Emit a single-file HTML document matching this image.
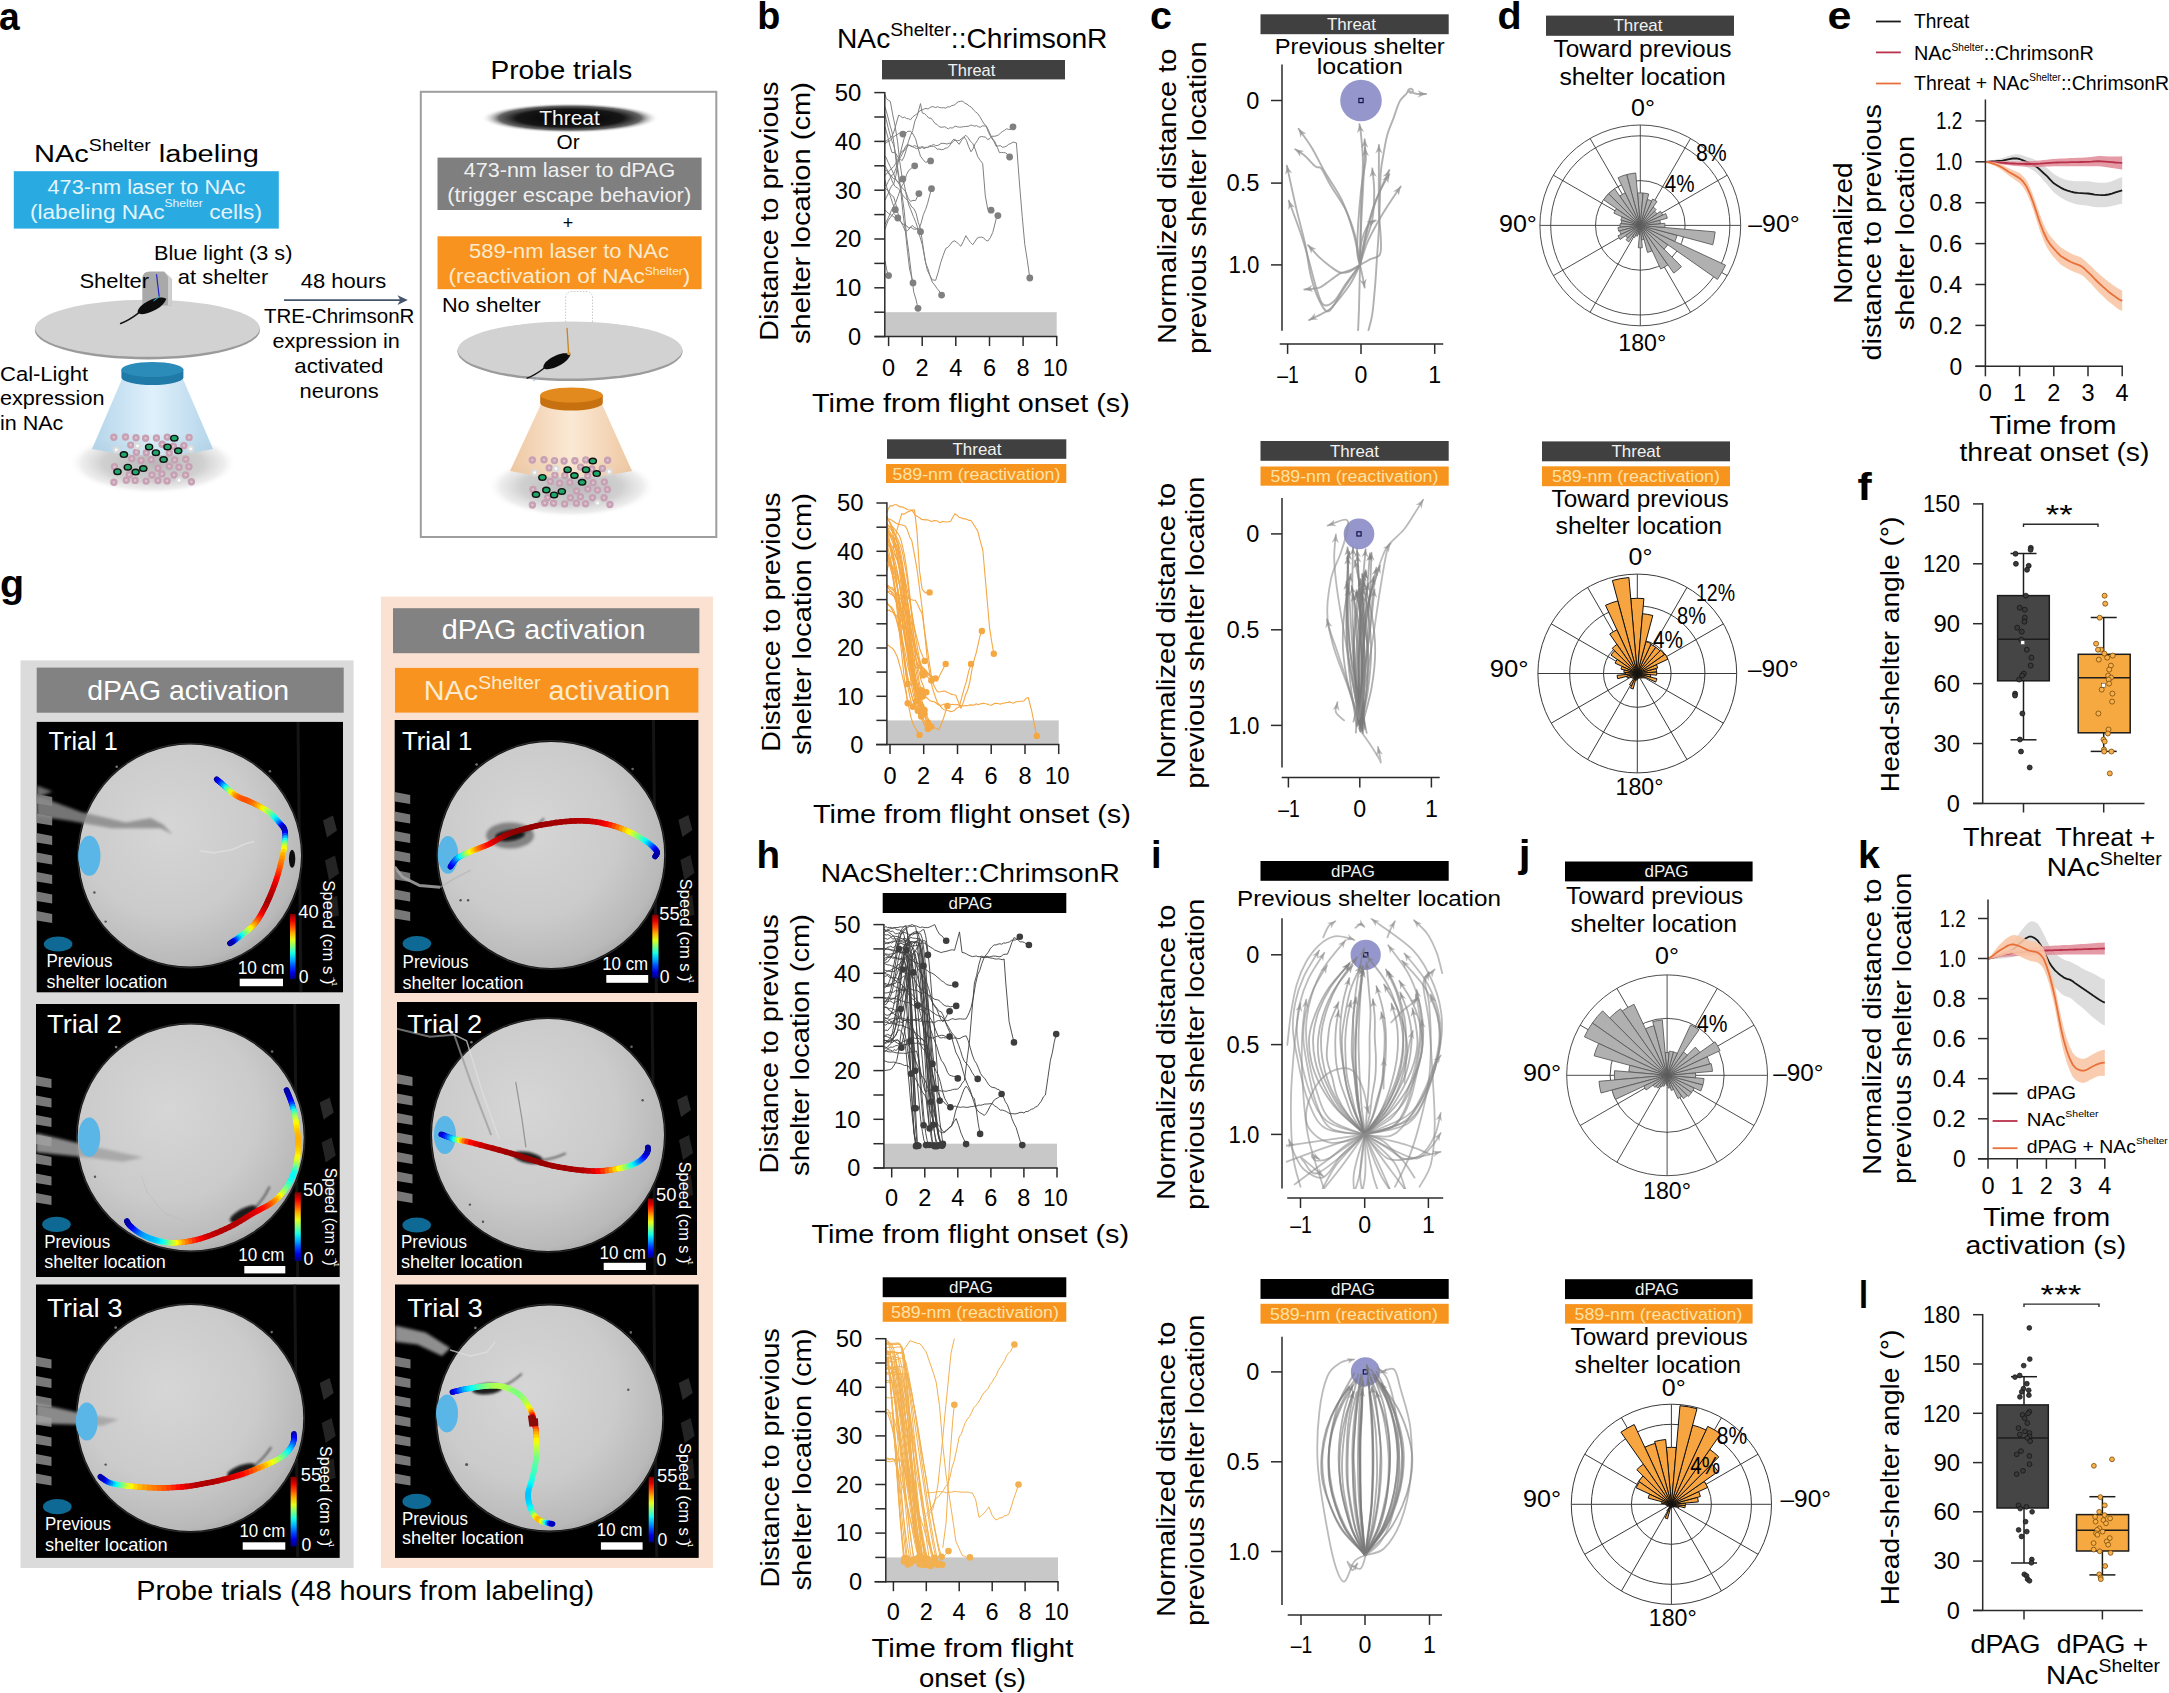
<!DOCTYPE html>
<html lang="en"><head><meta charset="utf-8"><title>Figure</title>
<style>html,body{margin:0;padding:0;background:#fff}svg{display:block}text{font-family:"Liberation Sans",Arial,sans-serif}</style></head>
<body>
<svg width="2169" height="1693" viewBox="0 0 2169 1693">
<rect width="2169" height="1693" fill="#fff"/>
<defs><radialGradient id="thr"><stop offset="0" stop-color="#000"/><stop offset="0.6" stop-color="#161616"/><stop offset="0.8" stop-color="#4a4a4a" stop-opacity="0.85"/><stop offset="1" stop-color="#fff" stop-opacity="0"/></radialGradient><radialGradient id="shad"><stop offset="0" stop-color="#b8b8b8"/><stop offset="0.6" stop-color="#d0d0d0"/><stop offset="0.85" stop-color="#e9e9e9" stop-opacity="0.8"/><stop offset="1" stop-color="#ffffff" stop-opacity="0"/></radialGradient><linearGradient id="coneB" x1="0" x2="1"><stop offset="0" stop-color="#a7cde6"/><stop offset="0.5" stop-color="#d9eefa"/><stop offset="1" stop-color="#a7cde6"/></linearGradient><linearGradient id="coneO" x1="0" x2="1"><stop offset="0" stop-color="#ecc096"/><stop offset="0.5" stop-color="#fae6cf"/><stop offset="1" stop-color="#ecc096"/></linearGradient></defs>
<text transform="translate(-1,29.5) scale(0.955,1)" font-size="39" fill="#000" font-weight="bold">a</text>
<text transform="translate(34,162.3) scale(1.185,1)" font-size="24.5">NAc<tspan font-size="16.5" dy="-11">Shelter</tspan><tspan font-size="24.5" dy="11"> labeling</tspan></text>
<rect x="13.8" y="171.2" width="265.0" height="57.4" fill="#29abe2"/>
<text transform="translate(47.5,193.5) scale(1.060,1)" font-size="20.5" fill="#e4f4fc">473-nm laser to NAc</text>
<text transform="translate(30,218.8) scale(1.103,1)" font-size="20.5" fill="#e4f4fc">(labeling NAc<tspan font-size="11" dy="-11.5">Shelter</tspan><tspan font-size="20.5" dy="11.5"> cells)</tspan></text>
<text transform="translate(154,260) scale(1.056,1)" font-size="20.5">Blue light (3 s)</text>
<text transform="translate(177.8,284.2) scale(1.073,1)" font-size="20.5">at shelter</text>
<text transform="translate(300.7,288.1) scale(1.073,1)" font-size="20.5">48 hours</text>
<path d="M284,300.1L401,300.1" stroke="#44546a" stroke-width="1.6" />
<path d="M407.8,300.1 L397.5,295.3 L400.3,300.1 L397.5,304.9 Z" fill="#44546a"/>
<text transform="translate(264,323.3) scale(1.001,1)" font-size="20.5">TRE-ChrimsonR</text>
<text transform="translate(272.5,348.1) scale(1.055,1)" font-size="20.5">expression in</text>
<text transform="translate(294.3,373.3) scale(1.087,1)" font-size="20.5">activated</text>
<text transform="translate(299.6,398.1) scale(1.068,1)" font-size="20.5">neurons</text>
<text transform="translate(0,380.7) scale(1.074,1)" font-size="20.5">Cal-Light</text>
<text transform="translate(0,405.3) scale(1.054,1)" font-size="20.5">expression</text>
<text transform="translate(0,430.4) scale(1.050,1)" font-size="20.5">in NAc</text>
<ellipse cx="147.4" cy="329.9" rx="112.6" ry="29.5" fill="#9b9b9b"/>
<ellipse cx="147.4" cy="328.3" rx="112.3" ry="28.5" fill="#d2d2d2"/>
<path d="M142.3,305.5 V279 Q142.3,271.6 150,271.6 H164 L171.8,279 V305.5 Z" fill="#a9a9a9"/>
<path d="M164,271.6 L171.8,279 V305.5 H168 V277 Z" fill="#cfcfcf"/>
<text transform="translate(79.4,287.7) scale(1.072,1)" font-size="20.5">Shelter</text>
<g transform="translate(151.0,306.0) rotate(-27) scale(1.0)">
<path d="M-15,0 C-13,-5 -4,-6.3 4,-5.6 C10,-5.2 15,-2.5 17,0.5 C14,3.4 9,5.2 3,5.4 C-5,5.6 -13,4.4 -15,0 Z" fill="#0c0c0c"/>
<path d="M-14,0.5 C-22,2 -28,2.5 -35,1.8" fill="none" stroke="#111" stroke-width="1.5" stroke-linecap="round"/>
</g>
<path d="M156.5,274.2L159.2,296.8" stroke="#2424c8" stroke-width="1.2" />
<path d="M159.2,296.8L153.5,301" stroke="#35c0e0" stroke-width="1.0" />
<ellipse cx="153.0" cy="463.0" rx="84.0" ry="31.0" fill="url(#shad)"/>
<path d="M122,379 L92,449 Q152.5,462 213,449 L183,379 Z" fill="url(#coneB)" opacity="0.85"/>
<path d="M121.4,369.5 V377.5 A31,7.5 0 0 0 183.4,377.5 V369.5 Z" fill="#1f7aa8"/>
<ellipse cx="152.4" cy="369.5" rx="31.0" ry="7.5" fill="#2b8cba"/>
<circle cx="113.8" cy="437.2" r="2.5" fill="#dcc3cf" stroke="#c7a0b3" stroke-width="2.4"/>
<circle cx="125.5" cy="437" r="2.5" fill="#dcc3cf" stroke="#c7a0b3" stroke-width="2.4"/>
<circle cx="136" cy="437.8" r="2.5" fill="#dcc3cf" stroke="#c7a0b3" stroke-width="2.4"/>
<circle cx="145.6" cy="438.2" r="2.5" fill="#dcc3cf" stroke="#c7a0b3" stroke-width="2.4"/>
<circle cx="156.4" cy="438" r="2.5" fill="#dcc3cf" stroke="#c7a0b3" stroke-width="2.4"/>
<circle cx="167.3" cy="437.1" r="2.5" fill="#dcc3cf" stroke="#c7a0b3" stroke-width="2.4"/>
<circle cx="189.1" cy="437.4" r="2.5" fill="#dcc3cf" stroke="#c7a0b3" stroke-width="2.4"/>
<circle cx="130.7" cy="445.1" r="2.5" fill="#dcc3cf" stroke="#c7a0b3" stroke-width="2.4"/>
<circle cx="162.1" cy="444.3" r="2.5" fill="#dcc3cf" stroke="#c7a0b3" stroke-width="2.4"/>
<circle cx="173.4" cy="446.2" r="2.5" fill="#dcc3cf" stroke="#c7a0b3" stroke-width="2.4"/>
<circle cx="183.9" cy="445.6" r="2.5" fill="#dcc3cf" stroke="#c7a0b3" stroke-width="2.4"/>
<circle cx="136.4" cy="452.3" r="2.5" fill="#dcc3cf" stroke="#c7a0b3" stroke-width="2.4"/>
<circle cx="146.3" cy="452.7" r="2.5" fill="#dcc3cf" stroke="#c7a0b3" stroke-width="2.4"/>
<circle cx="169.3" cy="453" r="2.5" fill="#dcc3cf" stroke="#c7a0b3" stroke-width="2.4"/>
<circle cx="131.8" cy="458.6" r="2.5" fill="#dcc3cf" stroke="#c7a0b3" stroke-width="2.4"/>
<circle cx="141.1" cy="460.4" r="2.5" fill="#dcc3cf" stroke="#c7a0b3" stroke-width="2.4"/>
<circle cx="151.3" cy="459.6" r="2.5" fill="#dcc3cf" stroke="#c7a0b3" stroke-width="2.4"/>
<circle cx="174.6" cy="459.9" r="2.5" fill="#dcc3cf" stroke="#c7a0b3" stroke-width="2.4"/>
<circle cx="185.8" cy="459.2" r="2.5" fill="#dcc3cf" stroke="#c7a0b3" stroke-width="2.4"/>
<circle cx="114.5" cy="466.7" r="2.5" fill="#dcc3cf" stroke="#c7a0b3" stroke-width="2.4"/>
<circle cx="158" cy="468.2" r="2.5" fill="#dcc3cf" stroke="#c7a0b3" stroke-width="2.4"/>
<circle cx="169.3" cy="466.2" r="2.5" fill="#dcc3cf" stroke="#c7a0b3" stroke-width="2.4"/>
<circle cx="179" cy="467.3" r="2.5" fill="#dcc3cf" stroke="#c7a0b3" stroke-width="2.4"/>
<circle cx="188.9" cy="466.7" r="2.5" fill="#dcc3cf" stroke="#c7a0b3" stroke-width="2.4"/>
<circle cx="129.3" cy="474.7" r="2.5" fill="#dcc3cf" stroke="#c7a0b3" stroke-width="2.4"/>
<circle cx="151.9" cy="475" r="2.5" fill="#dcc3cf" stroke="#c7a0b3" stroke-width="2.4"/>
<circle cx="161.9" cy="473.9" r="2.5" fill="#dcc3cf" stroke="#c7a0b3" stroke-width="2.4"/>
<circle cx="174" cy="475" r="2.5" fill="#dcc3cf" stroke="#c7a0b3" stroke-width="2.4"/>
<circle cx="185.6" cy="475" r="2.5" fill="#dcc3cf" stroke="#c7a0b3" stroke-width="2.4"/>
<circle cx="113.9" cy="482.2" r="2.5" fill="#dcc3cf" stroke="#c7a0b3" stroke-width="2.4"/>
<circle cx="126.3" cy="480.2" r="2.5" fill="#dcc3cf" stroke="#c7a0b3" stroke-width="2.4"/>
<circle cx="135.1" cy="480.4" r="2.5" fill="#dcc3cf" stroke="#c7a0b3" stroke-width="2.4"/>
<circle cx="146.1" cy="481.1" r="2.5" fill="#dcc3cf" stroke="#c7a0b3" stroke-width="2.4"/>
<circle cx="157.9" cy="480.5" r="2.5" fill="#dcc3cf" stroke="#c7a0b3" stroke-width="2.4"/>
<circle cx="167.1" cy="480.9" r="2.5" fill="#dcc3cf" stroke="#c7a0b3" stroke-width="2.4"/>
<circle cx="191.4" cy="481.7" r="2.5" fill="#dcc3cf" stroke="#c7a0b3" stroke-width="2.4"/>
<circle cx="137.5" cy="445.9" r="2.5" fill="#ffffff" stroke="#dcdcdc" stroke-width="2.2"/>
<circle cx="190.7" cy="448.8" r="2.5" fill="#ffffff" stroke="#dcdcdc" stroke-width="2.2"/>
<circle cx="116.2" cy="449.8" r="2.5" fill="#ffffff" stroke="#dcdcdc" stroke-width="2.2"/>
<circle cx="179.1" cy="480.4" r="2.5" fill="#ffffff" stroke="#dcdcdc" stroke-width="2.2"/>
<ellipse cx="174.3" cy="438.2" rx="4.3" ry="3.5" fill="#111"/>
<ellipse cx="174.3" cy="438.2" rx="2.8" ry="2.1" fill="#1fa869"/>
<ellipse cx="149.1" cy="446.9" rx="4.3" ry="3.5" fill="#111"/>
<ellipse cx="149.1" cy="446.9" rx="2.8" ry="2.1" fill="#1fa869"/>
<ellipse cx="167.5" cy="446.9" rx="4.3" ry="3.5" fill="#111"/>
<ellipse cx="167.5" cy="446.9" rx="2.8" ry="2.1" fill="#1fa869"/>
<ellipse cx="178.2" cy="450.8" rx="4.3" ry="3.5" fill="#111"/>
<ellipse cx="178.2" cy="450.8" rx="2.8" ry="2.1" fill="#1fa869"/>
<ellipse cx="123.9" cy="454.6" rx="4.3" ry="3.5" fill="#111"/>
<ellipse cx="123.9" cy="454.6" rx="2.8" ry="2.1" fill="#1fa869"/>
<ellipse cx="155.9" cy="452.7" rx="4.3" ry="3.5" fill="#111"/>
<ellipse cx="155.9" cy="452.7" rx="2.8" ry="2.1" fill="#1fa869"/>
<ellipse cx="163.6" cy="459.5" rx="4.3" ry="3.5" fill="#111"/>
<ellipse cx="163.6" cy="459.5" rx="2.8" ry="2.1" fill="#1fa869"/>
<ellipse cx="127.8" cy="467.2" rx="4.3" ry="3.5" fill="#111"/>
<ellipse cx="127.8" cy="467.2" rx="2.8" ry="2.1" fill="#1fa869"/>
<ellipse cx="143.3" cy="468.6" rx="4.3" ry="3.5" fill="#111"/>
<ellipse cx="143.3" cy="468.6" rx="2.8" ry="2.1" fill="#1fa869"/>
<ellipse cx="117.5" cy="471.7" rx="4.3" ry="3.5" fill="#111"/>
<ellipse cx="117.5" cy="471.7" rx="2.8" ry="2.1" fill="#1fa869"/>
<ellipse cx="135.6" cy="472.1" rx="4.3" ry="3.5" fill="#111"/>
<ellipse cx="135.6" cy="472.1" rx="2.8" ry="2.1" fill="#1fa869"/>
<text transform="translate(490.5,79.2) scale(1.078,1)" font-size="26">Probe trials</text>
<rect x="420.8" y="91.8" width="295.5" height="445.2" fill="none" stroke="#9e9e9e" stroke-width="2"/>
<ellipse cx="570.0" cy="118.1" rx="89.0" ry="15.0" fill="url(#thr)"/>
<text transform="translate(539.3,124.6) scale(0.996,1)" font-size="21" fill="#f5f5f5">Threat</text>
<text transform="translate(556.6,148.9) scale(1.015,1)" font-size="20.5">Or</text>
<rect x="437.5" y="157.6" width="264.1" height="52.4" fill="#7f7f7f"/>
<text transform="translate(463.8,177.2) scale(1.051,1)" font-size="20.5" fill="#f0f0f0">473-nm laser to dPAG</text>
<text transform="translate(447.2,202.1) scale(1.071,1)" font-size="20.5" fill="#f0f0f0">(trigger escape behavior)</text>
<text transform="translate(562.8,229) scale(1.000,1)" font-size="18">+</text>
<rect x="437.5" y="236.3" width="264.1" height="52.9" fill="#f7931e"/>
<text transform="translate(469.1,257.7) scale(1.070,1)" font-size="20.5" fill="#fdebd0">589-nm laser to NAc</text>
<text transform="translate(448.6,282.5) scale(1.097,1)" font-size="20.5" fill="#fdebd0">(reactivation of NAc<tspan font-size="11" dy="-8">Shelter</tspan><tspan font-size="20.5" dy="8">)</tspan></text>
<text transform="translate(441.9,311.5) scale(1.058,1)" font-size="20.5">No shelter</text>
<path d="M565.6,322 V298 Q565.6,291.5 572,291.5 H586 Q592.5,291.5 592.5,298 V322" fill="none" stroke="#bdbdbd" stroke-width="0.8" stroke-dasharray="1.5,1.5"/>
<ellipse cx="570.0" cy="351.6" rx="112.6" ry="29.5" fill="#9b9b9b"/>
<ellipse cx="570.0" cy="350.0" rx="112.3" ry="28.5" fill="#d2d2d2"/>
<g transform="translate(556.0,361.5) rotate(-27) scale(0.95)">
<path d="M-15,0 C-13,-5 -4,-6.3 4,-5.6 C10,-5.2 15,-2.5 17,0.5 C14,3.4 9,5.2 3,5.4 C-5,5.6 -13,4.4 -15,0 Z" fill="#0c0c0c"/>
<path d="M-14,0.5 C-22,2 -28,2.5 -35,1.8" fill="none" stroke="#111" stroke-width="1.5" stroke-linecap="round"/>
</g>
<path d="M567,327.9L568.6,352.7" stroke="#c8861a" stroke-width="1.3" />
<circle cx="568.8" cy="353.5" r="1.8" fill="#d89a3a"/>
<path d="M533,381L540,377" stroke="#9db4d6" stroke-width="0.8" />
<ellipse cx="571.5" cy="486.5" rx="84.0" ry="31.0" fill="url(#shad)"/>
<path d="M540.8,404.5 L510,471 Q571.5,484 632,471 L602.2,404.5 Z" fill="url(#coneO)" opacity="0.88"/>
<path d="M540.2,395 V403 A31.3,7.5 0 0 0 602.8,403 V395 Z" fill="#c7700f"/>
<ellipse cx="571.5" cy="395.0" rx="31.3" ry="7.5" fill="#e38a1e"/>
<circle cx="532.3" cy="460" r="2.5" fill="#dcc3cf" stroke="#c7a0b3" stroke-width="2.4"/>
<circle cx="544" cy="459.8" r="2.5" fill="#dcc3cf" stroke="#c7a0b3" stroke-width="2.4"/>
<circle cx="554.5" cy="460.6" r="2.5" fill="#dcc3cf" stroke="#c7a0b3" stroke-width="2.4"/>
<circle cx="564.1" cy="461" r="2.5" fill="#dcc3cf" stroke="#c7a0b3" stroke-width="2.4"/>
<circle cx="574.9" cy="460.8" r="2.5" fill="#dcc3cf" stroke="#c7a0b3" stroke-width="2.4"/>
<circle cx="585.8" cy="459.9" r="2.5" fill="#dcc3cf" stroke="#c7a0b3" stroke-width="2.4"/>
<circle cx="607.6" cy="460.2" r="2.5" fill="#dcc3cf" stroke="#c7a0b3" stroke-width="2.4"/>
<circle cx="549.2" cy="467.9" r="2.5" fill="#dcc3cf" stroke="#c7a0b3" stroke-width="2.4"/>
<circle cx="580.6" cy="467.1" r="2.5" fill="#dcc3cf" stroke="#c7a0b3" stroke-width="2.4"/>
<circle cx="591.9" cy="469" r="2.5" fill="#dcc3cf" stroke="#c7a0b3" stroke-width="2.4"/>
<circle cx="602.4" cy="468.4" r="2.5" fill="#dcc3cf" stroke="#c7a0b3" stroke-width="2.4"/>
<circle cx="554.9" cy="475.1" r="2.5" fill="#dcc3cf" stroke="#c7a0b3" stroke-width="2.4"/>
<circle cx="564.8" cy="475.5" r="2.5" fill="#dcc3cf" stroke="#c7a0b3" stroke-width="2.4"/>
<circle cx="587.8" cy="475.8" r="2.5" fill="#dcc3cf" stroke="#c7a0b3" stroke-width="2.4"/>
<circle cx="550.3" cy="481.4" r="2.5" fill="#dcc3cf" stroke="#c7a0b3" stroke-width="2.4"/>
<circle cx="559.6" cy="483.2" r="2.5" fill="#dcc3cf" stroke="#c7a0b3" stroke-width="2.4"/>
<circle cx="569.8" cy="482.4" r="2.5" fill="#dcc3cf" stroke="#c7a0b3" stroke-width="2.4"/>
<circle cx="593.1" cy="482.7" r="2.5" fill="#dcc3cf" stroke="#c7a0b3" stroke-width="2.4"/>
<circle cx="604.3" cy="482" r="2.5" fill="#dcc3cf" stroke="#c7a0b3" stroke-width="2.4"/>
<circle cx="533" cy="489.5" r="2.5" fill="#dcc3cf" stroke="#c7a0b3" stroke-width="2.4"/>
<circle cx="576.5" cy="491" r="2.5" fill="#dcc3cf" stroke="#c7a0b3" stroke-width="2.4"/>
<circle cx="587.8" cy="489" r="2.5" fill="#dcc3cf" stroke="#c7a0b3" stroke-width="2.4"/>
<circle cx="597.5" cy="490.1" r="2.5" fill="#dcc3cf" stroke="#c7a0b3" stroke-width="2.4"/>
<circle cx="607.4" cy="489.5" r="2.5" fill="#dcc3cf" stroke="#c7a0b3" stroke-width="2.4"/>
<circle cx="547.8" cy="497.5" r="2.5" fill="#dcc3cf" stroke="#c7a0b3" stroke-width="2.4"/>
<circle cx="570.4" cy="497.8" r="2.5" fill="#dcc3cf" stroke="#c7a0b3" stroke-width="2.4"/>
<circle cx="580.4" cy="496.7" r="2.5" fill="#dcc3cf" stroke="#c7a0b3" stroke-width="2.4"/>
<circle cx="592.5" cy="497.8" r="2.5" fill="#dcc3cf" stroke="#c7a0b3" stroke-width="2.4"/>
<circle cx="604.1" cy="497.8" r="2.5" fill="#dcc3cf" stroke="#c7a0b3" stroke-width="2.4"/>
<circle cx="532.4" cy="505" r="2.5" fill="#dcc3cf" stroke="#c7a0b3" stroke-width="2.4"/>
<circle cx="544.8" cy="503" r="2.5" fill="#dcc3cf" stroke="#c7a0b3" stroke-width="2.4"/>
<circle cx="553.6" cy="503.2" r="2.5" fill="#dcc3cf" stroke="#c7a0b3" stroke-width="2.4"/>
<circle cx="564.6" cy="503.9" r="2.5" fill="#dcc3cf" stroke="#c7a0b3" stroke-width="2.4"/>
<circle cx="576.4" cy="503.3" r="2.5" fill="#dcc3cf" stroke="#c7a0b3" stroke-width="2.4"/>
<circle cx="585.6" cy="503.7" r="2.5" fill="#dcc3cf" stroke="#c7a0b3" stroke-width="2.4"/>
<circle cx="609.9" cy="504.5" r="2.5" fill="#dcc3cf" stroke="#c7a0b3" stroke-width="2.4"/>
<circle cx="556" cy="468.7" r="2.5" fill="#ffffff" stroke="#dcdcdc" stroke-width="2.2"/>
<circle cx="609.2" cy="471.6" r="2.5" fill="#ffffff" stroke="#dcdcdc" stroke-width="2.2"/>
<circle cx="534.7" cy="472.6" r="2.5" fill="#ffffff" stroke="#dcdcdc" stroke-width="2.2"/>
<circle cx="597.6" cy="503.2" r="2.5" fill="#ffffff" stroke="#dcdcdc" stroke-width="2.2"/>
<ellipse cx="592.8" cy="461.0" rx="4.3" ry="3.5" fill="#111"/>
<ellipse cx="592.8" cy="461.0" rx="2.8" ry="2.1" fill="#1fa869"/>
<ellipse cx="567.6" cy="469.7" rx="4.3" ry="3.5" fill="#111"/>
<ellipse cx="567.6" cy="469.7" rx="2.8" ry="2.1" fill="#1fa869"/>
<ellipse cx="586.0" cy="469.7" rx="4.3" ry="3.5" fill="#111"/>
<ellipse cx="586.0" cy="469.7" rx="2.8" ry="2.1" fill="#1fa869"/>
<ellipse cx="596.7" cy="473.6" rx="4.3" ry="3.5" fill="#111"/>
<ellipse cx="596.7" cy="473.6" rx="2.8" ry="2.1" fill="#1fa869"/>
<ellipse cx="542.4" cy="477.4" rx="4.3" ry="3.5" fill="#111"/>
<ellipse cx="542.4" cy="477.4" rx="2.8" ry="2.1" fill="#1fa869"/>
<ellipse cx="574.4" cy="475.5" rx="4.3" ry="3.5" fill="#111"/>
<ellipse cx="574.4" cy="475.5" rx="2.8" ry="2.1" fill="#1fa869"/>
<ellipse cx="582.1" cy="482.3" rx="4.3" ry="3.5" fill="#111"/>
<ellipse cx="582.1" cy="482.3" rx="2.8" ry="2.1" fill="#1fa869"/>
<ellipse cx="546.3" cy="490.0" rx="4.3" ry="3.5" fill="#111"/>
<ellipse cx="546.3" cy="490.0" rx="2.8" ry="2.1" fill="#1fa869"/>
<ellipse cx="561.8" cy="491.4" rx="4.3" ry="3.5" fill="#111"/>
<ellipse cx="561.8" cy="491.4" rx="2.8" ry="2.1" fill="#1fa869"/>
<ellipse cx="536.0" cy="494.5" rx="4.3" ry="3.5" fill="#111"/>
<ellipse cx="536.0" cy="494.5" rx="2.8" ry="2.1" fill="#1fa869"/>
<ellipse cx="554.1" cy="494.9" rx="4.3" ry="3.5" fill="#111"/>
<ellipse cx="554.1" cy="494.9" rx="2.8" ry="2.1" fill="#1fa869"/>
<defs><radialGradient id="areG" cx="0.4" cy="0.38" r="0.72"><stop offset="0" stop-color="#d6d6d6"/><stop offset="0.55" stop-color="#cbcbcb"/><stop offset="0.85" stop-color="#b9b9b9"/><stop offset="1" stop-color="#9c9c9c"/></radialGradient><linearGradient id="jetG" x1="0" y1="1" x2="0" y2="0"><stop offset="0.0" stop-color="#00007f"/><stop offset="0.1" stop-color="#0000e5"/><stop offset="0.2" stop-color="#004cff"/><stop offset="0.3" stop-color="#00b2ff"/><stop offset="0.4" stop-color="#19ffe5"/><stop offset="0.5" stop-color="#7fff7f"/><stop offset="0.6" stop-color="#e5ff19"/><stop offset="0.7" stop-color="#ffb200"/><stop offset="0.8" stop-color="#ff4c00"/><stop offset="0.9" stop-color="#e50000"/><stop offset="1.0" stop-color="#7f0000"/></linearGradient><filter id="blur2" x="-30%" y="-80%" width="160%" height="260%"><feGaussianBlur stdDeviation="1.1"/></filter><filter id="blur3" x="-10%" y="-50%" width="120%" height="200%"><feGaussianBlur stdDeviation="1.6"/></filter></defs>
<text transform="translate(0,597.3) scale(1.011,1)" font-size="39" fill="#000" font-weight="bold">g</text>
<rect x="20.5" y="660.4" width="333.1" height="907.6" fill="#dbdbdb"/>
<rect x="381.0" y="596.6" width="332.0" height="971.4" fill="#fbe1d2"/>
<rect x="36.7" y="667.6" width="307.0" height="45.1" fill="#828282"/>
<text transform="translate(87.3,699.8) scale(1.053,1)" font-size="27" fill="#fff">dPAG activation</text>
<rect x="393.0" y="608.2" width="306.4" height="45.0" fill="#828282"/>
<text transform="translate(441.8,639.3) scale(1.064,1)" font-size="27" fill="#fff">dPAG activation</text>
<rect x="395.0" y="667.9" width="303.4" height="44.7" fill="#f7931e"/>
<text transform="translate(423.7,699.6) scale(1.067,1)" font-size="27" fill="#fdebd0">NAc<tspan font-size="18.5" dy="-11">Shelter</tspan><tspan font-size="27" dy="11"> activation</tspan></text>
<clipPath id="ic1"><rect x="36.7" y="721.9" width="306.3" height="270.4"/></clipPath>
<clipPath id="ac1"><circle cx="190.0" cy="855.6" r="111.0"/></clipPath>
<rect x="36.7" y="721.9" width="306.3" height="270.4" fill="#000"/>
<g clip-path="url(#ic1)">
<polygon points="36.7,793.9 52.2,796.9 52.2,805.9 36.7,803.4" fill="#8d8d8d" opacity="0.85"/>
<polygon points="36.7,813.4 52.2,816.4 52.2,825.4 36.7,822.9" fill="#8d8d8d" opacity="0.85"/>
<polygon points="36.7,832.9 52.2,835.9 52.2,844.9 36.7,842.4" fill="#8d8d8d" opacity="0.85"/>
<polygon points="36.7,852.4 52.2,855.4 52.2,864.4 36.7,861.9" fill="#8d8d8d" opacity="0.85"/>
<polygon points="36.7,871.9 52.2,874.9 52.2,883.9 36.7,881.4" fill="#8d8d8d" opacity="0.85"/>
<polygon points="36.7,891.4 52.2,894.4 52.2,903.4 36.7,900.9" fill="#8d8d8d" opacity="0.85"/>
<polygon points="36.7,910.9 52.2,913.9 52.2,922.9 36.7,920.4" fill="#8d8d8d" opacity="0.85"/>
<polygon points="323,820.6 333,815.6 337,830.6 327,837.6" fill="#2a2a2a"/>
<polygon points="325,860.6 335,855.6 339,873.6 329,880.6" fill="#242424"/>
<polygon points="328,900.6 337,895.6 339,915.6 331,917.6" fill="#1e1e1e"/>
<path d="M298,721.9L301,992.3" stroke="#141414" stroke-width="3" />
<circle cx="190" cy="855.6" r="112.2" fill="#0a0a0a" stroke="#2b2b2b" stroke-width="1.2"/>
<circle cx="190" cy="855.6" r="111" fill="url(#areG)"/>
<circle cx="116.7" cy="766.8" r="1.3" fill="#777"/>
<circle cx="269.9" cy="771.2" r="1.3" fill="#666"/>
<g filter="url(#blur3)">
<polygon points="36.7,795.6 81.1,812 126,822.5 150.5,818.1 162.7,824.2 172.9,834.4 160.6,828.3 142.3,828.3 111.7,828.3 71,821.1 36.7,816" fill="#8a8a8a" opacity="0.85"/>
<polygon points="36.7,785.5 52.6,791.6 36.7,797.7" fill="#6a6a6a"/>
</g>
<path d="M199.4,850.7 L213.6,852.7 L232.0,849.7 L246.3,843.5 L254.4,841.5" fill="none" stroke="#e2e2e2" stroke-width="1.5" opacity="0.7"/>
<g clip-path="url(#ac1)">
<circle cx="94.4" cy="892.5" r="1.2" fill="#555"/>
<circle cx="105.6" cy="921.6" r="1.2" fill="#555"/>
</g>
<ellipse cx="89.3" cy="855.8" rx="11.2" ry="20.0" fill="#5ab6e6"/>
<g stroke-width="5.6" stroke-linecap="round">
<path d="M216.7,779.3L217.3,779.9" stroke="#00009d"/>
<path d="M217.3,779.9L218.1,780.5" stroke="#0000b2"/>
<path d="M218.1,780.5L219,781.3" stroke="#0000cc"/>
<path d="M219,781.3L220,782.2" stroke="#0000eb"/>
<path d="M220,782.2L221.2,783.2" stroke="#0010ff"/>
<path d="M221.2,783.2L222.5,784.3" stroke="#0039ff"/>
<path d="M222.5,784.3L223.8,785.5" stroke="#0067ff"/>
<path d="M223.8,785.5L225.3,786.7" stroke="#009dff"/>
<path d="M225.3,786.7L226.8,788.2" stroke="#00deff"/>
<path d="M226.8,788.2L228.5,789.7" stroke="#2bffd3"/>
<path d="M228.5,789.7L230.3,791.3" stroke="#7aff84"/>
<path d="M230.3,791.3L232.1,792.8" stroke="#c8ff36"/>
<path d="M232.1,792.8L234.1,794.3" stroke="#ffef00"/>
<path d="M234.1,794.3L236.1,795.6" stroke="#ffb600"/>
<path d="M236.1,795.6L238.2,796.8" stroke="#ff8d00"/>
<path d="M238.2,796.8L240.4,797.8" stroke="#ff7100"/>
<path d="M240.4,797.8L242.8,798.8" stroke="#ff5e00"/>
<path d="M242.8,798.8L245.2,799.7" stroke="#ff5300"/>
<path d="M245.2,799.7L247.6,800.7" stroke="#ff5000"/>
<path d="M247.6,800.7L250,801.7" stroke="#ff5300"/>
<path d="M250,801.7L252.4,802.8" stroke="#ff5b00"/>
<path d="M252.4,802.8L254.8,804" stroke="#ff6900"/>
<path d="M254.8,804L257.2,805.2" stroke="#ff8000"/>
<path d="M257.2,805.2L259.7,806.5" stroke="#ff9e00"/>
<path d="M259.7,806.5L262.1,807.8" stroke="#ffc200"/>
<path d="M262.1,807.8L264.5,809.2" stroke="#ffea00"/>
<path d="M264.5,809.2L266.7,810.6" stroke="#ebff13"/>
<path d="M266.7,810.6L268.7,812" stroke="#c5ff39"/>
<path d="M268.7,812L270.5,813.4" stroke="#a0ff5e"/>
<path d="M270.5,813.4L272.2,814.8" stroke="#7dff81"/>
<path d="M272.2,814.8L273.7,816.3" stroke="#58ffa6"/>
<path d="M273.7,816.3L275.1,817.8" stroke="#34ffca"/>
<path d="M275.1,817.8L276.4,819.3" stroke="#0fffef"/>
<path d="M276.4,819.3L277.7,820.7" stroke="#00e9ff"/>
<path d="M277.7,820.7L278.9,822.1" stroke="#00c4ff"/>
<path d="M278.9,822.1L280,823.4" stroke="#009cff"/>
<path d="M280,823.4L281.1,824.6" stroke="#006cff"/>
<path d="M281.1,824.6L282.1,825.7" stroke="#0036ff"/>
<path d="M282.1,825.7L283.1,826.9" stroke="#0001ff"/>
<path d="M283.1,826.9L283.9,828.1" stroke="#0000d3"/>
<path d="M283.9,828.1L284.5,829.6" stroke="#0000b5"/>
<path d="M284.5,829.6L285,831.3" stroke="#0000af"/>
<path d="M285,831.3L285.2,833.3" stroke="#0000c6"/>
<path d="M285.2,833.3L285.3,835.5" stroke="#0000fe"/>
<path d="M285.3,835.5L285.3,837.9" stroke="#0050ff"/>
<path d="M285.3,837.9L285.1,840.4" stroke="#00afff"/>
<path d="M285.1,840.4L284.8,843.1" stroke="#15ffe9"/>
<path d="M284.8,843.1L284.4,845.8" stroke="#74ff8a"/>
<path d="M284.4,845.8L284,848.6" stroke="#c3ff3b"/>
<path d="M284,848.6L283.5,851.6" stroke="#fdff01"/>
<path d="M283.5,851.6L282.8,854.8" stroke="#ffd400"/>
<path d="M282.8,854.8L282.1,858.1" stroke="#ffb200"/>
<path d="M282.1,858.1L281.3,861.5" stroke="#ff9700"/>
<path d="M281.3,861.5L280.5,864.8" stroke="#ff8000"/>
<path d="M280.5,864.8L279.7,868" stroke="#ff6c00"/>
<path d="M279.7,868L278.9,871.1" stroke="#ff5700"/>
<path d="M278.9,871.1L278.1,873.9" stroke="#ff4100"/>
<path d="M278.1,873.9L277.3,876.6" stroke="#ff2b00"/>
<path d="M277.3,876.6L276.4,879.2" stroke="#ff1700"/>
<path d="M276.4,879.2L275.6,881.8" stroke="#ff0400"/>
<path d="M275.6,881.8L274.7,884.3" stroke="#f20000"/>
<path d="M274.7,884.3L273.7,886.8" stroke="#e40000"/>
<path d="M273.7,886.8L272.8,889.4" stroke="#d70000"/>
<path d="M272.8,889.4L271.7,892" stroke="#cb0000"/>
<path d="M271.7,892L270.6,894.7" stroke="#c00000"/>
<path d="M270.6,894.7L269.5,897.4" stroke="#b60000"/>
<path d="M269.5,897.4L268.3,900" stroke="#ad0000"/>
<path d="M268.3,900L267.1,902.7" stroke="#a80000"/>
<path d="M267.1,902.7L265.9,905.2" stroke="#a80000"/>
<path d="M265.9,905.2L264.6,907.8" stroke="#ae0000"/>
<path d="M264.6,907.8L263.3,910.2" stroke="#ba0000"/>
<path d="M263.3,910.2L262,912.7" stroke="#cc0000"/>
<path d="M262,912.7L260.6,915.1" stroke="#e40000"/>
<path d="M260.6,915.1L259.2,917.5" stroke="#ff0100"/>
<path d="M259.2,917.5L257.7,919.8" stroke="#ff2200"/>
<path d="M257.7,919.8L256.1,922" stroke="#ff4500"/>
<path d="M256.1,922L254.4,924.1" stroke="#ff6b00"/>
<path d="M254.4,924.1L252.5,926.1" stroke="#ff9400"/>
<path d="M252.5,926.1L250.5,928" stroke="#ffc100"/>
<path d="M250.5,928L248.4,929.9" stroke="#fff200"/>
<path d="M248.4,929.9L246.2,931.6" stroke="#d7ff27"/>
<path d="M246.2,931.6L244,933.3" stroke="#a1ff5d"/>
<path d="M244,933.3L242,934.8" stroke="#6aff94"/>
<path d="M242,934.8L240.1,936.3" stroke="#34ffca"/>
<path d="M240.1,936.3L238.4,937.6" stroke="#00fbff"/>
<path d="M238.4,937.6L236.6,938.9" stroke="#00c0ff"/>
<path d="M236.6,938.9L235,940.1" stroke="#0080ff"/>
<path d="M235,940.1L233.4,941.1" stroke="#0040ff"/>
<path d="M233.4,941.1L232,942.1" stroke="#0004ff"/>
<path d="M232,942.1L230.8,942.8" stroke="#0000cf"/>
<path d="M230.8,942.8L229.9,943.4" stroke="#0000a5"/>
</g>
</g>
<text transform="translate(48.5,749.8) scale(0.990,1)" font-size="25.5" fill="#fff">Trial 1</text>
<ellipse cx="58.1" cy="944.0" rx="14.3" ry="7.6" fill="#0e6a94"/>
<text transform="translate(46.5,966.9) scale(0.968,1)" font-size="17.5" fill="#fff">Previous</text>
<text transform="translate(46.5,988.3) scale(1.025,1)" font-size="17.5" fill="#fff">shelter location</text>
<text transform="translate(237.7,974) scale(0.957,1)" font-size="18" fill="#fff">10 cm</text>
<rect x="239.7" y="978.7" width="43.3" height="7.5" fill="#fff"/>
<rect x="290.0" y="913.9" width="5.6" height="65.2" fill="url(#jetG)"/>
<text transform="translate(298.2,918) scale(1.051,1)" font-size="17.5" fill="#fff">40</text>
<text transform="translate(298.8,983.2) scale(1.005,1)" font-size="17.5" fill="#fff">0</text>
<text transform="translate(323,934.8) rotate(90) scale(0.987,1)" x="-55.2" font-size="17" fill="#fff">Speed (cm s  )</text>
<text transform="translate(332.0,977.3) rotate(90)" font-size="8" fill="#fff">–1</text>
<ellipse cx="292.1" cy="858.8" rx="3.2" ry="9.0" fill="#0d0d0d"/>
<clipPath id="ic2"><rect x="394.7" y="720.0" width="303.7" height="273.0"/></clipPath>
<clipPath id="ac2"><circle cx="551.2" cy="854.9" r="113.0"/></clipPath>
<rect x="394.7" y="720.0" width="303.7" height="273.0" fill="#000"/>
<g clip-path="url(#ic2)">
<polygon points="394.7,792 410.2,795 410.2,804 394.7,801.5" fill="#8d8d8d" opacity="0.85"/>
<polygon points="394.7,811.5 410.2,814.5 410.2,823.5 394.7,821" fill="#8d8d8d" opacity="0.85"/>
<polygon points="394.7,831 410.2,834 410.2,843 394.7,840.5" fill="#8d8d8d" opacity="0.85"/>
<polygon points="394.7,850.5 410.2,853.5 410.2,862.5 394.7,860" fill="#8d8d8d" opacity="0.85"/>
<polygon points="394.7,870 410.2,873 410.2,882 394.7,879.5" fill="#8d8d8d" opacity="0.85"/>
<polygon points="394.7,889.5 410.2,892.5 410.2,901.5 394.7,899" fill="#8d8d8d" opacity="0.85"/>
<polygon points="394.7,909 410.2,912 410.2,921 394.7,918.5" fill="#8d8d8d" opacity="0.85"/>
<polygon points="678.4,819.9 688.4,814.9 692.4,829.9 682.4,836.9" fill="#2a2a2a"/>
<polygon points="680.4,859.9 690.4,854.9 694.4,872.9 684.4,879.9" fill="#242424"/>
<polygon points="683.4,899.9 692.4,894.9 694.4,914.9 686.4,916.9" fill="#1e1e1e"/>
<path d="M653.4,720L656.4,993" stroke="#141414" stroke-width="3" />
<circle cx="551.2" cy="854.9" r="114.2" fill="#0a0a0a" stroke="#2b2b2b" stroke-width="1.2"/>
<circle cx="551.2" cy="854.9" r="113" fill="url(#areG)"/>
<circle cx="476.6" cy="764.5" r="1.3" fill="#777"/>
<circle cx="632.6" cy="769" r="1.3" fill="#666"/>
<path d="M394.7,866.8 L402.6,877.1 L419.7,885.6 L440.1,887.3" fill="none" stroke="#a8a8a8" stroke-width="3" opacity="0.85"/>
<path d="M440.1,887.3 L453.8,878.8 L470.8,870.2" fill="none" stroke="#b0b0b0" stroke-width="1.5" opacity="0.6"/>
<g clip-path="url(#ac2)">
<circle cx="460.6" cy="900.3" r="1.2" fill="#555"/>
<circle cx="468.1" cy="900.3" r="1.2" fill="#555"/>
<ellipse cx="510.1" cy="835.4" rx="24" ry="13" fill="#333" opacity="0.5" filter="url(#blur3)"/>
</g>
<ellipse cx="448.0" cy="854.9" rx="10.2" ry="18.8" fill="#5ab6e6"/>
<g transform="translate(510.1,835.4) rotate(-8)" filter="url(#blur2)">
<ellipse cx="0" cy="0" rx="15" ry="5.6" fill="#0a0a0a" opacity="0.92"/>
<path d="M12,0 C20,-2 28,-6 36,-12" fill="none" stroke="#333" stroke-width="1.4"/>
</g>
<g stroke-width="5.6" stroke-linecap="round">
<path d="M450.4,866.8L450.9,866" stroke="#0000bb"/>
<path d="M450.9,866L451.6,865" stroke="#0000ce"/>
<path d="M451.6,865L452.4,863.7" stroke="#0000e6"/>
<path d="M452.4,863.7L453.4,862.3" stroke="#0003ff"/>
<path d="M453.4,862.3L454.5,860.9" stroke="#0023ff"/>
<path d="M454.5,860.9L455.8,859.5" stroke="#0046ff"/>
<path d="M455.8,859.5L457.2,858.3" stroke="#006cff"/>
<path d="M457.2,858.3L458.7,857.2" stroke="#0095ff"/>
<path d="M458.7,857.2L460.5,856.2" stroke="#00c4ff"/>
<path d="M460.5,856.2L462.4,855.3" stroke="#00f8ff"/>
<path d="M462.4,855.3L464.4,854.3" stroke="#2fffcf"/>
<path d="M464.4,854.3L466.5,853.4" stroke="#67ff97"/>
<path d="M466.5,853.4L468.6,852.4" stroke="#9cff62"/>
<path d="M468.6,852.4L470.8,851.5" stroke="#ceff30"/>
<path d="M470.8,851.5L473,850.5" stroke="#faff04"/>
<path d="M473,850.5L475.3,849.7" stroke="#ffd900"/>
<path d="M475.3,849.7L477.5,848.8" stroke="#ffb100"/>
<path d="M477.5,848.8L479.9,847.9" stroke="#ff8b00"/>
<path d="M479.9,847.9L482.4,847" stroke="#ff6700"/>
<path d="M482.4,847L485.1,845.9" stroke="#ff4600"/>
<path d="M485.1,845.9L487.9,844.7" stroke="#ff2800"/>
<path d="M487.9,844.7L490.9,843.2" stroke="#ff0c00"/>
<path d="M490.9,843.2L493.9,841.5" stroke="#f10000"/>
<path d="M493.9,841.5L497.1,839.7" stroke="#da0000"/>
<path d="M497.1,839.7L500.5,837.9" stroke="#c50000"/>
<path d="M500.5,837.9L504,836" stroke="#b40000"/>
<path d="M504,836L507.8,834.3" stroke="#a50000"/>
<path d="M507.8,834.3L511.8,832.7" stroke="#990000"/>
<path d="M511.8,832.7L516.1,831.3" stroke="#900000"/>
<path d="M516.1,831.3L520.8,829.9" stroke="#8c0000"/>
<path d="M520.8,829.9L525.7,828.5" stroke="#8c0000"/>
<path d="M525.7,828.5L530.7,827.3" stroke="#8f0000"/>
<path d="M530.7,827.3L535.8,826.1" stroke="#930000"/>
<path d="M535.8,826.1L540.9,825.1" stroke="#980000"/>
<path d="M540.9,825.1L545.9,824.2" stroke="#9c0000"/>
<path d="M545.9,824.2L550.8,823.4" stroke="#9f0000"/>
<path d="M550.8,823.4L555.8,822.6" stroke="#a00000"/>
<path d="M555.8,822.6L560.9,822" stroke="#a20000"/>
<path d="M560.9,822L565.9,821.5" stroke="#a40000"/>
<path d="M565.9,821.5L570.8,821.1" stroke="#a70000"/>
<path d="M570.8,821.1L575.5,820.9" stroke="#aa0000"/>
<path d="M575.5,820.9L580,820.8" stroke="#af0000"/>
<path d="M580,820.8L584.3,820.9" stroke="#b50000"/>
<path d="M584.3,820.9L588.4,821.1" stroke="#ba0000"/>
<path d="M588.4,821.1L592.4,821.5" stroke="#c00000"/>
<path d="M592.4,821.5L596.2,822" stroke="#c70000"/>
<path d="M596.2,822L600,822.6" stroke="#d00000"/>
<path d="M600,822.6L603.6,823.4" stroke="#dd0000"/>
<path d="M603.6,823.4L607.3,824.2" stroke="#ef0000"/>
<path d="M607.3,824.2L611,825.1" stroke="#ff0800"/>
<path d="M611,825.1L614.6,826.2" stroke="#ff2700"/>
<path d="M614.6,826.2L618.1,827.4" stroke="#ff4b00"/>
<path d="M618.1,827.4L621.6,828.7" stroke="#ff7300"/>
<path d="M621.6,828.7L625,830" stroke="#ff9c00"/>
<path d="M625,830L628.2,831.4" stroke="#ffc600"/>
<path d="M628.2,831.4L631.2,832.7" stroke="#fff000"/>
<path d="M631.2,832.7L634.1,834.1" stroke="#e6ff18"/>
<path d="M634.1,834.1L636.8,835.6" stroke="#bfff3f"/>
<path d="M636.8,835.6L639.4,837.1" stroke="#97ff67"/>
<path d="M639.4,837.1L641.9,838.6" stroke="#6fff8f"/>
<path d="M641.9,838.6L644.2,840.1" stroke="#47ffb7"/>
<path d="M644.2,840.1L646.3,841.6" stroke="#20ffde"/>
<path d="M646.3,841.6L648.2,842.9" stroke="#00f8ff"/>
<path d="M648.2,842.9L650,844.3" stroke="#00d1ff"/>
<path d="M650,844.3L651.6,845.6" stroke="#00aaff"/>
<path d="M651.6,845.6L653,846.9" stroke="#0081ff"/>
<path d="M653,846.9L654.3,848.1" stroke="#0059ff"/>
<path d="M654.3,848.1L655.3,849.3" stroke="#0033ff"/>
<path d="M655.3,849.3L656.2,850.4" stroke="#0011ff"/>
<path d="M656.2,850.4L656.8,851.5" stroke="#0000f2"/>
<path d="M656.8,851.5L657.1,852.4" stroke="#0000db"/>
<path d="M657.1,852.4L657,853.3" stroke="#0000c9"/>
<path d="M657,853.3L656.7,854.2" stroke="#0000bb"/>
<path d="M656.7,854.2L656.2,854.9" stroke="#0000b2"/>
<path d="M656.2,854.9L655.7,855.6" stroke="#0000ab"/>
<path d="M655.7,855.6L655.3,856.2" stroke="#0000a5"/>
<path d="M655.3,856.2L655.1,856.6" stroke="#0000a0"/>
</g>
</g>
<text transform="translate(401.9,750.1) scale(1.009,1)" font-size="25.5" fill="#fff">Trial 1</text>
<ellipse cx="416.9" cy="943.6" rx="14.3" ry="7.6" fill="#0e6a94"/>
<text transform="translate(402.6,967.5) scale(0.968,1)" font-size="17.5" fill="#fff">Previous</text>
<text transform="translate(402.6,988.6) scale(1.028,1)" font-size="17.5" fill="#fff">shelter location</text>
<text transform="translate(602.2,969.9) scale(0.939,1)" font-size="18" fill="#fff">10 cm</text>
<rect x="606.3" y="975.0" width="41.9" height="7.8" fill="#fff"/>
<rect x="652.3" y="914.6" width="6.2" height="63.8" fill="url(#jetG)"/>
<text transform="translate(659.2,920.4) scale(1.051,1)" font-size="17.5" fill="#fff">55</text>
<text transform="translate(659.8,982.8) scale(1.005,1)" font-size="17.5" fill="#fff">0</text>
<text transform="translate(679.5,932.5) rotate(90) scale(0.972,1)" x="-55.2" font-size="17" fill="#fff">Speed (cm s  )</text>
<text transform="translate(688.5,974.2) rotate(90)" font-size="8" fill="#fff">–1</text>
<clipPath id="ic3"><rect x="36.0" y="1004.0" width="303.7" height="273.0"/></clipPath>
<clipPath id="ac3"><circle cx="190.7" cy="1137.5" r="113.0"/></clipPath>
<rect x="36.0" y="1004.0" width="303.7" height="273.0" fill="#000"/>
<g clip-path="url(#ic3)">
<polygon points="36,1076 51.5,1079 51.5,1088 36,1085.5" fill="#8d8d8d" opacity="0.85"/>
<polygon points="36,1095.5 51.5,1098.5 51.5,1107.5 36,1105" fill="#8d8d8d" opacity="0.85"/>
<polygon points="36,1115 51.5,1118 51.5,1127 36,1124.5" fill="#8d8d8d" opacity="0.85"/>
<polygon points="36,1134.5 51.5,1137.5 51.5,1146.5 36,1144" fill="#8d8d8d" opacity="0.85"/>
<polygon points="36,1154 51.5,1157 51.5,1166 36,1163.5" fill="#8d8d8d" opacity="0.85"/>
<polygon points="36,1173.5 51.5,1176.5 51.5,1185.5 36,1183" fill="#8d8d8d" opacity="0.85"/>
<polygon points="36,1193 51.5,1196 51.5,1205 36,1202.5" fill="#8d8d8d" opacity="0.85"/>
<polygon points="319.7,1102.5 329.7,1097.5 333.7,1112.5 323.7,1119.5" fill="#2a2a2a"/>
<polygon points="321.7,1142.5 331.7,1137.5 335.7,1155.5 325.7,1162.5" fill="#242424"/>
<polygon points="324.7,1182.5 333.7,1177.5 335.7,1197.5 327.7,1199.5" fill="#1e1e1e"/>
<path d="M294.7,1004L297.7,1277" stroke="#141414" stroke-width="3" />
<circle cx="190.7" cy="1137.5" r="114.2" fill="#0a0a0a" stroke="#2b2b2b" stroke-width="1.2"/>
<circle cx="190.7" cy="1137.5" r="113" fill="url(#areG)"/>
<circle cx="116.1" cy="1047.1" r="1.3" fill="#777"/>
<circle cx="272.1" cy="1051.6" r="1.3" fill="#666"/>
<g filter="url(#blur3)">
<polygon points="36,1133 81.9,1144.1 143.3,1157.6 122.8,1161.7 77.8,1156.4 36,1152.3" fill="#a2a2a2" opacity="0.85"/>
</g>
<g clip-path="url(#ac3)">
<circle cx="95" cy="1176.8" r="1.2" fill="#555"/>
<path d="M141.2,1176.0 L147.3,1192.4 L163.7,1212.8 L184.2,1221.0" fill="none" stroke="#bdbdbd" stroke-width="1.0" opacity="0.6"/>
</g>
<ellipse cx="89.2" cy="1137.1" rx="11.0" ry="19.6" fill="#5ab6e6"/>
<g transform="translate(243.5,1214.1) rotate(-28)" filter="url(#blur2)">
<ellipse cx="0" cy="0" rx="15" ry="5.6" fill="#0a0a0a" opacity="0.92"/>
<path d="M12,0 C20,-2 28,-6 36,-12" fill="none" stroke="#333" stroke-width="1.4"/>
</g>
<g stroke-width="5.6" stroke-linecap="round">
<path d="M286.5,1090L287,1091.1" stroke="#0000a0"/>
<path d="M287,1091.1L287.6,1092.5" stroke="#0000a5"/>
<path d="M287.6,1092.5L288.3,1094.2" stroke="#0000aa"/>
<path d="M288.3,1094.2L289.1,1096.1" stroke="#0000b1"/>
<path d="M289.1,1096.1L289.9,1098.2" stroke="#0000bc"/>
<path d="M289.9,1098.2L290.7,1100.2" stroke="#0000ce"/>
<path d="M290.7,1100.2L291.4,1102.3" stroke="#0000e9"/>
<path d="M291.4,1102.3L292.1,1104.4" stroke="#0012ff"/>
<path d="M292.1,1104.4L292.7,1106.6" stroke="#0048ff"/>
<path d="M292.7,1106.6L293.3,1108.8" stroke="#008aff"/>
<path d="M293.3,1108.8L293.9,1111.2" stroke="#00d2ff"/>
<path d="M293.9,1111.2L294.5,1113.6" stroke="#1cffe2"/>
<path d="M294.5,1113.6L295,1116.1" stroke="#5fff9f"/>
<path d="M295,1116.1L295.5,1118.7" stroke="#99ff65"/>
<path d="M295.5,1118.7L296,1121.4" stroke="#c5ff39"/>
<path d="M296,1121.4L296.4,1124.2" stroke="#e9ff15"/>
<path d="M296.4,1124.2L296.9,1127.2" stroke="#fff600"/>
<path d="M296.9,1127.2L297.2,1130.2" stroke="#ffdf00"/>
<path d="M297.2,1130.2L297.6,1133.2" stroke="#ffcc00"/>
<path d="M297.6,1133.2L297.8,1136.2" stroke="#ffbf00"/>
<path d="M297.8,1136.2L298,1139.2" stroke="#ffb600"/>
<path d="M298,1139.2L298.1,1142.1" stroke="#ffb100"/>
<path d="M298.1,1142.1L298.1,1145.1" stroke="#ffb200"/>
<path d="M298.1,1145.1L298,1148.1" stroke="#ffb800"/>
<path d="M298,1148.1L297.9,1151.1" stroke="#ffc200"/>
<path d="M297.9,1151.1L297.7,1154.1" stroke="#ffd100"/>
<path d="M297.7,1154.1L297.5,1156.9" stroke="#ffe300"/>
<path d="M297.5,1156.9L297.2,1159.6" stroke="#fff800"/>
<path d="M297.2,1159.6L296.7,1162.2" stroke="#ebff13"/>
<path d="M296.7,1162.2L296.2,1164.7" stroke="#c8ff36"/>
<path d="M296.2,1164.7L295.7,1167" stroke="#9fff5f"/>
<path d="M295.7,1167L295,1169.3" stroke="#73ff8b"/>
<path d="M295,1169.3L294.3,1171.6" stroke="#48ffb6"/>
<path d="M294.3,1171.6L293.5,1173.8" stroke="#25ffd9"/>
<path d="M293.5,1173.8L292.6,1176" stroke="#0dfff1"/>
<path d="M292.6,1176L291.7,1178.2" stroke="#03fffb"/>
<path d="M291.7,1178.2L290.7,1180.3" stroke="#05fff9"/>
<path d="M290.7,1180.3L289.6,1182.4" stroke="#11ffed"/>
<path d="M289.6,1182.4L288.5,1184.4" stroke="#23ffdb"/>
<path d="M288.5,1184.4L287.2,1186.4" stroke="#3bffc3"/>
<path d="M287.2,1186.4L285.9,1188.4" stroke="#56ffa8"/>
<path d="M285.9,1188.4L284.5,1190.3" stroke="#71ff8d"/>
<path d="M284.5,1190.3L283,1192.2" stroke="#8eff70"/>
<path d="M283,1192.2L281.4,1194" stroke="#afff4f"/>
<path d="M281.4,1194L279.8,1195.8" stroke="#d5ff29"/>
<path d="M279.8,1195.8L278.1,1197.6" stroke="#fdff01"/>
<path d="M278.1,1197.6L276.3,1199.3" stroke="#ffd800"/>
<path d="M276.3,1199.3L274.3,1201" stroke="#ffb200"/>
<path d="M274.3,1201L272.2,1202.6" stroke="#ff8f00"/>
<path d="M272.2,1202.6L269.9,1204.1" stroke="#ff7100"/>
<path d="M269.9,1204.1L267.5,1205.6" stroke="#ff5600"/>
<path d="M267.5,1205.6L265,1206.9" stroke="#ff3d00"/>
<path d="M265,1206.9L262.4,1208.3" stroke="#ff2600"/>
<path d="M262.4,1208.3L259.7,1209.7" stroke="#ff1100"/>
<path d="M259.7,1209.7L256.8,1211.2" stroke="#fd0000"/>
<path d="M256.8,1211.2L253.8,1212.8" stroke="#ed0000"/>
<path d="M253.8,1212.8L250.6,1214.7" stroke="#de0000"/>
<path d="M250.6,1214.7L247.3,1216.7" stroke="#d20000"/>
<path d="M247.3,1216.7L243.9,1218.8" stroke="#c70000"/>
<path d="M243.9,1218.8L240.3,1221" stroke="#bf0000"/>
<path d="M240.3,1221L236.7,1223.2" stroke="#b90000"/>
<path d="M236.7,1223.2L233,1225.2" stroke="#b50000"/>
<path d="M233,1225.2L229.2,1227.2" stroke="#b30000"/>
<path d="M229.2,1227.2L225.3,1229" stroke="#b20000"/>
<path d="M225.3,1229L221.2,1230.9" stroke="#b30000"/>
<path d="M221.2,1230.9L217,1232.7" stroke="#b50000"/>
<path d="M217,1232.7L212.8,1234.4" stroke="#b90000"/>
<path d="M212.8,1234.4L208.6,1236" stroke="#c00000"/>
<path d="M208.6,1236L204.5,1237.4" stroke="#cb0000"/>
<path d="M204.5,1237.4L200.6,1238.6" stroke="#dc0000"/>
<path d="M200.6,1238.6L196.8,1239.6" stroke="#f20000"/>
<path d="M196.8,1239.6L193.1,1240.5" stroke="#ff0f00"/>
<path d="M193.1,1240.5L189.4,1241.2" stroke="#ff3000"/>
<path d="M189.4,1241.2L185.9,1241.8" stroke="#ff5600"/>
<path d="M185.9,1241.8L182.4,1242.2" stroke="#ff7e00"/>
<path d="M182.4,1242.2L179.1,1242.5" stroke="#ffa700"/>
<path d="M179.1,1242.5L176,1242.7" stroke="#ffd100"/>
<path d="M176,1242.7L173,1242.8" stroke="#fffb00"/>
<path d="M173,1242.8L170.2,1242.7" stroke="#d5ff29"/>
<path d="M170.2,1242.7L167.6,1242.5" stroke="#a5ff59"/>
<path d="M167.6,1242.5L165,1242.2" stroke="#74ff8a"/>
<path d="M165,1242.2L162.5,1241.8" stroke="#45ffb9"/>
<path d="M162.5,1241.8L160.1,1241.3" stroke="#1affe4"/>
<path d="M160.1,1241.3L157.6,1240.7" stroke="#00f5ff"/>
<path d="M157.6,1240.7L155.1,1240" stroke="#00daff"/>
<path d="M155.1,1240L152.6,1239.2" stroke="#00c9ff"/>
<path d="M152.6,1239.2L150.1,1238.3" stroke="#00beff"/>
<path d="M150.1,1238.3L147.7,1237.3" stroke="#00b9ff"/>
<path d="M147.7,1237.3L145.4,1236.2" stroke="#00b4ff"/>
<path d="M145.4,1236.2L143.2,1235.2" stroke="#00aeff"/>
<path d="M143.2,1235.2L141.2,1234.1" stroke="#00a4ff"/>
<path d="M141.2,1234.1L139.3,1233" stroke="#0094ff"/>
<path d="M139.3,1233L137.4,1231.8" stroke="#007fff"/>
<path d="M137.4,1231.8L135.7,1230.6" stroke="#0067ff"/>
<path d="M135.7,1230.6L134.1,1229.3" stroke="#004dff"/>
<path d="M134.1,1229.3L132.6,1228.1" stroke="#0033ff"/>
<path d="M132.6,1228.1L131.3,1226.9" stroke="#001bff"/>
<path d="M131.3,1226.9L130.2,1225.9" stroke="#0005ff"/>
<path d="M130.2,1225.9L129.3,1225" stroke="#0000f1"/>
<path d="M129.3,1225L128.6,1224.1" stroke="#0000e0"/>
<path d="M128.6,1224.1L128,1223.3" stroke="#0000d0"/>
<path d="M128,1223.3L127.6,1222.6" stroke="#0000c2"/>
<path d="M127.6,1222.6L127.4,1222" stroke="#0000b5"/>
<path d="M127.4,1222L127.1,1221.4" stroke="#0000aa"/>
<path d="M127.1,1221.4L126.9,1221" stroke="#0000a1"/>
</g>
</g>
<text transform="translate(47,1032.7) scale(1.071,1)" font-size="25.5" fill="#fff">Trial 2</text>
<ellipse cx="56.5" cy="1224.3" rx="14.3" ry="7.6" fill="#0e6a94"/>
<text transform="translate(44.2,1247.6) scale(0.968,1)" font-size="17.5" fill="#fff">Previous</text>
<text transform="translate(44.2,1268) scale(1.033,1)" font-size="17.5" fill="#fff">shelter location</text>
<text transform="translate(238.2,1260.7) scale(0.945,1)" font-size="18" fill="#fff">10 cm</text>
<rect x="244.3" y="1266.0" width="41.0" height="7.4" fill="#fff"/>
<rect x="294.7" y="1192.4" width="6.1" height="68.6" fill="url(#jetG)"/>
<text transform="translate(302.9,1195.6) scale(1.051,1)" font-size="17.5" fill="#fff">50</text>
<text transform="translate(303.5,1265.2) scale(1.005,1)" font-size="17.5" fill="#fff">0</text>
<text transform="translate(325,1218.9) rotate(90) scale(0.925,1)" x="-55.2" font-size="17" fill="#fff">Speed (cm s  )</text>
<text transform="translate(334.0,1258.0) rotate(90)" font-size="8" fill="#fff">–1</text>
<clipPath id="ic4"><rect x="397.0" y="1002.0" width="300.0" height="273.0"/></clipPath>
<clipPath id="ac4"><circle cx="548.0" cy="1135.0" r="116.0"/></clipPath>
<rect x="397.0" y="1002.0" width="300.0" height="273.0" fill="#000"/>
<g clip-path="url(#ic4)">
<polygon points="397,1074 412.5,1077 412.5,1086 397,1083.5" fill="#8d8d8d" opacity="0.85"/>
<polygon points="397,1093.5 412.5,1096.5 412.5,1105.5 397,1103" fill="#8d8d8d" opacity="0.85"/>
<polygon points="397,1113 412.5,1116 412.5,1125 397,1122.5" fill="#8d8d8d" opacity="0.85"/>
<polygon points="397,1132.5 412.5,1135.5 412.5,1144.5 397,1142" fill="#8d8d8d" opacity="0.85"/>
<polygon points="397,1152 412.5,1155 412.5,1164 397,1161.5" fill="#8d8d8d" opacity="0.85"/>
<polygon points="397,1171.5 412.5,1174.5 412.5,1183.5 397,1181" fill="#8d8d8d" opacity="0.85"/>
<polygon points="397,1191 412.5,1194 412.5,1203 397,1200.5" fill="#8d8d8d" opacity="0.85"/>
<polygon points="677,1100 687,1095 691,1110 681,1117" fill="#2a2a2a"/>
<polygon points="679,1140 689,1135 693,1153 683,1160" fill="#242424"/>
<polygon points="682,1180 691,1175 693,1195 685,1197" fill="#1e1e1e"/>
<path d="M652,1002L655,1275" stroke="#141414" stroke-width="3" />
<circle cx="548" cy="1135" r="117.2" fill="#0a0a0a" stroke="#2b2b2b" stroke-width="1.2"/>
<circle cx="548" cy="1135" r="116" fill="url(#areG)"/>
<circle cx="471.4" cy="1042.2" r="1.3" fill="#777"/>
<circle cx="631.5" cy="1046.8" r="1.3" fill="#666"/>
<path d="M397.0,1028.7 L429.8,1036.8 L454.3,1034.8 L470.7,1081.9 L491.2,1135.1" fill="none" stroke="#9a9a9a" stroke-width="2.0" opacity="0.7"/>
<path d="M450.2,1032.7 L466.6,1040.9 L483.0,1094.1 L499.3,1139.2" fill="none" stroke="#e0e0e0" stroke-width="1.5" opacity="0.7"/>
<g clip-path="url(#ac4)">
<circle cx="642.6" cy="1100.3" r="1.2" fill="#555"/>
<circle cx="469.9" cy="1204.6" r="1.2" fill="#555"/>
<circle cx="483" cy="1221.8" r="1.2" fill="#555"/>
<path d="M515.7,1081.9 L521.9,1118.7 L525.9,1147.3" fill="none" stroke="#555" stroke-width="1.2" opacity="0.5"/>
</g>
<ellipse cx="444.9" cy="1135.0" rx="11.0" ry="19.0" fill="#5ab6e6"/>
<g transform="translate(528.0,1157.6) rotate(12)" filter="url(#blur2)">
<ellipse cx="0" cy="0" rx="15" ry="5.6" fill="#0a0a0a" opacity="0.92"/>
<path d="M12,0 C20,-2 28,-6 36,-12" fill="none" stroke="#333" stroke-width="1.4"/>
</g>
<g stroke-width="5.6" stroke-linecap="round">
<path d="M441.2,1134.3L442.4,1134.7" stroke="#0000ac"/>
<path d="M442.4,1134.7L443.9,1135.3" stroke="#0000cc"/>
<path d="M443.9,1135.3L445.7,1136.1" stroke="#0000f3"/>
<path d="M445.7,1136.1L447.8,1136.9" stroke="#0023ff"/>
<path d="M447.8,1136.9L450,1137.7" stroke="#0056ff"/>
<path d="M450,1137.7L452.2,1138.5" stroke="#008dff"/>
<path d="M452.2,1138.5L454.3,1139.2" stroke="#00c7ff"/>
<path d="M454.3,1139.2L456.3,1139.6" stroke="#07fff7"/>
<path d="M456.3,1139.6L458,1140" stroke="#4fffaf"/>
<path d="M458,1140L459.8,1140.3" stroke="#9fff5f"/>
<path d="M459.8,1140.3L461.8,1140.6" stroke="#f1ff0d"/>
<path d="M461.8,1140.6L464.1,1141" stroke="#ffbb00"/>
<path d="M464.1,1141L467,1141.6" stroke="#ff7100"/>
<path d="M467,1141.6L470.7,1142.4" stroke="#ff3400"/>
<path d="M470.7,1142.4L475.3,1143.6" stroke="#ff0600"/>
<path d="M475.3,1143.6L480.6,1145" stroke="#e30000"/>
<path d="M480.6,1145L486.5,1146.6" stroke="#cc0000"/>
<path d="M486.5,1146.6L492.8,1148.3" stroke="#bc0000"/>
<path d="M492.8,1148.3L499.2,1150" stroke="#b10000"/>
<path d="M499.2,1150L505.6,1151.8" stroke="#a90000"/>
<path d="M505.6,1151.8L511.6,1153.5" stroke="#a10000"/>
<path d="M511.6,1153.5L517.5,1155.2" stroke="#9a0000"/>
<path d="M517.5,1155.2L523.3,1157.1" stroke="#950000"/>
<path d="M523.3,1157.1L529.2,1159" stroke="#930000"/>
<path d="M529.2,1159L535,1160.9" stroke="#930000"/>
<path d="M535,1160.9L540.9,1162.7" stroke="#950000"/>
<path d="M540.9,1162.7L546.7,1164.4" stroke="#980000"/>
<path d="M546.7,1164.4L552.6,1165.8" stroke="#9c0000"/>
<path d="M552.6,1165.8L558.5,1167" stroke="#9f0000"/>
<path d="M558.5,1167L564.6,1168" stroke="#a00000"/>
<path d="M564.6,1168L570.7,1169" stroke="#a10000"/>
<path d="M570.7,1169L576.8,1169.8" stroke="#a30000"/>
<path d="M576.8,1169.8L582.7,1170.4" stroke="#a90000"/>
<path d="M582.7,1170.4L588.3,1170.8" stroke="#b30000"/>
<path d="M588.3,1170.8L593.5,1171.1" stroke="#c60000"/>
<path d="M593.5,1171.1L598.3,1171.1" stroke="#e10000"/>
<path d="M598.3,1171.1L602.9,1170.9" stroke="#ff0700"/>
<path d="M602.9,1170.9L607.3,1170.4" stroke="#ff3300"/>
<path d="M607.3,1170.4L611.4,1169.9" stroke="#ff6500"/>
<path d="M611.4,1169.9L615.2,1169.2" stroke="#ff9a00"/>
<path d="M615.2,1169.2L618.8,1168.5" stroke="#ffce00"/>
<path d="M618.8,1168.5L622.1,1167.8" stroke="#fdff01"/>
<path d="M622.1,1167.8L625.2,1167.1" stroke="#ceff30"/>
<path d="M625.2,1167.1L627.9,1166.3" stroke="#a0ff5e"/>
<path d="M627.9,1166.3L630.4,1165.5" stroke="#72ff8c"/>
<path d="M630.4,1165.5L632.7,1164.6" stroke="#45ffb9"/>
<path d="M632.7,1164.6L634.8,1163.7" stroke="#18ffe6"/>
<path d="M634.8,1163.7L636.7,1162.7" stroke="#00edff"/>
<path d="M636.7,1162.7L638.5,1161.7" stroke="#00c5ff"/>
<path d="M638.5,1161.7L640.2,1160.6" stroke="#00a0ff"/>
<path d="M640.2,1160.6L641.6,1159.4" stroke="#007dff"/>
<path d="M641.6,1159.4L643,1158.2" stroke="#005cff"/>
<path d="M643,1158.2L644.1,1157" stroke="#003eff"/>
<path d="M644.1,1157L645.1,1155.7" stroke="#0021ff"/>
<path d="M645.1,1155.7L646,1154.6" stroke="#0007ff"/>
<path d="M646,1154.6L646.7,1153.5" stroke="#0000f0"/>
<path d="M646.7,1153.5L647.2,1152.4" stroke="#0000dc"/>
<path d="M647.2,1152.4L647.6,1151.4" stroke="#0000cc"/>
<path d="M647.6,1151.4L647.8,1150.4" stroke="#0000bf"/>
<path d="M647.8,1150.4L647.8,1149.4" stroke="#0000b5"/>
<path d="M647.8,1149.4L647.9,1148.6" stroke="#0000ad"/>
<path d="M647.9,1148.6L647.9,1147.9" stroke="#0000a6"/>
<path d="M647.9,1147.9L647.9,1147.3" stroke="#0000a0"/>
</g>
</g>
<text transform="translate(407.3,1032.7) scale(1.070,1)" font-size="25.5" fill="#fff">Trial 2</text>
<ellipse cx="416.7" cy="1225.0" rx="14.3" ry="7.6" fill="#0e6a94"/>
<text transform="translate(401,1247.6) scale(0.968,1)" font-size="17.5" fill="#fff">Previous</text>
<text transform="translate(401,1268) scale(1.034,1)" font-size="17.5" fill="#fff">shelter location</text>
<text transform="translate(599.6,1258.7) scale(0.945,1)" font-size="18" fill="#fff">10 cm</text>
<rect x="603.7" y="1262.8" width="42.2" height="7.2" fill="#fff"/>
<rect x="648.0" y="1198.5" width="5.7" height="59.4" fill="url(#jetG)"/>
<text transform="translate(656,1201.4) scale(1.051,1)" font-size="17.5" fill="#fff">50</text>
<text transform="translate(656.6,1266) scale(1.005,1)" font-size="17.5" fill="#fff">0</text>
<text transform="translate(679,1214.8) rotate(90) scale(0.962,1)" x="-55.2" font-size="17" fill="#fff">Speed (cm s  )</text>
<text transform="translate(688.0,1256.0) rotate(90)" font-size="8" fill="#fff">–1</text>
<clipPath id="ic5"><rect x="36.0" y="1284.5" width="303.7" height="273.4"/></clipPath>
<clipPath id="ac5"><circle cx="190.3" cy="1418.0" r="113.0"/></clipPath>
<rect x="36.0" y="1284.5" width="303.7" height="273.4" fill="#000"/>
<g clip-path="url(#ic5)">
<polygon points="36,1356.5 51.5,1359.5 51.5,1368.5 36,1366" fill="#8d8d8d" opacity="0.85"/>
<polygon points="36,1376 51.5,1379 51.5,1388 36,1385.5" fill="#8d8d8d" opacity="0.85"/>
<polygon points="36,1395.5 51.5,1398.5 51.5,1407.5 36,1405" fill="#8d8d8d" opacity="0.85"/>
<polygon points="36,1415 51.5,1418 51.5,1427 36,1424.5" fill="#8d8d8d" opacity="0.85"/>
<polygon points="36,1434.5 51.5,1437.5 51.5,1446.5 36,1444" fill="#8d8d8d" opacity="0.85"/>
<polygon points="36,1454 51.5,1457 51.5,1466 36,1463.5" fill="#8d8d8d" opacity="0.85"/>
<polygon points="36,1473.5 51.5,1476.5 51.5,1485.5 36,1483" fill="#8d8d8d" opacity="0.85"/>
<polygon points="319.7,1383 329.7,1378 333.7,1393 323.7,1400" fill="#2a2a2a"/>
<polygon points="321.7,1423 331.7,1418 335.7,1436 325.7,1443" fill="#242424"/>
<polygon points="324.7,1463 333.7,1458 335.7,1478 327.7,1480" fill="#1e1e1e"/>
<path d="M294.7,1284.5L297.7,1557.9" stroke="#141414" stroke-width="3" />
<circle cx="190.3" cy="1418" r="114.2" fill="#0a0a0a" stroke="#2b2b2b" stroke-width="1.2"/>
<circle cx="190.3" cy="1418" r="113" fill="url(#areG)"/>
<circle cx="115.7" cy="1327.6" r="1.3" fill="#777"/>
<circle cx="271.7" cy="1332.1" r="1.3" fill="#666"/>
<g filter="url(#blur3)">
<polygon points="36,1403.2 77.8,1412.6 118.7,1419.5 102.3,1425.7 73.7,1424.4 36,1423.6" fill="#a2a2a2" opacity="0.85"/>
</g>
<g clip-path="url(#ac5)">
<circle cx="105.6" cy="1464.6" r="1.2" fill="#555"/>
</g>
<ellipse cx="86.8" cy="1421.6" rx="11.0" ry="19.0" fill="#5ab6e6"/>
<g transform="translate(241.5,1470.7) rotate(-20)" filter="url(#blur2)">
<ellipse cx="0" cy="0" rx="15" ry="5.6" fill="#0a0a0a" opacity="0.92"/>
<path d="M12,0 C20,-2 28,-6 36,-12" fill="none" stroke="#333" stroke-width="1.4"/>
</g>
<g stroke-width="5.6" stroke-linecap="round">
<path d="M293.9,1433.9L293.8,1434.8" stroke="#0000a5"/>
<path d="M293.8,1434.8L293.9,1436" stroke="#0000b6"/>
<path d="M293.9,1436L293.9,1437.4" stroke="#0000cc"/>
<path d="M293.9,1437.4L293.9,1439" stroke="#0000e5"/>
<path d="M293.9,1439L293.7,1440.7" stroke="#0001ff"/>
<path d="M293.7,1440.7L293.3,1442.4" stroke="#001eff"/>
<path d="M293.3,1442.4L292.6,1444.1" stroke="#003dff"/>
<path d="M292.6,1444.1L291.7,1445.8" stroke="#005cff"/>
<path d="M291.7,1445.8L290.7,1447.5" stroke="#007eff"/>
<path d="M290.7,1447.5L289.4,1449.3" stroke="#00a1ff"/>
<path d="M289.4,1449.3L288,1451.1" stroke="#00c7ff"/>
<path d="M288,1451.1L286.3,1452.9" stroke="#00edff"/>
<path d="M286.3,1452.9L284.5,1454.7" stroke="#14ffea"/>
<path d="M284.5,1454.7L282.4,1456.4" stroke="#39ffc5"/>
<path d="M282.4,1456.4L280.1,1457.9" stroke="#5effa0"/>
<path d="M280.1,1457.9L277.6,1459.4" stroke="#84ff7a"/>
<path d="M277.6,1459.4L274.8,1460.9" stroke="#a9ff55"/>
<path d="M274.8,1460.9L271.8,1462.3" stroke="#cfff2f"/>
<path d="M271.8,1462.3L268.7,1463.7" stroke="#f4ff0a"/>
<path d="M268.7,1463.7L265.4,1465.2" stroke="#ffe500"/>
<path d="M265.4,1465.2L262,1466.6" stroke="#ffc300"/>
<path d="M262,1466.6L258.4,1468.1" stroke="#ffa100"/>
<path d="M258.4,1468.1L254.6,1469.6" stroke="#ff8000"/>
<path d="M254.6,1469.6L250.7,1471.1" stroke="#ff5f00"/>
<path d="M250.7,1471.1L246.6,1472.6" stroke="#ff4000"/>
<path d="M246.6,1472.6L242.3,1474.1" stroke="#ff2200"/>
<path d="M242.3,1474.1L237.9,1475.5" stroke="#ff0700"/>
<path d="M237.9,1475.5L233.3,1476.8" stroke="#ef0000"/>
<path d="M233.3,1476.8L228.4,1478.2" stroke="#dc0000"/>
<path d="M228.4,1478.2L223.3,1479.5" stroke="#cd0000"/>
<path d="M223.3,1479.5L217.9,1480.8" stroke="#c00000"/>
<path d="M217.9,1480.8L212.4,1482" stroke="#b60000"/>
<path d="M212.4,1482L206.9,1483.1" stroke="#af0000"/>
<path d="M206.9,1483.1L201.6,1484.1" stroke="#ad0000"/>
<path d="M201.6,1484.1L196.5,1485" stroke="#b00000"/>
<path d="M196.5,1485L191.6,1485.7" stroke="#b80000"/>
<path d="M191.6,1485.7L186.8,1486.4" stroke="#c60000"/>
<path d="M186.8,1486.4L182.1,1486.9" stroke="#da0000"/>
<path d="M182.1,1486.9L177.5,1487.3" stroke="#f20000"/>
<path d="M177.5,1487.3L173,1487.5" stroke="#ff0d00"/>
<path d="M173,1487.5L168.4,1487.8" stroke="#ff2700"/>
<path d="M168.4,1487.8L163.7,1487.9" stroke="#ff4000"/>
<path d="M163.7,1487.9L158.9,1487.9" stroke="#ff5600"/>
<path d="M158.9,1487.9L154,1487.8" stroke="#ff6900"/>
<path d="M154,1487.8L149,1487.6" stroke="#ff7a00"/>
<path d="M149,1487.6L144.1,1487.3" stroke="#ff8c00"/>
<path d="M144.1,1487.3L139.4,1487" stroke="#ffa000"/>
<path d="M139.4,1487L135,1486.6" stroke="#ffb700"/>
<path d="M135,1486.6L131,1486.2" stroke="#ffd500"/>
<path d="M131,1486.2L127.3,1485.9" stroke="#fffa00"/>
<path d="M127.3,1485.9L123.9,1485.5" stroke="#d7ff27"/>
<path d="M123.9,1485.5L120.8,1485.1" stroke="#a4ff5a"/>
<path d="M120.8,1485.1L117.9,1484.7" stroke="#6dff91"/>
<path d="M117.9,1484.7L115.3,1484.2" stroke="#35ffc9"/>
<path d="M115.3,1484.2L112.8,1483.6" stroke="#00fdff"/>
<path d="M112.8,1483.6L110.5,1483" stroke="#00caff"/>
<path d="M110.5,1483L108.4,1482.2" stroke="#009bff"/>
<path d="M108.4,1482.2L106.5,1481.2" stroke="#006dff"/>
<path d="M106.5,1481.2L104.9,1480.2" stroke="#003fff"/>
<path d="M104.9,1480.2L103.4,1479.2" stroke="#0012ff"/>
<path d="M103.4,1479.2L102.2,1478.2" stroke="#0000e9"/>
<path d="M102.2,1478.2L101.1,1477.4" stroke="#0000c6"/>
<path d="M101.1,1477.4L100.3,1476.8" stroke="#0000aa"/>
</g>
</g>
<text transform="translate(47,1317.2) scale(1.083,1)" font-size="25.5" fill="#fff">Trial 3</text>
<ellipse cx="57.3" cy="1506.7" rx="14.3" ry="7.6" fill="#0e6a94"/>
<text transform="translate(45,1530) scale(0.968,1)" font-size="17.5" fill="#fff">Previous</text>
<text transform="translate(45,1550.5) scale(1.043,1)" font-size="17.5" fill="#fff">shelter location</text>
<text transform="translate(239.4,1537.4) scale(0.937,1)" font-size="18" fill="#fff">10 cm</text>
<rect x="242.7" y="1542.3" width="42.6" height="7.4" fill="#fff"/>
<rect x="290.6" y="1476.8" width="6.1" height="69.6" fill="url(#jetG)"/>
<text transform="translate(300.8,1481) scale(1.051,1)" font-size="17.5" fill="#fff">55</text>
<text transform="translate(301.4,1550.5) scale(1.005,1)" font-size="17.5" fill="#fff">0</text>
<text transform="translate(320,1498.2) rotate(90) scale(0.946,1)" x="-55.2" font-size="17" fill="#fff">Speed (cm s  )</text>
<text transform="translate(329.0,1538.5) rotate(90)" font-size="8" fill="#fff">–1</text>
<clipPath id="ic6"><rect x="395.0" y="1284.5" width="303.7" height="273.4"/></clipPath>
<clipPath id="ac6"><circle cx="549.7" cy="1418.0" r="112.6"/></clipPath>
<rect x="395.0" y="1284.5" width="303.7" height="273.4" fill="#000"/>
<g clip-path="url(#ic6)">
<polygon points="395,1356.5 410.5,1359.5 410.5,1368.5 395,1366" fill="#8d8d8d" opacity="0.85"/>
<polygon points="395,1376 410.5,1379 410.5,1388 395,1385.5" fill="#8d8d8d" opacity="0.85"/>
<polygon points="395,1395.5 410.5,1398.5 410.5,1407.5 395,1405" fill="#8d8d8d" opacity="0.85"/>
<polygon points="395,1415 410.5,1418 410.5,1427 395,1424.5" fill="#8d8d8d" opacity="0.85"/>
<polygon points="395,1434.5 410.5,1437.5 410.5,1446.5 395,1444" fill="#8d8d8d" opacity="0.85"/>
<polygon points="395,1454 410.5,1457 410.5,1466 395,1463.5" fill="#8d8d8d" opacity="0.85"/>
<polygon points="395,1473.5 410.5,1476.5 410.5,1485.5 395,1483" fill="#8d8d8d" opacity="0.85"/>
<polygon points="678.7,1383 688.7,1378 692.7,1393 682.7,1400" fill="#2a2a2a"/>
<polygon points="680.7,1423 690.7,1418 694.7,1436 684.7,1443" fill="#242424"/>
<polygon points="683.7,1463 692.7,1458 694.7,1478 686.7,1480" fill="#1e1e1e"/>
<path d="M653.7,1284.5L656.7,1557.9" stroke="#141414" stroke-width="3" />
<circle cx="549.7" cy="1418" r="113.8" fill="#0a0a0a" stroke="#2b2b2b" stroke-width="1.2"/>
<circle cx="549.7" cy="1418" r="112.6" fill="url(#areG)"/>
<circle cx="475.4" cy="1327.9" r="1.3" fill="#777"/>
<circle cx="630.8" cy="1332.4" r="1.3" fill="#666"/>
<g filter="url(#blur3)">
<polygon points="395,1325.4 425.7,1332.4 450.2,1347.9 442,1356.1 417.5,1344.6 395,1341.8" fill="#a8a8a8" opacity="0.85"/>
</g>
<path d="M450.2,1350.0 L470.7,1356.1 L487.1,1352.0 L495.3,1341.8" fill="none" stroke="#e0e0e0" stroke-width="1.5" opacity="0.7"/>
<g clip-path="url(#ac6)">
<circle cx="628.3" cy="1389.7" r="1.2" fill="#555"/>
<circle cx="466.6" cy="1464.6" r="1.5" fill="#555"/>
</g>
<ellipse cx="447.0" cy="1413.4" rx="11.0" ry="19.0" fill="#5ab6e6"/>
<g transform="translate(487.1,1388.8) rotate(-5)" filter="url(#blur2)">
<ellipse cx="0" cy="0" rx="15" ry="5.6" fill="#0a0a0a" opacity="0.92"/>
<path d="M12,0 C20,-2 28,-6 36,-12" fill="none" stroke="#333" stroke-width="1.4"/>
</g>
<g stroke-width="5.6" stroke-linecap="round">
<path d="M452.3,1392.1L453.5,1391.8" stroke="#0000aa"/>
<path d="M453.5,1391.8L455.1,1391.4" stroke="#0000c9"/>
<path d="M455.1,1391.4L457.1,1390.9" stroke="#0000ef"/>
<path d="M457.1,1390.9L459.3,1390.4" stroke="#001cff"/>
<path d="M459.3,1390.4L461.6,1389.8" stroke="#004aff"/>
<path d="M461.6,1389.8L464.1,1389.3" stroke="#0076ff"/>
<path d="M464.1,1389.3L466.6,1388.8" stroke="#009fff"/>
<path d="M466.6,1388.8L469.2,1388.4" stroke="#00c3ff"/>
<path d="M469.2,1388.4L472.1,1387.9" stroke="#00e5ff"/>
<path d="M472.1,1387.9L475.2,1387.4" stroke="#07fff7"/>
<path d="M475.2,1387.4L478.3,1386.9" stroke="#27ffd7"/>
<path d="M478.3,1386.9L481.3,1386.5" stroke="#44ffba"/>
<path d="M481.3,1386.5L484.3,1386.2" stroke="#5effa0"/>
<path d="M484.3,1386.2L487.1,1386" stroke="#75ff89"/>
<path d="M487.1,1386L489.6,1385.8" stroke="#87ff77"/>
<path d="M489.6,1385.8L492,1385.7" stroke="#95ff69"/>
<path d="M492,1385.7L494.4,1385.7" stroke="#a0ff5e"/>
<path d="M494.4,1385.7L496.6,1385.7" stroke="#a8ff56"/>
<path d="M496.6,1385.7L498.9,1385.9" stroke="#adff51"/>
<path d="M498.9,1385.9L501.1,1386.3" stroke="#b0ff4e"/>
<path d="M501.1,1386.3L503.4,1386.8" stroke="#b2ff4c"/>
<path d="M503.4,1386.8L505.8,1387.5" stroke="#b0ff4e"/>
<path d="M505.8,1387.5L508.3,1388.4" stroke="#aaff54"/>
<path d="M508.3,1388.4L510.8,1389.5" stroke="#a0ff5e"/>
<path d="M510.8,1389.5L513.2,1390.6" stroke="#94ff6a"/>
<path d="M513.2,1390.6L515.6,1392" stroke="#89ff75"/>
<path d="M515.6,1392L517.8,1393.4" stroke="#81ff7d"/>
<path d="M517.8,1393.4L519.8,1395" stroke="#7fff7f"/>
<path d="M519.8,1395L521.6,1396.7" stroke="#82ff7c"/>
<path d="M521.6,1396.7L523.4,1398.7" stroke="#8aff74"/>
<path d="M523.4,1398.7L524.9,1400.8" stroke="#95ff69"/>
<path d="M524.9,1400.8L526.4,1403" stroke="#a3ff5b"/>
<path d="M526.4,1403L527.7,1405.2" stroke="#b6ff48"/>
<path d="M527.7,1405.2L529,1407.3" stroke="#cdff31"/>
<path d="M529,1407.3L530,1409.3" stroke="#eaff14"/>
<path d="M530,1409.3L531,1411.2" stroke="#ffee00"/>
<path d="M531,1411.2L531.7,1413" stroke="#ffba00"/>
<path d="M531.7,1413L532.3,1414.7" stroke="#ff7c00"/>
<path d="M532.3,1414.7L532.8,1416.4" stroke="#ff3a00"/>
<path d="M532.8,1416.4L533.3,1418.1" stroke="#fb0000"/>
<path d="M533.3,1418.1L533.7,1419.8" stroke="#c80000"/>
<path d="M533.7,1419.8L534.1,1421.6" stroke="#a80000"/>
<path d="M534.1,1421.6L534.6,1423.2" stroke="#a00000"/>
<path d="M534.6,1423.2L534.9,1424.7" stroke="#ae0000"/>
<path d="M534.9,1424.7L535.3,1426.2" stroke="#ce0000"/>
<path d="M535.3,1426.2L535.6,1427.7" stroke="#fa0000"/>
<path d="M535.6,1427.7L535.8,1429.5" stroke="#ff2c00"/>
<path d="M535.8,1429.5L536,1431.5" stroke="#ff5d00"/>
<path d="M536,1431.5L536.2,1433.9" stroke="#ff8a00"/>
<path d="M536.2,1433.9L536.3,1436.8" stroke="#ffaf00"/>
<path d="M536.3,1436.8L536.5,1440.1" stroke="#ffd200"/>
<path d="M536.5,1440.1L536.5,1443.7" stroke="#fff600"/>
<path d="M536.5,1443.7L536.6,1447.5" stroke="#e5ff19"/>
<path d="M536.6,1447.5L536.5,1451.3" stroke="#c4ff3a"/>
<path d="M536.5,1451.3L536.4,1455" stroke="#a6ff58"/>
<path d="M536.4,1455L536.2,1458.4" stroke="#8bff73"/>
<path d="M536.2,1458.4L535.8,1461.6" stroke="#76ff88"/>
<path d="M535.8,1461.6L535.3,1464.7" stroke="#65ff99"/>
<path d="M535.3,1464.7L534.7,1467.7" stroke="#58ffa6"/>
<path d="M534.7,1467.7L534.1,1470.6" stroke="#4fffaf"/>
<path d="M534.1,1470.6L533.4,1473.5" stroke="#46ffb8"/>
<path d="M533.4,1473.5L532.7,1476.2" stroke="#3dffc1"/>
<path d="M532.7,1476.2L532.1,1478.9" stroke="#33ffcb"/>
<path d="M532.1,1478.9L531.4,1481.4" stroke="#26ffd8"/>
<path d="M531.4,1481.4L530.7,1483.9" stroke="#15ffe9"/>
<path d="M530.7,1483.9L529.9,1486.2" stroke="#03fffb"/>
<path d="M529.9,1486.2L529.2,1488.5" stroke="#00efff"/>
<path d="M529.2,1488.5L528.6,1490.7" stroke="#00dfff"/>
<path d="M528.6,1490.7L528.2,1492.9" stroke="#00d1ff"/>
<path d="M528.2,1492.9L528,1495.3" stroke="#00c9ff"/>
<path d="M528,1495.3L528.1,1497.7" stroke="#00c6ff"/>
<path d="M528.1,1497.7L528.4,1500.1" stroke="#00c8ff"/>
<path d="M528.4,1500.1L529,1502.7" stroke="#00cdff"/>
<path d="M529,1502.7L529.6,1505.1" stroke="#00d6ff"/>
<path d="M529.6,1505.1L530.4,1507.5" stroke="#00e3ff"/>
<path d="M530.4,1507.5L531.2,1509.7" stroke="#00f5ff"/>
<path d="M531.2,1509.7L532.1,1511.6" stroke="#0cfff2"/>
<path d="M532.1,1511.6L533,1513.3" stroke="#2dffd1"/>
<path d="M533,1513.3L534,1514.9" stroke="#5fff9f"/>
<path d="M534,1514.9L535.1,1516.3" stroke="#9fff5f"/>
<path d="M535.1,1516.3L536.3,1517.6" stroke="#e1ff1d"/>
<path d="M536.3,1517.6L537.5,1518.7" stroke="#ffe200"/>
<path d="M537.5,1518.7L538.9,1519.7" stroke="#ffba00"/>
<path d="M538.9,1519.7L540.3,1520.6" stroke="#ffaf00"/>
<path d="M540.3,1520.6L541.9,1521.4" stroke="#ffcc00"/>
<path d="M541.9,1521.4L543.8,1522.1" stroke="#eaff14"/>
<path d="M543.8,1522.1L545.9,1522.6" stroke="#82ff7c"/>
<path d="M545.9,1522.6L547.9,1523" stroke="#08fff6"/>
<path d="M547.9,1523L549.8,1523.4" stroke="#008aff"/>
<path d="M549.8,1523.4L551.4,1523.7" stroke="#0019ff"/>
<path d="M551.4,1523.7L552.6,1523.9" stroke="#0000c1"/>
</g>
</g>
<text transform="translate(407.3,1317.2) scale(1.081,1)" font-size="25.5" fill="#fff">Trial 3</text>
<ellipse cx="416.7" cy="1501.4" rx="14.3" ry="7.6" fill="#0e6a94"/>
<text transform="translate(402,1524.7) scale(0.968,1)" font-size="17.5" fill="#fff">Previous</text>
<text transform="translate(402,1544.4) scale(1.036,1)" font-size="17.5" fill="#fff">shelter location</text>
<text transform="translate(596.8,1536.2) scale(0.935,1)" font-size="18" fill="#fff">10 cm</text>
<rect x="600.9" y="1542.3" width="41.7" height="7.4" fill="#fff"/>
<rect x="648.7" y="1476.8" width="5.3" height="65.5" fill="url(#jetG)"/>
<text transform="translate(657,1482.2) scale(1.051,1)" font-size="17.5" fill="#fff">55</text>
<text transform="translate(657.6,1546.4) scale(1.005,1)" font-size="17.5" fill="#fff">0</text>
<text transform="translate(678.5,1496.7) rotate(90) scale(0.974,1)" x="-55.2" font-size="17" fill="#fff">Speed (cm s  )</text>
<text transform="translate(687.5,1538.5) rotate(90)" font-size="8" fill="#fff">–1</text>
<polygon points="527.9,1415.8 533.9,1414.3 534.4,1418.8 537.9,1418.3 538.4,1425.8 529.4,1426.8" fill="#8b0a0a"/>
<text transform="translate(136.3,1599.6) scale(1.067,1)" font-size="27">Probe trials (48 hours from labeling)</text>
<text transform="translate(757.3,29) scale(0.968,1)" font-size="39" fill="#000" font-weight="bold">b</text>
<text transform="translate(1150,29) scale(1.011,1)" font-size="39" fill="#000" font-weight="bold">c</text>
<text transform="translate(1497.5,29) scale(1.011,1)" font-size="39" fill="#000" font-weight="bold">d</text>
<text transform="translate(1827.5,29) scale(1.103,1)" font-size="39" fill="#000" font-weight="bold">e</text>
<text transform="translate(1857.5,500.4) scale(1.094,1)" font-size="39" fill="#000" font-weight="bold">f</text>
<text transform="translate(756.5,868) scale(0.989,1)" font-size="39" fill="#000" font-weight="bold">h</text>
<text transform="translate(1151,868) scale(0.977,1)" font-size="39" fill="#000" font-weight="bold">i</text>
<text transform="translate(1518,866.5) scale(1.087,1)" x="0.8" font-size="39" fill="#000" font-weight="bold">j</text>
<text transform="translate(1858,868) scale(1.011,1)" font-size="39" fill="#000" font-weight="bold">k</text>
<text transform="translate(1859,1308) scale(0.837,1)" font-size="39" fill="#000" font-weight="bold">l</text>
<rect x="884.8" y="312.2" width="171.9" height="24.4" fill="#c8c8c8"/>
<g fill="none" stroke="#808080" stroke-width="1.0" stroke-linejoin="round">
<polyline points="885.1,141.4 886.3,140.8 888.2,139.6 890.1,137.7 892,136.3 894.2,131 896.4,123.1 898.7,115.1 900.6,116.3 902.6,117.7 904.6,117.1 906.5,118.5 908.5,118.7 910.5,119.8 913,116.6 915.5,114.9 917.7,113.3 920,110.7 922.2,109.8 924.1,109 926.1,108.3 928,109.1 929.9,107.5 931.8,106.7 933.7,106.8 935.7,107.6 937.7,106.7 939.7,107.6 941.7,107.8 943.7,107.7 945.8,108.1 947.8,106.8 949.8,106.9 951.8,105.5 953.8,105.3 955.8,103.8 958.1,101.8 960.3,101.4 962.6,101 964.8,103.3 967,104.1 969.3,106.1 971.4,107.2 973.5,109.9 975.6,111.9 977.7,113.5 979.8,116.6 981.9,120.2 984,123.9 986.1,125.6 988.3,129.8 990.6,135 992.8,139 995.1,142 997.3,147.4 999.5,152.7 1001.6,152.5 1003.6,152.5 1005.6,152.9 1007.6,154.4 1009.6,157"/>
<polyline points="885.1,126.8 886.3,131.4 888.2,138.5 890.1,146.5 892,152.5 894,152.6 896,153.5 898,157.4 900,158.7 902,160.7 904.1,156.8 906.3,149.8 908.4,141.5 910.5,135.5 912.7,130.6 914.9,121.1 917.2,115.9 920.5,103.6 922.2,112.8 924.5,113.7 926.7,115.6 928.9,118.2 931,118.1 933,120.6 935,123.5 937,124.4 939,126.6 940.9,127.2 942.8,127.2 944.6,126.7 946.5,127.8 948.4,128.9 950.2,127.6 952.1,128.2 954,126.9 955.8,126.2 957.7,126.9 959.6,127.2 961.4,127.1 963.3,126.7 965.2,126.5 967,126.4 968.9,126.1 970.8,125.1 972.7,125.5 974.6,126.1 976.5,125.7 978.4,126.7 980.3,127.3 982.3,125.8 984.2,126 986.1,126.1 988.6,132.5 991.1,137.4 993.7,141 996.2,146.4 998.3,145.9 1000.4,145.7 1002.5,147.3 1004.6,146.9 1006.7,146 1008.8,144.2 1010.9,143.5 1013,142 1016.4,142.9 1019.7,186 1022.2,216.3 1024.8,244.6 1027.3,260.2 1029.8,278"/>
<polyline points="885.1,175.6 886.2,173.9 888.1,172.3 889.9,170.1 891.8,168.2 893.6,166.8 895.7,163.3 897.8,159.3 899.9,155.1 902,151.1 904.3,150.7 906.5,147.7 908.8,145.1 910.7,145.8 912.6,146.6 914.5,145.6 916.5,146.5 918.4,147.3 920.3,147.3 922.2,146.5 924.1,147.4 926,147.4 927.8,147.3 929.7,145.7 931.6,145.7 933.4,144.4 935.3,145.4 937.2,145.6 939,144.9 941,143.4 943.1,143.3 945.1,143.6 947.1,144 949.1,143.2 951.1,143.4 953.2,141.6 955.2,140 957.2,140.6 959.2,140.7 961.4,138.7 963.7,137 965.9,135.3 968.2,137.8 970.4,141.3 972.7,143.4 975.2,149.1 977.7,156.6 980.2,160.3 982.7,163.7 985.3,195.9 987.8,209.5 991.1,210.2"/>
<polyline points="885.1,185.3 886.2,185.8 888.1,181.8 889.9,178.3 891.8,175.1 893.6,174.4 895.9,168.4 898.1,160.9 900.4,157.4 902.6,153.4 904.8,148 907.1,144.5 909,145.1 910.9,146.1 912.8,146.8 914.7,147.7 916.5,148.7 918.4,148.1 920.3,148.5 922.2,147.3 924.1,148.7 926,147.5 927.8,147.3 929.7,146.7 931.6,146.4 933.4,146.3 935.3,147.2 937.2,149.4 939,148.9 941.1,149.7 943.2,149.5 945.3,148.3 947.4,147.8 949.7,145.7 951.9,141.2 954.2,138.9 956.7,141.6 959.2,144.3 961.7,140 964.2,137.1 966.5,140.5 968.7,146.8 971,151.8 973.1,148.7 975.2,143.7 977.3,140.7 979.4,137 981.5,136.5 983.6,136.8 985.7,137.2 987.8,139.7 989.9,138.5 992,136.2 994.1,136.3 996.2,135.9 998.3,135.2 1000.4,133.1 1002.5,131.5 1004.6,130.3 1006.7,128.8 1008.8,129.4 1010.9,129.4 1013,126.8"/>
<polyline points="885.1,94.6 886.4,98.8 888.3,100.1 890.3,101.4 892.8,115 895.3,127.1 897.6,141.9 899.8,162.1 902,176.7 904.3,184.6 906.5,196.2 908.8,205.2 911,210.3 913.3,216.4 915.5,221.4 917.7,227.9 920,236.9 922.2,244.4 924.7,257.6 927.3,270.2 929.8,275.3 932.3,279.9 935.7,280.3 938.2,272.2 940.7,262.7 943.2,255.3 945.8,248.4 947.9,247.3 950,244.9 952.1,242 954.2,240.8 956.4,241.8 958.6,244.1 960.9,246.3 963.4,241.2 965.9,235.7 968.2,239.3 970.4,242.4 972.7,244.7 974.9,241.7 977.1,238.2 979.4,237.3 981.5,237.1 983.6,237.8 985.7,240.1 987.8,241.1 990.3,237.8 992.8,232.3 996.2,218.8 997.9,215.6"/>
<polyline points="885.1,107.2 886.3,111.2 888.2,118.1 890.1,125.6 892,131.9 894.2,144.6 896.4,163.9 898.7,177.5 900.9,192.1 903.2,215 905.4,231.5 907.5,251.4 909.6,269.1 913,282.9"/>
<polyline points="885.1,114.6 886.2,119.4 888.1,127.5 889.9,134.1 891.8,140.8 893.6,144.9 895.7,154 897.8,168.9 899.9,183.1 902,194.9 904.3,211.6 906.5,235.7 908.8,252.6 911.3,273.5 913.8,292.3 915.9,299 918,308.3"/>
<polyline points="885.1,165.8 886.6,168.9 888.8,172.4 891,178.1 893.1,183.3 895.3,186.7 897.3,187.8 899.4,189.7 901.4,193.1 903.4,196.1 905.4,198.1 907.5,200.3 909.6,203.2 911.7,207 913.8,208.5 916.1,213.3 918.3,222.6 920.5,228.5 923.1,246.7 925.6,263.2 927.8,268.3 930.1,276.1 932.3,282.1 934.6,284.9 936.9,288.3 939.2,291 941.6,295.1"/>
<polyline points="885.1,187.8 886.2,189.3 888.1,190.4 889.9,193.1 891.8,195.6 893.6,196.6 895.9,204.3 898.1,213.8 900.4,220.9 902.9,225.6 905.4,231.2 907.7,230.5 909.9,228 912.1,225.4 914.2,227.3 916.3,228.4 918.4,230.4 920.5,231.7"/>
<polyline points="885.1,224.4 886.2,221.9 888.1,218.1 889.9,214.3 891.8,209.3 893.6,206.2 895.7,202.7 897.8,196.8 899.9,190.9 902,185.7 904.3,182.2 906.5,174.6 908.8,170.4 910.7,168.8 912.7,167 914.7,165.8"/>
<polyline points="885.1,143.8 886.4,142.3 888.3,141.6 890.3,140.5 892.8,137.3 895.3,135.6 897.2,134.8 899.1,133.2 901,133.2 902.9,134.1"/>
<polyline points="885.1,200 886.2,197.6 888.1,193.9 889.9,189.2 891.8,185.4 893.6,184.5 895.9,175.5 898.1,162.2 900.4,152.6 902.9,143.1 905.4,133.4 907.9,131.3 910.5,131.2 913,134 915.5,138.6 918,147.9 920.5,156.3 923.1,159.6 925.6,162.5 928.1,161.1 930.6,160.9"/>
<polyline points="885.1,261 886.9,270.8 888.6,275.6"/>
<polyline points="885.1,180.4 886.4,186.2 888.3,191.9 890.3,195.9 892.8,203.8 895.3,209.7"/>
<polyline points="885.1,229.2 886.4,225.1 888.3,220.1 890.3,217.7 893.6,213.2 895.7,215.4 897.8,218"/>
<polyline points="885.1,170.7 886.6,170.3 888.8,174.2 891,175.4 893.1,178.4 895.3,179.3 897.4,180.9 899.5,184.8 901.6,187.4 903.7,189.2 906,192.3 908.2,198.3 910.5,201.4 913,200.4 915.5,200.6 918.9,193.6"/>
<polyline points="885.1,209.7 886.5,211.7 888.6,213.5 890.7,214.7 892.8,216.1 894.9,217.8 897,220 899,220.4 900.9,221.6 902.9,224.2 904.8,224.7 906.8,225.9 908.8,228.2 910.8,227.1 912.8,228.7 914.8,229.4 916.8,228.9 918.9,228.9 921.1,223.1 923.3,214.8 925.6,209.4 927.5,203.8 929.5,196 931.5,188.7"/>
<polyline points="885.1,156 886.3,157.9 888.2,162.5 890.1,166.4 892,170.2 893.9,174.6 895.9,179.8 897.8,182.2 900.4,181.7 902.9,179"/>
</g><g fill="#808080">
<circle cx="1009.6" cy="157" r="3.4"/>
<circle cx="1029.8" cy="278" r="3.4"/>
<circle cx="991.1" cy="210.2" r="3.4"/>
<circle cx="1013" cy="126.8" r="3.4"/>
<circle cx="997.9" cy="215.6" r="3.4"/>
<circle cx="913" cy="282.9" r="3.4"/>
<circle cx="918" cy="308.3" r="3.4"/>
<circle cx="941.6" cy="295.1" r="3.4"/>
<circle cx="920.5" cy="231.7" r="3.4"/>
<circle cx="914.7" cy="165.8" r="3.4"/>
<circle cx="902.9" cy="134.1" r="3.4"/>
<circle cx="930.6" cy="160.9" r="3.4"/>
<circle cx="888.6" cy="275.6" r="3.4"/>
<circle cx="895.3" cy="209.7" r="3.4"/>
<circle cx="897.8" cy="218" r="3.4"/>
<circle cx="918.9" cy="193.6" r="3.4"/>
<circle cx="931.5" cy="188.7" r="3.4"/>
<circle cx="902.9" cy="179" r="3.4"/>
</g>
<path d="M884.8,91.9L884.8,337.3" stroke="#2b2b2b" stroke-width="1.5" />
<path d="M874.6,336.6L1057.4,336.6" stroke="#2b2b2b" stroke-width="1.5" />
<path d="M874.3,336.6L884.8,336.6" stroke="#2b2b2b" stroke-width="1.5" />
<text transform="translate(848.1,344.9) scale(1.015,1)" font-size="23.2">0</text>
<path d="M874.3,312.2L884.8,312.2" stroke="#2b2b2b" stroke-width="1.5" />
<path d="M874.3,287.8L884.8,287.8" stroke="#2b2b2b" stroke-width="1.5" />
<text transform="translate(834.8,296.1) scale(1.029,1)" font-size="23.2">10</text>
<path d="M874.3,263.4L884.8,263.4" stroke="#2b2b2b" stroke-width="1.5" />
<path d="M874.3,239L884.8,239" stroke="#2b2b2b" stroke-width="1.5" />
<text transform="translate(834.8,247.3) scale(1.029,1)" font-size="23.2">20</text>
<path d="M874.3,214.6L884.8,214.6" stroke="#2b2b2b" stroke-width="1.5" />
<path d="M874.3,190.2L884.8,190.2" stroke="#2b2b2b" stroke-width="1.5" />
<text transform="translate(834.8,198.5) scale(1.029,1)" font-size="23.2">30</text>
<path d="M874.3,165.8L884.8,165.8" stroke="#2b2b2b" stroke-width="1.5" />
<path d="M874.3,141.4L884.8,141.4" stroke="#2b2b2b" stroke-width="1.5" />
<text transform="translate(834.8,149.7) scale(1.029,1)" font-size="23.2">40</text>
<path d="M874.3,117L884.8,117" stroke="#2b2b2b" stroke-width="1.5" />
<path d="M874.3,92.6L884.8,92.6" stroke="#2b2b2b" stroke-width="1.5" />
<text transform="translate(834.8,100.9) scale(1.029,1)" font-size="23.2">50</text>
<path d="M888.6,336.6L888.6,346.1" stroke="#2b2b2b" stroke-width="1.5" />
<text transform="translate(882,375.5) scale(1.015,1)" font-size="23.2">0</text>
<path d="M922.2,336.6L922.2,346.1" stroke="#2b2b2b" stroke-width="1.5" />
<text transform="translate(915.6,375.5) scale(1.015,1)" font-size="23.2">2</text>
<path d="M955.8,336.6L955.8,346.1" stroke="#2b2b2b" stroke-width="1.5" />
<text transform="translate(949.2,375.5) scale(1.015,1)" font-size="23.2">4</text>
<path d="M989.5,336.6L989.5,346.1" stroke="#2b2b2b" stroke-width="1.5" />
<text transform="translate(982.9,375.5) scale(1.015,1)" font-size="23.2">6</text>
<path d="M1023.1,336.6L1023.1,346.1" stroke="#2b2b2b" stroke-width="1.5" />
<text transform="translate(1016.5,375.5) scale(1.015,1)" font-size="23.2">8</text>
<path d="M1056.7,336.6L1056.7,346.1" stroke="#2b2b2b" stroke-width="1.5" />
<text transform="translate(1043,375.5) scale(0.951,1)" font-size="23.2">10</text>
<text transform="translate(778,211.1) rotate(-90) scale(1.080,1)" x="-120" font-size="26.5">Distance to previous</text>
<text transform="translate(809.6,213.1) rotate(-90) scale(1.098,1)" x="-119.2" font-size="26.5">shelter location (cm)</text>
<text transform="translate(837,47.9) scale(1.033,1)" font-size="27.3">NAc<tspan font-size="18.5" dy="-11.5">Shelter</tspan><tspan font-size="27.3" dy="11.5">::ChrimsonR</tspan></text>
<rect x="882.0" y="60.0" width="183.0" height="19.4" fill="#404040"/>
<text transform="translate(947.8,75.6) scale(1.027,1)" font-size="16" fill="#f2f2f2">Threat</text>
<text transform="translate(812,412) scale(1.089,1)" font-size="26.5">Time from flight onset (s)</text>
<rect x="886.9" y="720.4" width="171.8" height="24.2" fill="#c8c8c8"/>
<g fill="none" stroke="#f5a742" stroke-width="1.1" stroke-linejoin="round">
<polyline points="887.2,585.2 887.5,586.5 889.2,587 890.8,587.5 892.5,587.9 894.2,590.5 895.9,592.6 897.6,595.5 899.3,596.9 901,599.4 902.7,604.3 904.3,607.2 906,611.2 907.7,616.8 909.4,622.9 911.1,630.4 912.8,638 914.5,643.9 916.1,650.9 917.8,656.9 919.5,662.2 921.2,667.3 922.9,670.7 924.6,673.6 926.3,675.2 928,677.4 929.6,679 931.3,680.6"/>
<polyline points="887.2,530.4 887.5,532 889.2,533.6 890.8,536.2 892.5,537.6 894.2,541 895.9,544.2 897.6,550.1 899.3,556 901,564.1 902.7,576.2 904.3,589.1 906,601.6 907.7,616.7 909.4,631.2 911.1,647.3 912.8,663.2 914.5,676.2 916.1,687.3 917.8,698.1 919.5,707.3 921.2,714 922.9,717.8 924.6,721.4 926.3,725.7 928,728.6"/>
<polyline points="887.2,526.5 887.5,527.5 889.2,530.9 890.8,533.5 892.5,538.4 894.2,543.4 895.9,550.2 897.6,558.2 899.3,566.1 901,576.4 902.7,589.6 904.3,602.2 906,617.5 907.7,632.1 909.4,645.1 911.1,657.9 912.8,670.7 914.5,679.4 916.1,688.8 917.8,696.3 919.5,701.1 921.2,706"/>
<polyline points="887.2,556 887.5,558.9 889.2,564.1 890.8,569.3 892.5,575.6 894.2,585.6 895.9,596.5 897.6,608.4 899.3,622.4 901,637.1 902.7,650.3 904.3,662.5 906,674.8 907.7,683.9"/>
<polyline points="887.2,609.3 887.5,610.8 889.2,609.9 890.8,611.5 892.5,612.1 894.2,614.2 895.9,615.2 897.6,617.4 899.3,620.9 901,625.1 902.7,628.4 904.3,634.1 906,639.9 907.7,645.5 909.4,651.1 911.1,658.2 912.8,666.4 914.5,673 916.1,681.6 917.8,690 919.5,697 921.2,702.9 922.9,709.2 924.6,714.2 926.3,718.1 928,720.9 929.6,724.3 931.3,726.6"/>
<polyline points="887.2,585.6 887.5,587.1 889.2,589.1 890.8,591.3 892.5,594.6 894.2,596.8 895.9,601 897.6,605.9 899.3,610.8 901,617.2 902.7,624.5 904.3,631.8 906,640.2 907.7,650 909.4,657.8 911.1,666.6 912.8,676.7 914.5,684 916.1,692.3 917.8,700.1 919.5,705.8 921.2,711.5 922.9,714.3 924.6,716.5 926.3,720.6 928,722.7"/>
<polyline points="887.2,516.4 887.5,518.1 889.2,521.2 890.8,525.8 892.5,532.4 894.2,539.2 895.9,548 897.6,558.6 899.3,569.8 901,584.5 902.7,598.4 904.3,615 906,630.1 907.7,645.3 909.4,660.3 911.1,672.7 912.8,684.3 914.5,694 916.1,701.4"/>
<polyline points="887.2,542.5 887.5,544.5 889.2,545.4 890.8,548.3 892.5,552.8 894.2,557.9 895.9,564.9 897.6,572.7 899.3,582.3 901,594.4 902.7,609.7 904.3,625.9 906,642.1 907.7,655.8 909.4,670.3 911.1,682.7 912.8,692.4 914.5,698.6 916.1,705.6 917.8,710.7"/>
<polyline points="887.2,552.7 887.5,556.3 889.2,560.6 890.8,566.2 892.5,572.9 894.2,581.8 895.9,592.7 897.6,603.5 899.3,616.9 901,629.6 902.7,642.3 904.3,655.5 906,667.4 907.7,677.1 909.4,685.8 911.1,692.9 912.8,699.3 914.5,704.9 916.1,707.8 917.8,711.4 919.5,712.9 921.2,714"/>
<polyline points="887.2,534.7 887.5,539.4 889.2,544.3 890.8,551 892.5,559.2 894.2,567.4 895.9,576.4 897.6,588.2 899.3,600.5 901,613 902.7,624.6 904.3,636.4 906,647.2 907.7,656.6 909.4,665.6 911.1,672.3 912.8,677.6 914.5,683.9 916.1,686.8 917.8,689.6 919.5,693.3 921.2,695.3 922.9,696.3"/>
<polyline points="887.2,516.3 887.5,519.2 889.2,521.1 890.8,523.6 892.5,527.5 894.2,532 895.9,538.7 897.6,544.5 899.3,551.4 901,559.6 902.7,570.1 904.3,580.7 906,593.1 907.7,604.1 909.4,615.5 911.1,628 912.8,640.2 914.5,650.3 916.1,659.2 917.8,666.5 919.5,673.6 921.2,680.8 922.9,684.7 924.6,689.9 926.3,692.3"/>
<polyline points="887.2,532.2 887.5,533 889.2,534 890.8,535.9 892.5,537.7 894.2,541.4 895.9,544.3 897.6,550.3 899.3,556.2 901,562 902.7,569.1 904.3,575.8 906,583.7 907.7,592.3 909.4,600.5 911.1,609.6 912.8,619.1 914.5,627.8 916.1,634.6 917.8,640.8 919.5,648.2 921.2,652.8 922.9,656.6 924.6,661"/>
<polyline points="887.2,645.8 887.5,644.9 889.2,645.8 890.8,647.4 892.5,648.3 894.2,650.6 895.9,653.9 897.6,657.6 899.3,664 901,670.1 902.7,677.6 904.3,684.6 906,692.4 907.7,701.9 909.4,709.9 911.1,717.7 912.8,723.2 914.5,726.8 916.1,729.3 917.8,732.3 919.5,734.9"/>
<polyline points="887.2,546.4 887.5,551.9 889.2,558 890.8,564.7 892.5,574.8 894.2,586.4 895.9,600 897.6,615.2 899.3,630.9 901,647.6 902.7,663.5 904.3,678.2 906,690.6 907.7,703.2"/>
<polyline points="887.2,522.6 887.5,524.3 889.2,526.2 890.8,527.6 892.5,529.8 894.2,534.1 895.9,537.6 897.6,543.8 899.3,552.6 901,563.9 902.7,576.1 904.3,590 906,607.4 907.7,624 909.4,641.9 911.1,658.5 912.8,671.2 914.5,683.8 916.1,694 917.8,701.1 919.5,706.5 921.2,709.2 922.9,712.3 924.6,714.1"/>
<polyline points="887.2,533.7 887.5,533.2 889.2,534.3 890.8,534.6 892.5,535.6 894.2,538 895.9,539.3 897.6,542.3 899.3,547 901,554.3 902.7,564.7 904.3,575.4 906,589.2 907.7,604.6 909.4,622.5 911.1,641.3 912.8,658.9 914.5,674.1 916.1,686.8 917.8,696.4 919.5,702.8 921.2,707.8 922.9,712.5"/>
<polyline points="887.2,526.8 887.5,527.9 889.2,528.7 890.8,529.1 892.5,531.4 894.2,533.6 895.9,535.7 897.6,538.8 899.3,542.9 901,546.8 902.7,553.3 904.3,562.6 906,571.3 907.7,582.9 909.4,595.9 911.1,607.3 912.8,618.9 914.5,630.1 916.1,640.2 917.8,650.1 919.5,659.1 921.2,665.4 922.9,671 924.6,674.2"/>
<polyline points="887.2,544 887.5,544.8 889.2,546.4 890.8,548.1 892.5,550.9 894.2,553.9 895.9,557.4 897.6,560.2 899.3,565.2 901,571.6 902.7,576.8 904.3,583.1 906,590.8 907.7,601.5 909.4,611.6 911.1,620.1 912.8,630.5 914.5,640.5 916.1,649.2 917.8,657.7 919.5,665.3 921.2,670.7 922.9,675.4"/>
<polyline points="887.2,538.7 887.5,540.7 889.2,542.5 890.8,544.7 892.5,546.9 894.2,550.3 895.9,556.1 897.6,561.8 899.3,568.3 901,575.6 902.7,583.5 904.3,592.9 906,602.9 907.7,613.1 909.4,625.8 911.1,637.7 912.8,649.1 914.5,660.5 916.1,671 917.8,680.1 919.5,689.9 921.2,697.2 922.9,704.9 924.6,710.1"/>
<polyline points="887.2,591.4 887.5,591.7 889.2,592.9 890.8,594.3 892.5,595.1 894.2,596.6 895.9,599.3 897.6,601.3 899.3,605.3 901,610.4 902.7,615.5 904.3,621.7 906,628 907.7,633.2 909.4,639.8 911.1,644.9 912.8,650.4 914.5,657.1 916.1,660.5 917.8,663.5 919.5,668.2 921.2,669.9 922.9,672.4"/>
<polyline points="887.2,591.2 887.5,591.7 889.2,591 890.8,591.2 892.5,592.2 894.2,594.7 895.9,595.9 897.6,598.3 899.3,602.2 901,607.3 902.7,612.4 904.3,620.4 906,629.2 907.7,639.5 909.4,651.8 911.1,665.4 912.8,677.8 914.5,689.8 916.1,699.3 917.8,707.8 919.5,713.3 921.2,717.7 922.9,721.5 924.6,725.4 926.3,728.5 928,728.8"/>
<polyline points="887.2,601.5 887.5,603.6 889.2,605.7 890.8,606.4 892.5,608.3 894.2,611.4 895.9,617.7 897.6,624.5 899.3,631.8 901,639.7 902.7,648.2 904.3,658.7 906,668 907.7,678.2 909.4,687.3 911.1,693.8 912.8,699.7 914.5,704.3 916.1,708.6 917.8,711.7 919.5,714.7 921.2,716.5"/>
<polyline points="887.2,528.9 887.5,532.8 889.2,538.5 890.8,545.6 892.5,552.8 894.2,563.2 895.9,576.9 897.6,591.5 899.3,607.7 901,626.5 902.7,643.4 904.3,659.3 906,673.4 907.7,685.4 909.4,694.4 911.1,701.6 912.8,706.7"/>
<polyline points="887.2,525 887.5,526.4 889.2,527 890.8,526.7 892.5,526.9 894.2,528.6 895.9,530.9 897.6,533.2 899.3,535.5 901,540.2 902.7,547 904.3,554.3 906,564.7 907.7,576.9 909.4,591.7 911.1,608.4 912.8,626.9 914.5,643.5 916.1,659.7 917.8,673.1 919.5,683.5 921.2,690.2"/>
<polyline points="887.2,603.7 887.5,604.1 889.2,605.2 890.8,607.7 892.5,610.5 894.2,614.4 895.9,617.8 897.6,623.2 899.3,629.5 901,635.6 902.7,641.5 904.3,648.3 906,656.9 907.7,665.3 909.4,672.6 911.1,678.6 912.8,684.5 914.5,687.2 916.1,690.6 917.8,692.9 919.5,695.4 921.2,696.7"/>
<polyline points="887.2,558.5 887.5,561 889.2,561.7 890.8,564.2 892.5,566.3 894.2,569.8 895.9,572.9 897.6,578.4 899.3,584.3 901,591.4 902.7,598.1 904.3,607.3 906,617.5 907.7,627.4 909.4,637 911.1,648.9 912.8,659 914.5,670.3 916.1,678.9 917.8,686.4 919.5,694.9 921.2,703 922.9,708.9"/>
<polyline points="887.2,512.7 887.9,509.7 890,505.8 892.2,505.9 894.5,504.8 896.7,504.7 899,506.4 901.2,506.9 903.5,507.4 905.6,508.5 907.7,509.8 909.8,510 911.9,510.1 915.3,515.3 917.4,516.4 919.5,517.7 921.6,519.5 923.7,519.6 925.6,519.9 927.5,519.8 929.4,520.6 931.2,521.6 933.1,520.9 935,520.6 936.9,520.7 938.7,522.2 940.6,522.4 942.6,521.6 944.7,521.8 946.7,522 948.7,521.8 950.7,521.2 952.8,517.3 954.9,513.7 956.9,515.1 958.9,517.2 960.9,517.8 962.9,518.8 964.9,518.9 966.9,519.3 969,520.4 971,520.5 973.2,523.8 975.5,527.5 977.7,530.9 980.3,541.1 982.8,550 986.2,588.8 989.5,627.3 991.6,641 993.8,653.8"/>
<polyline points="887.2,570.6 887.8,567 889.7,561.6 891.7,556.4 894.2,543.3 896.7,530.9 899.3,522.2 901.8,513.6 903.9,514.4 906,512.9 908.1,511.7 910.2,511 912.4,510 914.5,509.9 917,531.6 919.5,570.5 922.1,589.2 925.4,592.9 927.5,592.1 929.6,592.4"/>
<polyline points="887.2,585.1 887.9,585.2 890,587.9 892.1,589.4 894.2,591.3 896.3,593.2 898.4,595.4 900.5,595.5 902.7,596.8 904.8,597.9 906.9,597.2 909,598.4 911.1,599.6 913.2,600.3 915.3,600.2 917.6,604.3 919.8,609.3 922.1,613.4 924.6,631.3 927.1,647.7 929.6,664.6 932.2,681.6 934.7,686.9 937.2,691.6 939.3,692 941.3,691.5 943.3,691 945.3,691.3 947.4,692.4 949.5,693.2 951.6,694.4 953.7,694.8 955.8,695.1 958.3,701.8 960.9,708.2 963.1,703.1 965.4,695.3 967.6,690.3 969.9,681.5 972.1,668.5 974.4,658.9 976.2,652.8 978.1,644.4 980,636 981.9,631"/>
<polyline points="887.2,517.5 887.6,518.8 889.5,519 891.3,519.9 893.2,521.2 895.1,522.5 897.1,523.9 899.1,524.2 901.1,524.7 903.2,525.3 905.2,526 907.4,529.8 909.7,536.9 911.9,541.1 914.5,554.9 917,569.3 919.5,588.2 922.1,607.5 924.6,632.1 927.1,657.5 929.6,672.6 932.2,687.2 934.7,695 937.2,702.3 939.5,704.8 941.7,707.8 944,709.7 946.1,710 948.2,710.5 950.3,711.6 952.4,711.3 954.7,710.4 956.9,707.9 959.2,706.9 961.7,697.6 964.2,688.4 966.5,681.2 968.7,671.2 971,663.9"/>
<polyline points="887.2,527.2 888,530.5 890.2,536.2 892.4,541.6 894.6,547.5 896.7,550.6 898.8,558.8 900.8,572.9 902.8,587.9 904.8,601.5 906.9,609.6 909,618.4 911.1,630.4 913.2,643.3 915.3,651.9 917.6,656.2 919.8,662.7 922.1,666.6 924.3,669.4 926.6,671.4 928.8,673.8 931.1,675.6 933.3,677.8 935.5,678.4"/>
<polyline points="887.2,532 888,537.8 890.2,547.1 892.4,556.8 894.6,565.7 896.7,572 898.8,580 900.8,593.3 902.8,607.4 904.8,620.6 906.9,629.7 909,637 911.1,648.3 913.2,659.5 915.3,667.9 917.4,667.4 919.5,667.3 921.6,668 923.7,668 926,670.5 928.2,674.8 930.5,676.6 932.7,677.3 935,679.8 937.2,681 940.6,673.4 943.1,669 945.7,663.9"/>
<polyline points="887.2,541.7 888,548.2 890.2,557.2 892.4,568.3 894.6,577.8 896.7,585.1 898.8,593.8 900.8,606.7 902.8,622 904.8,634 906.9,643.6 909,650.8 911.1,661.6 913.2,673.6 915.3,682.3 917.4,684.2 919.5,689.6 921.6,693.4 923.7,696.6 925.8,697 928,698.8 930.1,700.8 932.2,701.4 934.3,701.7 936.4,703.3 938.5,705 940.6,705.4 942.5,704.8 944.4,704.1 946.2,705.4 948.1,705.1 950,704.7 951.9,704.3 953.7,704.5 955.6,704.7 957.5,704.6 959.4,705.5 961.2,705.5 963.1,706.1 965,705.5 966.9,705.7 968.7,705.2 970.6,704.9 972.5,705.1 974.4,705 976.2,703.8 978.1,704.7 980,704 981.8,703.6 983.7,703.3 985.6,703.8 987.5,704.1 989.3,705 991.2,705.2 993.1,704.2 995,703.3 996.8,703.4 998.7,703.7 1000.6,704.1 1002.5,703.2 1004.3,703.3 1006.2,702.5 1008.1,702.4 1010,701.9 1011.9,702.7 1013.9,703.1 1015.8,701.7 1017.7,701.7 1019.7,701.3 1021.6,701.2 1023.8,701 1026.1,698.3 1028.3,697.6 1031.7,710.8 1034.2,723.5 1036.8,735.9"/>
<polyline points="887.2,551.3 887.6,554.7 889.5,559.4 891.3,565 893.2,571.3 895.1,574.5 897.1,584.8 899.1,598.2 901.1,613.2 903.2,627.7 905.2,638.3 907.3,647.4 909.4,661.8 911.5,676.1 913.6,685.3 915.7,689.3 917.8,695.3 919.9,702 922.1,706.3 924.3,710.7 926.6,715.9 928.8,719.7 931.3,724.2 933.9,727.5 936.4,728.4 938.9,729.9 942.3,721.8 944.8,714.1 947.4,705.9"/>
</g><g fill="#f5a742">
<circle cx="931.3" cy="680.6" r="3.2"/>
<circle cx="928" cy="728.6" r="3.2"/>
<circle cx="921.2" cy="706" r="3.2"/>
<circle cx="907.7" cy="683.9" r="3.2"/>
<circle cx="931.3" cy="726.6" r="3.2"/>
<circle cx="928" cy="722.7" r="3.2"/>
<circle cx="916.1" cy="701.4" r="3.2"/>
<circle cx="917.8" cy="710.7" r="3.2"/>
<circle cx="921.2" cy="714" r="3.2"/>
<circle cx="922.9" cy="696.3" r="3.2"/>
<circle cx="926.3" cy="692.3" r="3.2"/>
<circle cx="924.6" cy="661" r="3.2"/>
<circle cx="919.5" cy="734.9" r="3.2"/>
<circle cx="907.7" cy="703.2" r="3.2"/>
<circle cx="924.6" cy="714.1" r="3.2"/>
<circle cx="922.9" cy="712.5" r="3.2"/>
<circle cx="924.6" cy="674.2" r="3.2"/>
<circle cx="922.9" cy="675.4" r="3.2"/>
<circle cx="924.6" cy="710.1" r="3.2"/>
<circle cx="922.9" cy="672.4" r="3.2"/>
<circle cx="928" cy="728.8" r="3.2"/>
<circle cx="921.2" cy="716.5" r="3.2"/>
<circle cx="912.8" cy="706.7" r="3.2"/>
<circle cx="921.2" cy="690.2" r="3.2"/>
<circle cx="921.2" cy="696.7" r="3.2"/>
<circle cx="922.9" cy="708.9" r="3.2"/>
<circle cx="993.8" cy="653.8" r="3.2"/>
<circle cx="929.6" cy="592.4" r="3.2"/>
<circle cx="981.9" cy="631" r="3.2"/>
<circle cx="971" cy="663.9" r="3.2"/>
<circle cx="935.5" cy="678.4" r="3.2"/>
<circle cx="945.7" cy="663.9" r="3.2"/>
<circle cx="1036.8" cy="735.9" r="3.2"/>
<circle cx="947.4" cy="705.9" r="3.2"/>
</g>
<path d="M886.9,502.3L886.9,745.3" stroke="#2b2b2b" stroke-width="1.5" />
<path d="M876,744.6L1059.4,744.6" stroke="#2b2b2b" stroke-width="1.5" />
<path d="M876.4,744.6L886.9,744.6" stroke="#2b2b2b" stroke-width="1.5" />
<text transform="translate(850.2,752.9) scale(1.015,1)" font-size="23.2">0</text>
<path d="M876.4,720.4L886.9,720.4" stroke="#2b2b2b" stroke-width="1.5" />
<path d="M876.4,696.3L886.9,696.3" stroke="#2b2b2b" stroke-width="1.5" />
<text transform="translate(836.9,704.6) scale(1.029,1)" font-size="23.2">10</text>
<path d="M876.4,672.1L886.9,672.1" stroke="#2b2b2b" stroke-width="1.5" />
<path d="M876.4,648L886.9,648" stroke="#2b2b2b" stroke-width="1.5" />
<text transform="translate(836.9,656.3) scale(1.029,1)" font-size="23.2">20</text>
<path d="M876.4,623.8L886.9,623.8" stroke="#2b2b2b" stroke-width="1.5" />
<path d="M876.4,599.6L886.9,599.6" stroke="#2b2b2b" stroke-width="1.5" />
<text transform="translate(836.9,607.9) scale(1.029,1)" font-size="23.2">30</text>
<path d="M876.4,575.5L886.9,575.5" stroke="#2b2b2b" stroke-width="1.5" />
<path d="M876.4,551.3L886.9,551.3" stroke="#2b2b2b" stroke-width="1.5" />
<text transform="translate(836.9,559.6) scale(1.029,1)" font-size="23.2">40</text>
<path d="M876.4,527.2L886.9,527.2" stroke="#2b2b2b" stroke-width="1.5" />
<path d="M876.4,503L886.9,503" stroke="#2b2b2b" stroke-width="1.5" />
<text transform="translate(836.9,511.3) scale(1.029,1)" font-size="23.2">50</text>
<path d="M890,744.6L890,754.1" stroke="#2b2b2b" stroke-width="1.5" />
<text transform="translate(883.4,783.5) scale(1.015,1)" font-size="23.2">0</text>
<path d="M923.7,744.6L923.7,754.1" stroke="#2b2b2b" stroke-width="1.5" />
<text transform="translate(917.1,783.5) scale(1.015,1)" font-size="23.2">2</text>
<path d="M957.5,744.6L957.5,754.1" stroke="#2b2b2b" stroke-width="1.5" />
<text transform="translate(950.9,783.5) scale(1.015,1)" font-size="23.2">4</text>
<path d="M991.2,744.6L991.2,754.1" stroke="#2b2b2b" stroke-width="1.5" />
<text transform="translate(984.6,783.5) scale(1.015,1)" font-size="23.2">6</text>
<path d="M1025,744.6L1025,754.1" stroke="#2b2b2b" stroke-width="1.5" />
<text transform="translate(1018.4,783.5) scale(1.015,1)" font-size="23.2">8</text>
<path d="M1058.7,744.6L1058.7,754.1" stroke="#2b2b2b" stroke-width="1.5" />
<text transform="translate(1045,783.5) scale(0.951,1)" font-size="23.2">10</text>
<text transform="translate(780,622.1) rotate(-90) scale(1.080,1)" x="-120" font-size="26.5">Distance to previous</text>
<text transform="translate(810.6,624) rotate(-90) scale(1.098,1)" x="-119.2" font-size="26.5">shelter location (cm)</text>
<rect x="887.0" y="439.3" width="179.3" height="19.5" fill="#404040"/>
<text transform="translate(952.5,454.9) scale(1.059,1)" font-size="16" fill="#f2f2f2">Threat</text>
<rect x="886.0" y="464.0" width="180.3" height="19.0" fill="#f7941d"/>
<text transform="translate(892.5,479.8) scale(1.111,1)" font-size="16" fill="#fde2a7">589-nm (reactivation)</text>
<text transform="translate(813,822.8) scale(1.089,1)" font-size="26.5">Time from flight onset (s)</text>
<rect x="883.9" y="1143.7" width="173.1" height="24.3" fill="#c8c8c8"/>
<g fill="none" stroke="#3d3d3d" stroke-width="0.9" stroke-linejoin="round">
<polyline points="884.3,976.2 885.9,976.2 887.6,975.4 889.2,977.2 890.9,977.4 892.5,978.1 894.2,977.8 895.8,977.5 897.5,978.8 899.1,979.1 900.8,979.1 902.4,977.1 904.1,975.9 905.8,976.6 907.4,974.9 909.1,975.3 910.7,974 912.4,974.3 914,974.9 915.7,972.9 917.3,976.2 919,982.7 920.6,989.8 922.3,1000.3 923.9,1014.7 925.6,1028.2 927.2,1044.3 928.9,1060.3 930.5,1077.6 932.2,1091.8 933.9,1106 935.5,1117.8 937.2,1128.1 938.8,1137.7 940.5,1143.5 941.9,1145.5"/>
<polyline points="884.3,1040.3 885.9,1040.5 887.6,1041 889.2,1040.7 890.9,1039.5 892.5,1039.8 894.2,1036.4 895.8,1035.1 897.5,1031.6 899.1,1029.5 900.8,1031.4 902.4,1032.7 904.1,1039 905.8,1049.2 907.4,1065.5 909.1,1083.9 910.7,1102.5 912.4,1117.4 914,1132.4 915.7,1141.2 917.3,1144.5 917.7,1145.8"/>
<polyline points="884.3,1013.5 885.9,1015 887.6,1015.3 889.2,1014.7 890.9,1013.2 892.5,1013.7 894.2,1012 895.8,1011.4 897.5,1010.6 899.1,1009.3 900.7,1009"/>
<polyline points="884.3,1051.2 885.9,1050.7 887.6,1049.6 889.2,1049.9 890.9,1050.2 892.5,1051.3 894.2,1049.5 895.8,1050.5 897.5,1049.4 899.1,1046.9 900.8,1045.9 902.4,1041.3 904.1,1034.2 905.8,1025.4 907.4,1016.7 909.1,1025.2 910.3,1041.3"/>
<polyline points="884.3,1040.3 885.9,1040.5 887.6,1041.3 889.2,1041.5 890.9,1042.4 892.5,1042.5 894.2,1040.8 895.8,1039.9 897.5,1040.3 899.1,1041.3 900.8,1042.6 902.4,1044.4 904.1,1045.3 905.8,1044.4 907.4,1043.5 909.1,1044.4 910.7,1043.7 912.4,1043.3 914,1043.2 915.7,1043.3 917.3,1043 919,1044 920.6,1043.7 922.3,1044.7 923.9,1044.8 925.6,1045.7 927.2,1049.2 928.9,1055.8 930.5,1061.8 932.2,1070.1 933.9,1079.5 935.2,1088.6"/>
<polyline points="884.3,986.8 885.9,985.9 887.6,986.5 889.2,985.3 890.9,983.9 892.5,982.8 894.2,980 895.8,976.4 897.5,972.8 899.1,967.3 900.8,961.7 902.4,953.4 904.1,946.1 905.8,941.8 907.4,938.2 909.1,935.8 910.7,934.3 912.4,935 914,933.8 915.7,933.6 917.3,933.2 919,933.7 920.6,933.8 922.3,938.6 923.9,950.1 925.6,966.3 927.2,988.4 928.9,1012.1 930.5,1036.1 932.2,1059.7 932.5,1063.9"/>
<polyline points="884.3,969.9 885.9,970.5 887.6,971.3 889.2,970.6 890.9,970.2 892.5,969 894.2,967.9 895.8,967.7 897.5,964.9 899.1,964.6 900.8,962.4 902.4,960.4 904.1,958.3 905.8,957.5 907.4,954.8 909.1,957.8 910.7,983.7 912.4,1023.6 914,1071.2 915.7,1113 917.3,1141.3 918.4,1145.8"/>
<polyline points="884.3,932.4 885.9,931.2 887.6,930.2 889.2,930.6 890.9,931.7 892.5,930.8 894.2,932.8 895.8,933.9 897.5,933.4 899.1,932.9 900.8,934 902.4,933.3 904.1,932.2 905.8,933 907.4,933.5 909.1,934.5 910.7,935 912.4,933.4 914,934 915.7,932.7 917.3,932 919,936.5 920.6,952.8 922.3,975 923.9,1004.6 925.6,1037.1 927.2,1070 928.9,1098.1 930.5,1122.7 932.2,1139.8 933.7,1145.3"/>
<polyline points="884.3,1044.3 885.9,1042.1 887.6,1040.4 889.2,1039.5 890.9,1037 892.5,1032.5 894.2,1022.8 895.8,1012.6 897.5,998.8 899.1,984.6 900.8,971 902.4,960.3 904.1,952.3 905.8,948.8 907.4,944.8 909.1,943.7 910.7,942.4 912.4,942.2 914,942.3 915.7,941.7 917.3,941.5 919,944 920.6,950 922.3,960.9 923.9,976.7 925.6,994.1 927.2,1012.7 928.9,1031.1 930.5,1050.5 932.2,1070.9 933.9,1091.7 935.5,1108 937.2,1123.1 938.8,1134.5 940.5,1141.6 942.1,1144.5 942.2,1145.4"/>
<polyline points="884.3,938.3 885.9,938.7 887.6,939.3 889.2,938.4 890.9,937.3 892.5,938.8 894.2,938.9 895.8,938.8 897.5,938.9 899.1,939.5 900.8,940.5 902.4,940.1 904.1,939.3 905.8,942.4 907.4,956 909.1,978.3 910.7,1008 912.4,1041.7 914,1077.4 915.7,1107.1 915.7,1108.2"/>
<polyline points="884.3,927.9 885.9,926.5 887.6,927.7 889.2,927.3 890.9,927.5 892.5,928.5 894.2,927.8 895.8,929.1 897.5,929.9 899.1,929.8 900.8,930.8 902.4,931.8 904.1,935.3 905.8,945.3 906.3,950"/>
<polyline points="884.3,1042.2 885.9,1043.2 887.6,1042.5 889.2,1042.1 890.9,1040.2 892.5,1039.3 894.2,1037.5 895.8,1035.4 897.5,1030.5 899.1,1023.9 900.8,1012.8 902.4,1000.3 904.1,987.9 905.8,975.8 907.4,965.6 909.1,958.6 910.7,960 912.4,965 914,974.7 915.7,989.5 917.3,1004.5 919,1022.9 920.6,1041.8 922.3,1059.4 923.9,1077.9 925.6,1093.5 927.2,1109.3 928.9,1123.4 930.5,1133.4 932.2,1142.7 933.9,1145.8 934.6,1146.2"/>
<polyline points="884.3,1040.3 885.9,1040.8 887.6,1041.5 889.2,1041.6 890.9,1040.8 892.5,1040.8 894.2,1040.6 895.8,1041 897.5,1039.6 899.1,1041.3 900.8,1044.7 901.4,1047.7"/>
<polyline points="884.3,947.8 885.9,948.8 887.6,947.1 889.2,947 890.9,946.1 892.5,947.6 894.2,947.2 895.8,945.4 897.5,944.7 899.1,944.3 900.8,943.3 902.4,943.1 904.1,942.4 905.8,941.6 907.4,940.3 909.1,939.3 910.7,937.3 912.4,938 914,938.2 915.7,938.3 917.3,938.7 919,938.7 920.6,939 922.3,946.4 923.9,964.8 925.6,987.3 927.2,1016.6 928.9,1046.2 930.5,1076.5 932.2,1104 933.9,1126.8 935.5,1140.2 936.9,1146.3"/>
<polyline points="884.3,972.6 885.9,972.5 887.6,970.7 889.2,971.2 890.9,971.7 892.5,971.4 894.2,971.5 895.8,970 897.5,968.3 899.1,967.9 900.8,966 902.4,961.6 904.1,955.7 905.8,952.5 907.4,964.6 909.1,988.8 910.7,1025.6 912.4,1065.4 914,1100.8 915.7,1129.8 917.3,1146.3 917.9,1145.9"/>
<polyline points="884.3,929.6 885.9,931 887.6,931.2 889.2,932.8 890.9,933.9 892.5,935.1 894.2,937 895.8,939.9 897.5,945.3 898.8,948.7"/>
<polyline points="884.3,1035.4 885.9,1035.3 887.6,1034.3 889.2,1035.2 890.9,1035.9 892.5,1033.9 894.2,1031.3 895.8,1026.8 897.5,1020.9 899.1,1011.5 900.8,999.3 902.4,986.9 904.1,986.7 905.8,997.9 907.4,1018.2 909.1,1047.4 910.7,1078.9 912.4,1107.8 914,1131.6 915.7,1143.8 916.6,1145.4"/>
<polyline points="884.3,1017.6 885.9,1018.5 887.6,1018.1 889.2,1016.6 890.9,1013.8 892.5,1010.3 894.2,1003.7 895.8,995.7 897.5,985.3 899.1,975.8 900.8,967 902.4,967.5 902.7,969.5"/>
<polyline points="884.3,984.2 885.9,985.2 887.6,986 889.2,986.1 890.9,985.8 892.5,984.1 894.2,983.6 895.8,983.2 897.5,979.7 899.1,976 900.8,972.6 902.4,967.1 904.1,960.2 905.8,952.4 907.4,944.3 909.1,937.9 910.7,934.4 912.4,933.3 914,932.2 915.7,931.7 917.3,931.5 919,932.4 920.6,931.4 922.3,930 923.9,929.5 925.6,935.6 927.2,945.6 928.9,961.2 930.5,978.6 932.2,999.7 933.9,1020.9 935.5,1043.7 937.2,1068.2 938.8,1090.5 939.7,1100.7"/>
<polyline points="884.3,998.2 885.9,998.7 887.6,1000.1 889.2,998.3 890.9,999.7 892.5,999 894.2,998.5 895.8,996.5 897.5,995.8 899.1,994.6 900.8,991.7 902.4,987.4 904.1,980.2 905.8,972.6 907.4,963.5 909.1,957.2 910.7,951.9 912.4,948.6 914,944.2 915.7,941.8 917.3,940.3 919,940 920.6,940.5 922.3,941.6 923.9,940.4 925.6,941.5 927.2,950.9 927.9,954.9"/>
<polyline points="884.3,1046.7 885.9,1047.2 887.6,1048.6 889.2,1047.9 890.9,1047 892.5,1047.3 894.2,1046.5 895.8,1045.6 897.5,1045.6 899.1,1044.4 900.8,1043.3 902.4,1042.2 904.1,1040.9 905.8,1040.8 907.4,1039.1 909.1,1038.4 910.7,1037.6 912.4,1037.7 914,1037.9 915.7,1038.4 917.3,1037.9 919,1038.9 920.6,1038.9 922.3,1038.7 923.9,1041.1 925.6,1050 927.2,1063.8 928.9,1080.2 930.5,1096.9 931.2,1101.8"/>
<polyline points="884.3,958.7 885.9,957.5 887.6,956.9 889.2,957 890.9,956.7 892.5,956.8 894.2,957.2 895.8,958.7 897.5,958.8 899.1,957.9 900.8,959.2 902.4,958 904.1,959.2 905.8,965.2 907.4,977 909.1,990.9 910.7,1008.2 912.4,1025.9 914,1044.3 915.7,1063.3 917.3,1082.9 919,1101.8 920.6,1119.1 922.3,1131.2 923.9,1140.2 925.6,1144 926.1,1145.1"/>
<polyline points="884.3,941.4 885.9,942.5 887.6,943.7 889.2,943.2 890.9,942 892.5,941.2 894.2,941.2 895.8,942.2 897.5,943.1 899.1,943.5 900.8,942.7 902.4,944 904.1,944.9 905.8,944.6 907.4,943.4 909.1,944.7 910.7,946.2 912.4,947 914,949.5 915.7,956.1 917.3,967.6 919,981.7 920.6,996.8 922.3,1013.6 923.9,1031.5 925.6,1049.9 927.2,1070.2 928.9,1088 930.5,1103.5 932.2,1117 933.9,1130 935.5,1137.9 937.2,1142.9 938.2,1145.3"/>
<polyline points="884.3,1030.9 885.9,1030 887.6,1030.6 889.2,1028.7 890.9,1026.7 892.5,1023.8 894.2,1019.8 895.8,1014.2 897.5,1005.4 899.1,993.7 900.8,980.9 902.4,966.5 904.1,958.8 905.8,968.6 907.4,994.5 909.1,1030.3 910.7,1069.5 912.4,1106 914,1133.1 915.7,1145.4 916,1146.2"/>
<polyline points="884.3,1004.1 885.9,1004.6 887.6,1002 889.2,998.6 890.9,995 892.5,989.8 894.2,981.6 895.8,973 897.5,963.6 899.1,955.4 900.8,951.1 902.4,948.4 904.1,946.2 905.8,944.3 907.4,942.8 909.1,942.4 910.7,943.1 912.4,943.4 914,942.2 915.7,942.3 917.3,946.4 919,959.1 920.6,980.8 922.3,1006.8 923.9,1038.1 925.6,1069.1 927.2,1098.6 928.9,1122.3 929.6,1128.4"/>
<polyline points="884.3,987.1 885.9,987.2 887.6,985.5 889.2,981.8 890.9,977 892.5,970 894.2,963 895.8,954.7 897.5,944.8 899.1,938.7 900.8,934.2 902.4,932.4 904.1,930.8 905.8,928.6 907.4,933.1 909.1,943.2 910.7,958.7 912.4,976 914,994.6 915.7,1016 917.3,1037.7 919,1058.5 920.6,1079.5 922.3,1098.9 923.9,1117.5 925.6,1132.4 927.2,1140.6 928.9,1145.3 929.4,1145"/>
<polyline points="884.3,950.6 885.9,949.2 887.6,948.1 889.2,949.6 890.9,950.1 892.5,950.8 894.2,950.8 895.8,951.3 897.5,950.6 899.1,951.6 900.8,952.3 902.4,951.9 904.1,952.9 905.8,952.7 907.4,951.3 909.1,950.4 910.7,951.9 912.4,953.6 914,952.4 915.7,951.2 917.3,952.7 919,959.6 920.6,969.3 922.3,979.8 923.9,993.2 925.6,1011.3 927.2,1029.7 928.9,1047.8 930.5,1066.4 932.2,1083 933.9,1099.9 935.5,1113.8 937.2,1127.6 938.8,1137 940.5,1141.7 942.1,1145"/>
<polyline points="884.3,1048 885.9,1048.2 887.6,1047.1 889.2,1044.9 890.9,1043.7 892.5,1039.6 894.2,1032.6 895.8,1024.8 897.5,1011 899.1,996.2 900.8,980.4 902.4,966.1 904.1,954.3 905.8,948.2 907.4,943 909.1,941.8 910.7,947.8 912.4,962.7 913.3,972.4"/>
<polyline points="884.3,1019.6 885.9,1020.6 887.6,1021.7 889.2,1020.1 890.9,1021.5 892.5,1021.3 894.2,1020.1 895.8,1019.6 897.5,1019.2 899.1,1016.5 900.8,1015.1 902.4,1011.2 904.1,1004.5 905.8,997.6 907.4,987.3 909.1,976.7 910.7,973.3 912.4,979.8 914,993.7 915.7,1015.1 917.3,1039.9 919,1065.4 920.6,1090.8 922.3,1111.1 923.6,1125.2"/>
<polyline points="884.3,1024.7 885.9,1025.1 887.6,1023.6 889.2,1023.7 890.9,1022.4 892.5,1023.4 894.2,1024 895.8,1024.5 897.5,1022.5 899.1,1021.4 900.8,1022.2 902.4,1022.6 904.1,1020.6 905.8,1020.2 907.4,1018.8 909.1,1020.3 910.7,1019.7 912.4,1020.7 914,1019.6 915.7,1019.2 917.3,1018.9 919,1019.8 920.6,1018.4 922.3,1021.7 923.9,1028.7 925.6,1036.8 927.2,1049.5 928.9,1063.8 930.5,1077.7 932.2,1091.6 933.9,1104.7 935.5,1117.5 937.2,1130.4 938.8,1138.5 940.5,1142.9 941.7,1145.3"/>
<polyline points="884.3,960.1 885.9,960.1 887.6,957.6 889.2,957.5 890.9,957 892.5,955.1 894.2,953.8 895.8,951.4 897.5,949 899.1,947.2 900.8,947.3 902.4,947.6 904.1,946.8 905.8,945.7 907.4,945.6 909.1,945.2 910.7,944 912.4,945.3 914,945.9 915.7,945.7 917.3,945.4 919,944.1 920.6,945.7 922.3,954.3 923.5,965.9"/>
<polyline points="884.3,955.6 885.9,954.5 887.6,956.2 889.2,955.6 890.9,956.6 892.5,958.2 894.2,958 895.8,957.4 897.5,957.9 899.1,959.9 900.8,958.6 902.4,959.4 904.1,959.2 905.8,958.8 907.4,962.2 909.1,974.5 910.7,995 912.4,1021.4 914,1050.5 915.3,1070.8"/>
<polyline points="884.3,1007.2 885.9,1007.1 887.6,1007.7 889.2,1008.8 890.9,1008.1 892.5,1008.7 894.2,1010 895.8,1010.1 897.5,1009.4 899.1,1009.6 900.8,1013.9 902.4,1021.2 904.1,1027.9 905.8,1038.3 907.4,1048.3 909.1,1060.5 910.7,1070.4 911.1,1073.7"/>
<polyline points="884.3,1001.9 885.9,1000.8 887.6,1001.8 889.2,1001 890.9,1001.2 892.5,1002.5 894.2,1003.5 895.8,1001.5 897.5,1001.2 899.1,1000.5 900.8,997.9 902.4,995.7 904.1,992.4 905.8,988 907.4,980 909.1,972.4 910.7,963.5 912.4,954.7 914,953.4 915.7,970.5 917.3,999.8 917.7,1005.6"/>
<polyline points="884.3,963.4 885.9,962 887.6,962.1 889.2,959.8 890.9,957.8 892.5,954.3 894.2,950.6 895.8,944 897.5,939.7 899.1,934 900.8,931.1 902.4,928.4 904.1,926.5 905.8,925.8 907.4,932.2 909.1,961.9 910.7,1008.3 912.4,1059.2 914,1103.7 914.2,1108.3"/>
<polyline points="884.3,1003.4 885.9,1001 887.6,998.5 889.2,995.6 890.9,989.4 892.5,981.8 894.2,973 895.8,961.5 897.5,951.3 899.1,942.1 900.8,935.5 902.4,930.6 904.1,929.3 905.8,927.6 907.4,928.1 909.1,926.2 910.7,925.1 912.4,924.6 914,925.7 915.7,927.6 917.3,935.3 919,949.1 920.6,966.2 922.3,984 923.9,1004.9 925.6,1029 927.2,1051.3 928.9,1073.8 930.5,1095.5 932.2,1113.8 933.3,1124.7"/>
<polyline points="884.3,929.5 886.2,930.4 888.2,929.5 890.2,928.8 892.1,928 894.1,927.7 896,927.5 898,927.6 900,926.8 901.8,927 903.6,926.7 905.5,926.1 907.3,926.1 909.1,925.7 911,926.4 912.8,926.5 914.7,925.6 916.5,926.1 918.4,926.9 920.3,927.6 922.2,926.9 924.1,927.6 925.9,927.6 927.8,927.6 929.7,927 932.2,925.8 934.7,924.6 937.2,930.3 939.6,934.4 941.8,935.8 944,938.3 946.2,940.7"/>
<polyline points="884.3,944.1 886.1,943.3 887.9,942.6 889.8,942.3 891.6,943 893.5,941.8 895.3,940.6 897.2,941.1 899,941.5 900.9,941.2 902.7,941.3 904.5,940.8 906.4,940.9 908.2,940.7 910.1,941.5 911.9,941.5 913.7,942 915.6,941.9 917.4,942.6 919.2,943.6 921.1,943.1 922.9,943 924.8,943.2 926.7,944.7 928.7,946 930.7,947.3 932.7,948.5 934.7,950 936.9,950.9 939.1,951.8 941.3,952.6 943.2,951.9 945.1,951.6 947,951.1 948.8,950.6 950.7,950 952.6,949.8 954.5,950.3 957.8,938.2 959.5,931.9 962,952.4 964,952.8 966.1,953.7 968.2,955 970.2,955.8 972.3,956.6 974.4,956.4 976.2,955.9 978,956.7 979.9,956.7 981.7,956.2 983.5,956.7 985.4,957.6 987.2,957.3 989,957.6 990.9,958.1 992.8,958.3 994.7,958.9 996.5,959.1 998.4,958.8 1000.3,959.2 1002.2,959.7 1004.1,959 1005.8,983.1 1009.1,1021.5 1011.5,1032.1 1014,1042.4"/>
<polyline points="884.3,1017.1 886.1,1018.3 887.9,1019 889.8,1019.5 891.6,1018.9 893.5,1018.3 895.3,1018.5 897.2,1018.1 899,1018.5 900.9,1018 902.7,1018.3 904.5,1018.7 906.4,1019.6 908.2,1019.8 910.1,1019.9 912,1019.4 914,1020.2 915.9,1020.7 917.8,1020.2 919.7,1021.2 921.6,1021.2 923.5,1021.8 925.4,1021.5 927.3,1021.5 929.2,1022.4 931.1,1021.9 933,1022.2 934.9,1022.3 936.7,1021.2 938.5,1020.5 940.4,1020.8 942.2,1020.2 944,1020.6 945.9,1020.2 947.7,1020.6 949.6,1019.9 951.4,1019 953.2,1018.7 955.1,1019.5 956.9,1019.2 958.7,1018.9 960.6,1018.8 962.4,1019.1 964.2,1019.1 966.1,1018.8 968.6,1014 971,1007.9 973.2,998.1 975.5,984.3 977.7,974.7 979.7,970.6 981.8,963.7 983.9,958.2 985.9,954.9 988,952.8 990.1,948.9 992.1,946.7 994.2,944.8 996.1,945 998,944.1 999.9,943.8 1001.7,944.2 1003.6,943 1005.5,943.1 1007.4,942.5 1009.5,941.9 1011.5,940.3 1013.6,940.2 1015.7,939.9 1017.7,938.9 1019.8,936.8"/>
<polyline points="884.3,1051.2 886.2,1051 888.2,1051.7 890.2,1052 892.1,1051.8 894.1,1052.2 896,1052.8 898,1052.9 900,1053.1 901.8,1053.2 903.6,1053.2 905.5,1053.5 907.3,1053.1 909.1,1051.9 911,1052 912.8,1051.9 914.7,1051.4 916.5,1051 918.6,1059.6 920.6,1071.1 922.7,1082.1 924.8,1090.8 926.6,1091.3 928.4,1090.5 930.3,1089.7 932.1,1090.6 933.9,1091.2 935.8,1090.6 937.6,1090.8 939.5,1090.4 941.3,1091.1 943.1,1090.9 945,1091.2 946.8,1091.2 948.6,1090.5 950.5,1090.4 952.3,1089.7 954.1,1089.2 956,1089.3 957.8,1088.9 960,1087 962.2,1083.1 964.4,1080.6 966.9,1060.8 969.4,1042.1 971.9,1012 974.4,983.1 976.6,975.4 978.8,964.8 981,957.1 983,957.6 985,957 987,956.2 989,957.1 991.1,956.5 993.1,956 995.1,956.1 997.1,956.4 999.1,956.8 1001.2,956.3 1003.3,954.6 1005.3,954.2 1007.4,954.2 1009.6,949.1 1011.8,942.6 1014,937.6 1016.1,938.5 1018.2,940.1 1020.2,941.9 1022.3,941.8 1024.5,942.5 1026.7,944.4 1028.9,945"/>
<polyline points="884.3,973.3 886.2,974 888.2,974.5 890.2,975.6 892.1,977.8 894.1,979.7 896,980.9 898,982.7 900,982.6 901.8,984.9 903.6,986.8 905.5,989.4 907.3,991.8 909.1,995.2 911,998 912.8,999.1 914.7,1000.6 916.5,1002.6 918.4,1006.8 920.4,1013.5 922.3,1020.8 924.2,1027.9 926.1,1032.6 928.1,1037 930,1037.3 931.8,1037.9 933.7,1038.2 935.6,1036.8 937.5,1036.3 939.4,1035.7 941.3,1035.3 943.1,1035.3 945,1036.2 946.8,1037.1 948.6,1037.5 950.5,1038.3 952.3,1038.6 954.1,1037.9 956,1037.9 957.8,1038.7 959.9,1038.5 962,1037.2 964,1036.3 966.1,1035.8 968.2,1040.6 970.2,1047.4 972.3,1054.9 974.4,1060.4 976.4,1063.4 978.5,1068.2 980.5,1073.4 982.6,1076.5 984.7,1078.3 986.7,1081.6 988.8,1084.8 990.9,1086.8 992.9,1087.5 995,1087.8 997.1,1089.2 999.1,1089.6 1001.2,1092.3 1003.3,1096.7 1005.3,1101.6 1007.4,1104.8 1009.6,1110.8 1011.8,1118.4 1014,1123.6 1016.1,1127.5 1018.2,1134.4 1020.2,1141.3 1022.3,1145.1"/>
<polyline points="884.3,953.8 886.2,954 888.2,954.4 890.2,954.1 892.1,953.9 894.1,953.6 896,952.6 898,951.9 900,952 901.8,952.3 903.6,954 905.5,954.6 907.3,957 909.1,958.4 911,959.7 912.8,960.8 914.7,962.3 916.5,962.6 918.3,963.4 920.2,964.3 922,966.5 923.8,968.3 925.7,969.6 927.5,970.7 929.4,972.5 931.2,972.8 933,973.7 935.1,975.1 937.2,977.1 939.2,978.6 941.3,980.6 943.5,981.9 945.7,983.8 947.9,985 949.8,985.3 951.6,985.4 953.5,985 955.3,984.5"/>
<polyline points="884.3,992.8 886.1,993 887.9,992.6 889.8,992 891.6,992.1 893.5,992.2 895.3,990.6 897.2,991 899,990.2 900.9,990 902.7,990.2 904.5,989.8 906.4,989.7 908.2,989.1 910.1,988.4 911.9,989.6 913.7,990.2 915.6,990.2 917.4,990.6 919.2,992.1 921.1,992.9 922.9,993.5 924.8,992.8 926.6,993.6 928.5,995.1 930.4,996.2 932.3,997.4 934.2,999.1 936.1,999.6 938,999.9 940.1,1001.4 942.1,1003.6 944.2,1005.3 946.2,1006.2 948.2,1006.1 950.2,1006.9 952.2,1006.5 954.2,1005.9 956.2,1005.9"/>
<polyline points="884.3,997.6 886.1,997.9 887.9,997.9 889.8,998.2 891.6,998.4 893.5,998.2 895.3,998.7 897.2,999.1 899,999.6 900.9,1000.8 902.7,1001.2 904.5,1001.4 906.4,1002.7 908.2,1002.3 910.1,1003.6 911.9,1004.5 913.7,1005.5 915.6,1006.4 917.4,1007.4 919.2,1008.9 921.1,1009.5 922.9,1010.9 924.8,1011.7 926.7,1015.4 928.7,1022.6 930.7,1029.7 932.7,1035.7 934.7,1041.2 936.9,1046.6 939.1,1054.4 941.3,1060.3 943.4,1063 945.4,1066.9 947.5,1072.3 949.6,1075.3 951.6,1075.8 953.7,1076.4 955.8,1076.6 957.8,1078.4"/>
<polyline points="884.3,983 886.1,983.8 887.9,984.5 889.8,984.3 891.6,984.5 893.5,985.3 895.3,986.9 897.2,987.5 899,988.6 900.9,989.4 902.7,990.2 904.5,990.5 906.4,991.1 908.2,991.1 910.1,992.7 911.9,994.5 913.7,996.2 915.6,998.4 917.4,1001.4 919.2,1002.4 921.1,1004.7 922.9,1006.2 924.8,1008.1 926.6,1009.1 928.4,1009.1 930.3,1010.6 932.1,1012.2 933.9,1012.8 935.8,1014.6 937.6,1015.4 939.5,1016.2 941.3,1016.3 943.2,1018.3 945.1,1021.2 947,1024.5 948.8,1027.6 950.7,1031.2 952.6,1034 954.5,1035.8 956.5,1039.7 958.5,1044.8 960.5,1050.5 962.4,1056.8 964.4,1061.3 966.3,1063.4 968.2,1065.5 970.1,1068.5 972,1072.3 973.9,1075.1 975.8,1077.9 977.7,1078.9"/>
<polyline points="884.3,963.5 886.1,964.3 887.9,964.9 889.8,965.1 891.6,965.9 893.5,966.2 895.3,967.7 897.2,967.9 899,969.9 900.9,970.1 902.7,971.2 904.5,972.9 906.4,973.7 908.2,973 910.1,974.2 911.9,975.9 913.7,977.9 915.6,981.8 917.4,984.8 919.2,987.3 921.1,988.9 922.9,990.3 924.8,992.6 926.6,993.2 928.4,995.4 930.3,998.3 932.1,1001.7 933.9,1004.4 935.8,1006.8 937.6,1009.2 939.5,1011.4 941.3,1011.8 943.4,1015.9 945.4,1022.1 947.5,1027.4 949.6,1031.9 951.6,1036.9 953.7,1044.7 955.8,1052.2 957.8,1055.9 959.8,1060.2 961.8,1066.8 963.8,1073.8 965.8,1080.2 967.7,1084.8 969.7,1088.8 971.7,1094.9 973.7,1101.6 975.7,1107.4 977.7,1110.8 979.9,1112.7 982.1,1113.9 984.3,1115.4 986.3,1113.3 988.2,1110.1 990.2,1106.1 992.2,1103.1 994.2,1100 996,1098.8 997.9,1097.8 999.8,1096.5 1001.6,1094"/>
<polyline points="884.3,1022 886.1,1022.5 887.9,1022.3 889.8,1023.5 891.6,1023 893.5,1022.8 895.3,1023.2 897.2,1024.8 899,1025.3 900.9,1025.1 902.7,1025.5 904.5,1026.5 906.4,1027.2 908.2,1028 910.1,1028.7 911.9,1030.5 913.7,1032 915.6,1033 917.4,1034.4 919.2,1036.6 921.1,1038 922.9,1040.4 924.8,1040.7 926.6,1043.6 928.5,1048.9 930.4,1054.2 932.3,1061 934.2,1066.1 936.1,1071.6 938,1074.4 940.2,1081.4 942.4,1090.9 944.6,1098.2 946.5,1101.6 948.5,1105.1 950.4,1107.2"/>
<polyline points="884.3,1007.4 886.1,1007.2 887.9,1009.2 889.8,1010.5 891.6,1011.8 893.5,1013.6 895.3,1015.1 897.2,1016.1 899,1017.5 900.9,1019 902.7,1020.1 904.5,1020.2 906.4,1021 908.2,1021.3 910.1,1022.9 911.9,1027 913.7,1029.9 915.6,1034.8 917.4,1039.3 919.2,1042.6 921.1,1045.7 922.9,1048.6 924.8,1050.9 926.6,1054.1 928.4,1059.4 930.3,1065.9 932.1,1072.9 933.9,1080.1 935.8,1087.1 937.6,1091.7 939.5,1095.8 941.3,1099.7 943.4,1101.4 945.4,1103.9 947.5,1105.5 949.6,1107 951.4,1107.6 953.2,1106.7 955.1,1106 956.9,1107 958.7,1107 960.6,1107.4 962.4,1106.9 964.2,1107.1 966.1,1107.3 967.9,1107.4 969.8,1106.8 971.6,1106.6 973.4,1106.4 975.3,1105.9 977.1,1105.9 978.9,1105 980.8,1105.3 982.6,1104.8 984.7,1104.1 986.7,1104 988.8,1103.9 990.9,1103.5 992.8,1104.1 994.7,1105.9 996.7,1107.1 998.6,1108.7 1000.5,1110.2 1002.5,1110.1 1004.4,1110.7 1006.3,1111.5 1008.2,1112.7 1010.2,1113.8 1012.1,1113.6 1014,1113.9 1016,1113.8 1018,1113.2 1020,1112.4 1022,1112.3 1023.9,1113 1025.8,1111.5 1027.7,1111.5 1029.6,1110.4 1031.5,1109.2 1033.4,1108.7 1035.3,1107.1 1037.2,1106.5 1039.2,1103.9 1041.3,1101.1 1043.4,1096.9 1045.4,1095 1047.9,1077.7 1050.4,1060.3 1052.3,1052.9 1054.2,1042.4 1056.2,1034.1"/>
<polyline points="884.3,1036.6 886.1,1036.2 887.9,1037.1 889.8,1037.8 891.6,1038.5 893.5,1040 895.3,1041.7 897.2,1043.1 899,1043.5 900.9,1044 902.7,1043.9 904.5,1044.6 906.4,1044.8 908.2,1044.7 910.1,1047.7 911.9,1051.6 913.7,1056 915.6,1060.9 917.4,1065.2 919.2,1069.8 921.1,1074.8 922.9,1077.3 924.8,1079.9 926.6,1084 928.5,1090.4 930.4,1097.8 932.3,1105.6 934.2,1113.9 936.1,1120.7 938,1124.4 940.2,1127 942.4,1130.9 944.6,1132.6 946.8,1130.4 949,1127.6 951.2,1126.3 953.4,1120.6 955.6,1111.1 957.8,1105.1 959.9,1100.7 962,1094.6 964,1089.3 966.1,1086.2 968.2,1088.7 970.2,1092.4 972.3,1096.6 974.4,1098.8 976.3,1109.7 978.2,1123.3 980.1,1133.9"/>
<polyline points="884.3,1060.9 886.1,1061.4 887.9,1062.1 889.8,1062.2 891.6,1062.3 893.5,1062 895.3,1062.5 897.2,1063.1 899,1063.4 900.9,1063.8 902.7,1064.6 904.5,1065.5 906.4,1065.4 908.2,1065.9 910.1,1068.8 911.9,1072 913.7,1075.5 915.6,1078.8 917.4,1082.4 919.2,1086.4 921.1,1089.4 922.9,1092.8 924.8,1095.2 926.7,1099.1 928.7,1105.4 930.7,1113 932.7,1118.9 934.7,1124.4 936.9,1127.2 939.1,1130.5 941.3,1132.9 943.4,1132.7 945.4,1130.8 947.5,1129.5 949.6,1127.9 951.8,1125.7 954,1121.6 956.2,1118.6 958.6,1125.3 961.1,1133.3 963.6,1138.8 966.1,1144.1"/>
<polyline points="884.3,934.3 886.1,935.1 887.9,934.6 889.8,935.7 891.6,936.5 893.5,935.9 895.3,936.4 897.2,936.5 899,937.4 900.9,938.3 902.7,938.8 904.5,938.2 906.4,939.2 908.2,938.6 910.1,941.5 912,946.4 913.9,952.9 915.8,958.6 917.7,963.9 919.6,968.9 921.5,973.1 923.5,981.9 925.6,994.2 927.7,1007.3 929.7,1017.1 931.7,1020.6 933.7,1024.5 935.7,1030.1 937.7,1035.1 939.6,1037.8 941.6,1037.9 943.6,1037.5 945.6,1038 947.6,1037.4 949.6,1036.6"/>
<polyline points="884.3,948.9 886.1,949.2 887.9,949.5 889.8,949.3 891.6,949.8 893.5,950.1 895.3,950.6 897.2,950.7 899,952.1 900.9,953.2 902.7,952.8 904.5,952.6 906.4,954 908.2,953.4 910.1,955.1 911.9,957.1 913.7,960 915.6,963.8 917.4,968 919.2,970.7 921.1,973.4 922.9,976.1 924.8,978.3 926.7,982.9 928.7,988.6 930.7,996.1 932.7,1003.2 934.7,1006.7 936.7,1009 938.8,1014.3 940.9,1019.3 942.9,1021.8 945.1,1018.8 947.4,1014.5 949.6,1011.3"/>
<polyline points="884.3,1070.6 886.1,1070.3 888,1070 889.8,1069.6 891.7,1068.8 894.2,1065.1 896.7,1060.6 898.9,1049.8 901.1,1033 903.3,1022.1 905.8,1002.8 908.2,983.9 910.7,969.4 913.2,953.6 915.4,951.1 917.6,946.5 919.8,942.9 922.3,957.5 924.8,973 927.2,997.6 929.7,1022.5 932.2,1047.1 934.7,1071.5 937.2,1096.2 939.6,1119.8 942.9,1143.7"/>
</g><g fill="#3d3d3d">
<circle cx="941.9" cy="1145.5" r="3.3"/>
<circle cx="917.7" cy="1145.8" r="3.3"/>
<circle cx="900.7" cy="1009" r="3.3"/>
<circle cx="910.3" cy="1041.3" r="3.3"/>
<circle cx="935.2" cy="1088.6" r="3.3"/>
<circle cx="932.5" cy="1063.9" r="3.3"/>
<circle cx="918.4" cy="1145.8" r="3.3"/>
<circle cx="933.7" cy="1145.3" r="3.3"/>
<circle cx="942.2" cy="1145.4" r="3.3"/>
<circle cx="915.7" cy="1108.2" r="3.3"/>
<circle cx="906.3" cy="950" r="3.3"/>
<circle cx="934.6" cy="1146.2" r="3.3"/>
<circle cx="901.4" cy="1047.7" r="3.3"/>
<circle cx="936.9" cy="1146.3" r="3.3"/>
<circle cx="917.9" cy="1145.9" r="3.3"/>
<circle cx="898.8" cy="948.7" r="3.3"/>
<circle cx="916.6" cy="1145.4" r="3.3"/>
<circle cx="902.7" cy="969.5" r="3.3"/>
<circle cx="939.7" cy="1100.7" r="3.3"/>
<circle cx="927.9" cy="954.9" r="3.3"/>
<circle cx="931.2" cy="1101.8" r="3.3"/>
<circle cx="926.1" cy="1145.1" r="3.3"/>
<circle cx="938.2" cy="1145.3" r="3.3"/>
<circle cx="916" cy="1146.2" r="3.3"/>
<circle cx="929.6" cy="1128.4" r="3.3"/>
<circle cx="929.4" cy="1145" r="3.3"/>
<circle cx="942.1" cy="1145" r="3.3"/>
<circle cx="913.3" cy="972.4" r="3.3"/>
<circle cx="923.6" cy="1125.2" r="3.3"/>
<circle cx="941.7" cy="1145.3" r="3.3"/>
<circle cx="923.5" cy="965.9" r="3.3"/>
<circle cx="915.3" cy="1070.8" r="3.3"/>
<circle cx="911.1" cy="1073.7" r="3.3"/>
<circle cx="917.7" cy="1005.6" r="3.3"/>
<circle cx="914.2" cy="1108.3" r="3.3"/>
<circle cx="933.3" cy="1124.7" r="3.3"/>
<circle cx="946.2" cy="940.7" r="3.3"/>
<circle cx="1014" cy="1042.4" r="3.3"/>
<circle cx="1019.8" cy="936.8" r="3.3"/>
<circle cx="1028.9" cy="945" r="3.3"/>
<circle cx="1022.3" cy="1145.1" r="3.3"/>
<circle cx="955.3" cy="984.5" r="3.3"/>
<circle cx="956.2" cy="1005.9" r="3.3"/>
<circle cx="957.8" cy="1078.4" r="3.3"/>
<circle cx="977.7" cy="1078.9" r="3.3"/>
<circle cx="1001.6" cy="1094" r="3.3"/>
<circle cx="950.4" cy="1107.2" r="3.3"/>
<circle cx="1056.2" cy="1034.1" r="3.3"/>
<circle cx="980.1" cy="1133.9" r="3.3"/>
<circle cx="966.1" cy="1144.1" r="3.3"/>
<circle cx="949.6" cy="1036.6" r="3.3"/>
<circle cx="949.6" cy="1011.3" r="3.3"/>
<circle cx="942.9" cy="1143.7" r="3.3"/>
</g>
<path d="M883.9,923.9L883.9,1168.7" stroke="#2b2b2b" stroke-width="1.5" />
<path d="M873.8,1168L1057.7,1168" stroke="#2b2b2b" stroke-width="1.5" />
<path d="M873.4,1168L883.9,1168" stroke="#2b2b2b" stroke-width="1.5" />
<text transform="translate(847.2,1176.3) scale(1.015,1)" font-size="23.2">0</text>
<path d="M873.4,1143.7L883.9,1143.7" stroke="#2b2b2b" stroke-width="1.5" />
<path d="M873.4,1119.3L883.9,1119.3" stroke="#2b2b2b" stroke-width="1.5" />
<text transform="translate(833.9,1127.6) scale(1.029,1)" font-size="23.2">10</text>
<path d="M873.4,1095L883.9,1095" stroke="#2b2b2b" stroke-width="1.5" />
<path d="M873.4,1070.6L883.9,1070.6" stroke="#2b2b2b" stroke-width="1.5" />
<text transform="translate(833.9,1078.9) scale(1.029,1)" font-size="23.2">20</text>
<path d="M873.4,1046.3L883.9,1046.3" stroke="#2b2b2b" stroke-width="1.5" />
<path d="M873.4,1022L883.9,1022" stroke="#2b2b2b" stroke-width="1.5" />
<text transform="translate(833.9,1030.3) scale(1.029,1)" font-size="23.2">30</text>
<path d="M873.4,997.6L883.9,997.6" stroke="#2b2b2b" stroke-width="1.5" />
<path d="M873.4,973.3L883.9,973.3" stroke="#2b2b2b" stroke-width="1.5" />
<text transform="translate(833.9,981.6) scale(1.029,1)" font-size="23.2">40</text>
<path d="M873.4,948.9L883.9,948.9" stroke="#2b2b2b" stroke-width="1.5" />
<path d="M873.4,924.6L883.9,924.6" stroke="#2b2b2b" stroke-width="1.5" />
<text transform="translate(833.9,932.9) scale(1.029,1)" font-size="23.2">50</text>
<path d="M891.7,1168L891.7,1177.5" stroke="#2b2b2b" stroke-width="1.5" />
<text transform="translate(885.1,1205.8) scale(1.015,1)" font-size="23.2">0</text>
<path d="M924.8,1168L924.8,1177.5" stroke="#2b2b2b" stroke-width="1.5" />
<text transform="translate(918.2,1205.8) scale(1.015,1)" font-size="23.2">2</text>
<path d="M957.8,1168L957.8,1177.5" stroke="#2b2b2b" stroke-width="1.5" />
<text transform="translate(951.2,1205.8) scale(1.015,1)" font-size="23.2">4</text>
<path d="M990.9,1168L990.9,1177.5" stroke="#2b2b2b" stroke-width="1.5" />
<text transform="translate(984.3,1205.8) scale(1.015,1)" font-size="23.2">6</text>
<path d="M1023.9,1168L1023.9,1177.5" stroke="#2b2b2b" stroke-width="1.5" />
<text transform="translate(1017.3,1205.8) scale(1.015,1)" font-size="23.2">8</text>
<path d="M1057,1168L1057,1177.5" stroke="#2b2b2b" stroke-width="1.5" />
<text transform="translate(1043.2,1205.8) scale(0.951,1)" font-size="23.2">10</text>
<text transform="translate(777.5,1043.8) rotate(-90) scale(1.080,1)" x="-120" font-size="26.5">Distance to previous</text>
<text transform="translate(809.2,1045) rotate(-90) scale(1.098,1)" x="-119.2" font-size="26.5">shelter location (cm)</text>
<text transform="translate(820.7,881.5) scale(1.084,1)" font-size="26">NAcShelter::ChrimsonR</text>
<rect x="882.7" y="893.0" width="183.6" height="20.0" fill="#000"/>
<text transform="translate(948.5,908.6) scale(1.060,1)" font-size="16" fill="#f2f2f2">dPAG</text>
<text transform="translate(811.4,1242.7) scale(1.088,1)" font-size="26.5">Time from flight onset (s)</text>
<rect x="885.8" y="1557.4" width="172.2" height="24.3" fill="#c8c8c8"/>
<g fill="none" stroke="#f3b04f" stroke-width="1.0" stroke-linejoin="round">
<polyline points="886.1,1382.3 888,1382.3 889.9,1382.1 891.9,1382.4 893.9,1390.8 895.9,1406.7 897.8,1425.2 899.8,1446.4 901.8,1467.2 903.8,1488.2 905.7,1509.5 907.7,1529.5 909.7,1547 911.6,1560.9"/>
<polyline points="886.1,1460.9 888,1461.5 889.9,1461.9 891.9,1461.3 893.9,1460.8 895.9,1460.6 897.8,1460.3 899.8,1460.8 901.8,1461.7 903.8,1466.6 905.7,1471 907.7,1477.1 909.7,1482.8 911.7,1488.3 913.6,1494.3 915.6,1501.6 917.6,1508.8 919.6,1515.1 921.5,1521.3 923.5,1527.4 925.5,1534.7 927.5,1540.4 929.4,1546.5 931.4,1551 933.4,1555.9 934.6,1557.7"/>
<polyline points="886.1,1347.7 888,1354.9 889.9,1376.3 891.9,1401.5 893.9,1430.3 895.9,1459.4 897.8,1488.9 899.8,1516 901.8,1539.6 903.8,1560 904,1561.5"/>
<polyline points="886.1,1347.2 888,1347.5 889.9,1346.9 891.9,1347.7 893.9,1347.7 895.9,1347.3 897.8,1346.9 899.8,1347.1 901.8,1347.2 903.8,1353.4 905.7,1365.3 907.7,1380.1 909.7,1395 911.7,1411.9 913.6,1429.7 915.6,1447.9 917.6,1465 919.6,1482.5 921.5,1500.1 923.5,1516.5 925.5,1532.7 927.5,1547.1 929.4,1559.5 930.7,1566"/>
<polyline points="886.1,1344.3 888,1344.2 889.9,1344.2 891.9,1344.4 893.9,1349.5 895.9,1362.4 897.8,1378 899.8,1394.1 901.8,1412.3 903.8,1430.3 905.7,1449.3 907.7,1467.7 909.7,1486.7 911.7,1505.6 913.6,1523 915.6,1538.4 917.6,1551.9 919.6,1564.6 919.7,1564.3"/>
<polyline points="886.1,1352.2 888,1352.1 889.9,1351.5 891.9,1366 893.9,1388.4 895.9,1412.7 897.8,1440.1 899.8,1468 901.8,1495.8 903.8,1520.7 905.7,1543.3 907.7,1562.4 907.9,1564.5"/>
<polyline points="886.1,1372.3 888,1372.9 889.9,1372.6 891.9,1372.3 893.9,1371.9 895.9,1372.2 897.8,1373 899.8,1373.6 901.8,1373.3 903.8,1381.5 905.7,1390.5 907.7,1401.6 909.7,1412.4 911.7,1425.1 913.6,1438.5 915.6,1451.9 917.6,1465.1 919.6,1478.3 921.5,1491.7 923.5,1505.1 925.5,1517.4 927.5,1528.5 929.4,1539.6 931.4,1549 933.4,1558.8 934.3,1561.6"/>
<polyline points="886.1,1373.2 888,1372.8 889.9,1372.7 891.9,1373 893.9,1372.5 895.9,1372.2 897.8,1372.9 899.8,1381.3 901.8,1392.8 903.8,1405.6 905.7,1419.4 907.7,1435 909.7,1450.2 911.7,1466.1 913.6,1481.3 915.6,1497.2 917.6,1511.6 919.6,1525.3 921.5,1538.1 923.5,1548.9 925.2,1558.1"/>
<polyline points="886.1,1343.7 888,1343.4 889.9,1343.8 891.9,1344.3 893.9,1344.2 895.9,1343.9 897.8,1343.7 899.8,1344.2 901.8,1346.4 903.8,1360.4 905.7,1376.3 907.7,1395.3 909.7,1414.3 911.7,1434.9 913.6,1455.5 915.6,1476.2 917.6,1496.7 919.6,1517.2 921.5,1535.4 923.5,1551.7 925.5,1564.4 925.5,1565"/>
<polyline points="886.1,1357.5 888,1358 889.9,1377.1 891.9,1399.8 893.9,1426.4 895.9,1453.7 897.8,1482.7 899.8,1510.4 901.8,1534.2 903.8,1554.2 904.5,1560.9"/>
<polyline points="886.1,1357.5 888,1363.1 889.9,1381.7 891.9,1404.7 893.9,1430.9 895.9,1458.5 897.8,1485.6 899.8,1511.5 901.8,1534 903.8,1552.6 904.5,1558.2"/>
<polyline points="886.1,1367.2 888,1367.3 889.9,1367.4 891.9,1367 893.9,1366.9 895.9,1367.1 897.8,1366.4 899.8,1366.6 901.8,1367 903.8,1367.2 905.7,1367.7 907.7,1374.9 909.7,1383.3 911.7,1392.8 913.6,1403.5 915.6,1414.5 917.6,1426.1 919.6,1438.2 921.5,1450.1 923.5,1462.6 925.5,1474.3 927.5,1486.2 929.4,1498.6 931.4,1509.8 933.4,1521 935.4,1531.3 937.3,1540.6 939.3,1548.8 941.3,1555.9 941.6,1556.8"/>
<polyline points="886.1,1352.8 888,1353.2 889.9,1352.7 891.9,1352.3 893.9,1352 895.9,1352.2 897.8,1352.4 899.8,1353.2 901.8,1352.5 903.8,1356.8 905.7,1377.2 907.7,1400.8 909.7,1428.6 911.7,1458 913.6,1486.8 915.6,1513.6 917.6,1537.7 919.6,1557 919.9,1559.9"/>
<polyline points="886.1,1368.4 888,1367.7 889.9,1368.3 891.9,1367.6 893.9,1367.7 895.9,1367.4 897.8,1367.2 899.8,1369.7 901.8,1378.2 903.8,1387.5 905.7,1396.9 907.7,1408.3 909.7,1419.8 911.7,1431.5 913.6,1444.3 915.6,1456.4 917.6,1470.1 919.6,1483.2 921.5,1495.6 923.5,1507.8 925.5,1518.8 927.5,1530.5 929.4,1541.3 931.4,1550.2 933.4,1558 934.2,1561.7"/>
<polyline points="886.1,1356.6 888,1361.6 889.9,1378.9 891.9,1399.2 893.9,1421.4 895.9,1444.7 897.8,1469.6 899.8,1494.1 901.8,1516.3 903.8,1536.8 905.7,1553.4 906.5,1558.2"/>
<polyline points="886.1,1365.5 888,1365.3 889.9,1372.2 891.9,1381.8 893.9,1391.9 895.9,1403 897.8,1416.3 899.8,1429.5 901.8,1442.2 903.8,1455.6 905.7,1468.8 907.7,1483.2 909.7,1496.6 911.7,1508.9 913.6,1521.4 915.6,1532.9 917.6,1543.1 919.6,1553.4 921.5,1562.4 921.6,1561.8"/>
<polyline points="886.1,1459.1 888,1459.2 889.9,1459.7 891.9,1458.9 893.9,1459.3 895.9,1459.2 897.8,1458.8 899.8,1459.1 901.8,1461.3 903.8,1468 905.7,1476.3 907.7,1485.6 909.7,1495.3 911.7,1505.2 913.6,1516.1 915.6,1526.1 917.6,1535.4 919.6,1544.6 921.5,1552.2 923.5,1559.6"/>
<polyline points="886.1,1368.7 888,1368.6 889.9,1368.7 891.9,1368.7 893.9,1369.1 895.9,1369.8 897.8,1377.8 899.8,1387 901.8,1398 903.8,1409.3 905.7,1421.8 907.7,1435.1 909.7,1448.9 911.7,1462.2 913.6,1476.8 915.6,1489.8 917.6,1503.6 919.6,1515.9 921.5,1528.3 923.5,1539.5 925.5,1549.9 927.5,1557.9 927.8,1559.1"/>
<polyline points="886.1,1358.4 888,1359.2 889.9,1358.6 891.9,1359 893.9,1359.5 895.9,1359.9 897.8,1359 899.8,1358.6 901.8,1367.1 903.8,1381.9 905.7,1398.8 907.7,1418.5 909.7,1438.2 911.7,1458.6 913.6,1478.8 915.6,1499.8 917.6,1518.6 919.6,1535.7 921.5,1550 922.7,1557.9"/>
<polyline points="886.1,1352.8 888,1351.9 889.9,1352.2 891.9,1352.3 893.9,1352.5 895.9,1360.7 897.8,1373.4 899.8,1387.5 901.8,1404 903.8,1420.3 905.7,1437.4 907.7,1455.3 909.7,1473.8 911.7,1491.6 913.6,1508.4 915.6,1524.7 917.6,1538 919.6,1550.7 921,1557.6"/>
<polyline points="886.1,1352.1 888,1352.4 889.9,1355.6 891.9,1365.7 893.9,1377.3 895.9,1389.5 897.8,1402.3 899.8,1416.9 901.8,1431.9 903.8,1447.8 905.7,1463 907.7,1478.6 909.7,1493.7 911.7,1509.1 913.6,1523 915.6,1536.4 917.6,1547.9 919.6,1557.7 920.7,1562.2"/>
<polyline points="886.1,1342.9 888,1343.5 889.9,1343.6 891.9,1343.3 893.9,1343.4 895.9,1343.1 897.8,1343 899.8,1343.4 901.8,1349.7 903.8,1369 905.7,1392.6 907.7,1418.5 909.7,1445.7 911.7,1473.4 913.6,1500.7 915.6,1525.2 917.6,1545.8 919.1,1559"/>
<polyline points="886.1,1342 888,1342.2 889.9,1342.5 891.9,1349.2 893.9,1359.1 895.9,1369.2 897.8,1380 899.8,1392.1 901.8,1404.6 903.8,1417.2 905.7,1430.7 907.7,1444.9 909.7,1458.6 911.7,1472.6 913.6,1485.5 915.6,1498.9 917.6,1511.1 919.6,1522.6 921.5,1533.4 923.5,1543.3 925.5,1553.2 927.1,1560.3"/>
<polyline points="886.1,1362.7 888,1362.3 889.9,1361.8 891.9,1361.3 893.9,1363.3 895.9,1374.2 897.8,1387.4 899.8,1402 901.8,1418.9 903.8,1436 905.7,1453.5 907.7,1470.6 909.7,1488.1 911.7,1505.6 913.6,1521.7 915.6,1535.5 917.6,1547.7 919.4,1557.9"/>
<polyline points="886.1,1344.2 888,1343.9 889.9,1344.3 891.9,1344.9 893.9,1344.4 895.9,1344.8 897.8,1344.1 899.8,1344.8 901.8,1347.4 903.8,1356.9 905.7,1366.7 907.7,1378 909.7,1390.2 911.7,1402.3 913.6,1415.1 915.6,1429.2 917.6,1442.8 919.6,1457.1 921.5,1470.2 923.5,1483.8 925.5,1497.4 927.5,1510.6 929.4,1523.7 931.4,1535.5 933.4,1546.6 935.4,1555.6 937.3,1563.7 937.7,1564.9"/>
<polyline points="886.1,1369.1 888,1369 889.9,1368.5 891.9,1369.2 893.9,1369.3 895.9,1368.8 897.8,1370.5 899.8,1379.5 901.8,1391.6 903.8,1404.8 905.7,1418.4 907.7,1432.8 909.7,1447.9 911.7,1463.4 913.6,1478.6 915.6,1493 917.6,1507 919.6,1520.9 921.5,1534.3 923.5,1545.7 925.5,1556.3 926.2,1559.8"/>
<polyline points="886.1,1354.3 888,1354.7 889.9,1353.9 891.9,1360.9 893.9,1371.4 895.9,1383 897.8,1394.2 899.8,1407.7 901.8,1420.8 903.8,1434.5 905.7,1448.8 907.7,1463.4 909.7,1478 911.7,1492.5 913.6,1506 915.6,1519.6 917.6,1531.9 919.6,1543.6 921.5,1554 923.5,1562.3 924,1564"/>
<polyline points="886.1,1359.8 888,1364.5 889.9,1373.3 891.9,1383.3 893.9,1395.5 895.9,1408.5 897.8,1421.7 899.8,1435.9 901.8,1449.8 903.8,1464.1 905.7,1478.4 907.7,1491.7 909.7,1505.4 911.7,1517.6 913.6,1528.7 915.6,1539.3 917.6,1549.9 919.6,1557.9 919.7,1558.9"/>
<polyline points="886.1,1359.9 888,1360.5 889.9,1361 891.9,1361.3 893.9,1361.7 895.9,1360.8 897.8,1367.6 899.8,1375.7 901.8,1385.4 903.8,1395.6 905.7,1406 907.7,1417.4 909.7,1429.8 911.7,1441.7 913.6,1454.7 915.6,1467.9 917.6,1479.8 919.6,1491.6 921.5,1503.3 923.5,1514.9 925.5,1525.5 927.5,1535.7 929.4,1545.6 931.4,1555.1 933.4,1562.7 933.6,1563.4"/>
<polyline points="886.1,1364.8 888,1364.8 889.9,1366 891.9,1372.6 893.9,1381 895.9,1390.3 897.8,1400.8 899.8,1411.5 901.8,1422.9 903.8,1435 905.7,1446.4 907.7,1458.7 909.7,1471 911.7,1483.1 913.6,1494.7 915.6,1506.2 917.6,1516.9 919.6,1527.7 921.5,1537.8 923.5,1547 925.5,1554.8 927.3,1560.4"/>
<polyline points="886.1,1410 888,1409.5 889.9,1413 891.9,1424.1 893.9,1437.1 895.9,1452.2 897.8,1468.6 899.8,1485.6 901.8,1502.6 903.8,1519.1 905.7,1534.4 907.7,1547.1 909.7,1558.2 910.5,1562.9"/>
<polyline points="886.1,1380.8 888,1380.5 889.9,1381.1 891.9,1380.8 893.9,1380.9 895.9,1382.5 897.8,1394.3 899.8,1407.9 901.8,1423.2 903.8,1439.8 905.7,1456.2 907.7,1474 909.7,1492 911.7,1509.5 913.6,1525.8 915.6,1540.1 917.6,1552.5 918.9,1559.6"/>
<polyline points="886.1,1412.3 888,1412.9 889.9,1412.9 891.9,1412.9 893.9,1418.9 895.9,1426.2 897.8,1435.3 899.8,1444.1 901.8,1453.3 903.8,1463.9 905.7,1474.5 907.7,1485.5 909.7,1496.8 911.7,1507.8 913.6,1517.4 915.6,1526.7 917.6,1536 919.6,1544.7 921.5,1553.1 923.2,1558.6"/>
<polyline points="886.1,1351.5 888,1351 889.9,1351.9 891.9,1352.2 893.9,1352.2 895.9,1359.5 897.8,1373.5 899.8,1389.1 901.8,1407.3 903.8,1426.6 905.7,1446.8 907.7,1466.7 909.7,1486.4 911.7,1505.9 913.6,1524.2 915.6,1539.4 917.6,1552.5 918.4,1557.5"/>
<polyline points="886.1,1352.3 888,1352.7 889.9,1352.1 891.9,1351.5 893.9,1351.9 895.9,1352.6 897.8,1352.8 899.8,1352.6 901.8,1351.9 903.8,1353.9 905.7,1369.2 907.7,1389.2 909.7,1411.6 911.7,1434.9 913.6,1458.8 915.6,1483 917.6,1507.3 919.6,1529.9 921.5,1548.4 923.5,1564.1"/>
<polyline points="886.1,1357.5 888,1357.8 889.9,1357.1 891.9,1357.9 893.9,1358 895.9,1357.6 897.8,1357.3 899.8,1358 901.8,1358.4 903.8,1358.6 905.7,1361.4 907.7,1370.2 909.7,1381.1 911.7,1391.8 913.6,1404.2 915.6,1417.1 917.6,1431.1 919.6,1444.7 921.5,1459.7 923.5,1473.4 925.5,1488.1 927.5,1501.9 929.4,1515.1 931.4,1527.4 933.4,1539.2 935.4,1549.5 937.3,1559.7 938.3,1563.6"/>
<polyline points="886.1,1413.3 888,1414.1 889.9,1419.8 891.9,1427.3 893.9,1435.2 895.9,1444.7 897.8,1454.9 899.8,1464.9 901.8,1475.5 903.8,1486.7 905.7,1496.8 907.7,1507 909.7,1517 911.7,1527 913.6,1537.2 915.6,1546.5 917.6,1554.7 919.6,1562 920.1,1563.1"/>
<polyline points="886.1,1352.7 888,1351.9 889.9,1352.6 891.9,1352.8 893.9,1352.5 895.9,1352.6 897.8,1354.8 899.8,1368.1 901.8,1382.2 903.8,1399 905.7,1418 907.7,1437.3 909.7,1457.4 911.7,1477.6 913.6,1496 915.6,1514.4 917.6,1532.3 919.6,1548 921.5,1560.6 922.3,1564.4"/>
<polyline points="886.1,1340.8 888,1340.6 889.9,1349.1 891.9,1363.6 893.9,1379.8 895.9,1396.8 897.8,1415.3 899.8,1434.6 901.8,1455.5 903.8,1474.6 905.7,1494.4 907.7,1513 909.7,1530.4 911.7,1545 913.6,1557.8 914.1,1560.5"/>
<polyline points="886.1,1397.8 888,1397.6 889.9,1398 891.9,1397.7 893.9,1397 895.9,1407.3 897.8,1422.3 899.8,1439.2 901.8,1456.4 903.8,1474.5 905.7,1493.4 907.7,1512.2 909.7,1529.7 911.7,1544.9 913.6,1557.2 914,1559.4"/>
<polyline points="886.1,1458.2 888,1458.1 889.9,1459 891.9,1458.6 893.9,1459.1 895.9,1464.6 897.8,1470.6 899.8,1476.8 901.8,1484.2 903.8,1492.3 905.7,1499.9 907.7,1508.4 909.7,1516.6 911.7,1525.1 913.6,1532.9 915.6,1540.4 917.6,1547.9 919.6,1554.6 921.5,1560.9 922.8,1563.9"/>
<polyline points="886.1,1373.7 888,1374.5 889.9,1373.8 891.9,1373.9 893.9,1374.4 895.9,1374.8 897.8,1373.9 899.8,1373.9 901.8,1373.9 903.8,1374.1 905.7,1373.8 907.7,1377.1 909.7,1385.4 911.7,1394.7 913.6,1404.2 915.6,1414.9 917.6,1426.3 919.6,1438.9 921.5,1450.9 923.5,1462.5 925.5,1474.7 927.5,1487.6 929.4,1499.6 931.4,1512 933.4,1522.8 935.4,1533.2 937.3,1543.5 939.3,1553 941.3,1560.6 942.3,1564.7"/>
<polyline points="886.1,1358.1 887.9,1358.5 889.9,1358.1 891.9,1356.8 893.8,1356.2 895.8,1354.8 897.7,1353.7 899.7,1352.7 901.6,1353.2 903.7,1350 905.7,1347.2 907.8,1344 909.9,1340.8 911.8,1341.3 913.8,1342 915.8,1342.7 917.8,1343.6 919.7,1343.6 921.9,1346 924.1,1349.2 926.3,1352 928.8,1359.9 931.3,1366.8 933.7,1374.1 936.2,1382.2 939.5,1405.7 942.8,1445.2 946.1,1475.2 948.5,1491.3 951,1507.8 953.5,1524.5 955.9,1541.4 958.1,1546.1 960.3,1551.2 962.5,1555.7 964.4,1556.1 966.2,1557.3 968.1,1557.5 969.9,1557.4"/>
<polyline points="926.3,1516.1 928.5,1514.4 930.7,1512 932.9,1509.2 935.4,1497.9 937.8,1485.9 940.3,1462.1 942.8,1437.7 945.2,1412 947.7,1387 951,1353.2 954.3,1338.7"/>
<polyline points="926.3,1491.8 928.4,1493 930.4,1492.7 932.5,1492.6 934.5,1492.3 936.6,1492 938.7,1491.5 940.7,1491.8 942.8,1491.7 944.6,1492.3 946.4,1492.8 948.3,1491.9 950.1,1492.2 951.9,1492.2 953.8,1491.4 955.6,1491.5 957.4,1491.8 959.2,1491.8 961.1,1492.1 963,1492.2 964.9,1492.1 966.8,1492.1 968.6,1492.2 970.5,1492.9 972.4,1492.9 975.7,1499.8 979,1517.4 981.5,1515.5 983.9,1513.4 986.4,1510.4 988.9,1506.9 992.2,1515.4 995.5,1519.8 997.6,1519.3 999.8,1517.9 1002,1517.8 1004.2,1516 1006.4,1515.4 1008.6,1514.6 1011.1,1507.3 1013.6,1498.9 1016,1492.4 1018.5,1484.5"/>
<polyline points="942.8,1547.7 946.1,1522.5 949.4,1465.2 952.7,1420.6 954.3,1404.8"/>
<polyline points="926.3,1513.7 928.8,1511 931.3,1508.8 933.7,1503.8 936.2,1498.1 938.7,1496.5 941.1,1493.5 943.3,1490.5 945.5,1486.5 947.7,1484 949.9,1477.7 952.1,1467.1 954.3,1460.6 956.8,1448.8 959.2,1437 961.3,1434 963.4,1427.5 965.4,1422.4 967.5,1418.9 969.5,1416.5 971.6,1412.5 973.6,1408 975.7,1405.7 977.8,1403.2 979.8,1400.1 981.9,1395.9 983.9,1392.7 986,1390.9 988,1388.6 990.1,1384.5 992.2,1381.9 994.2,1378.4 996.3,1375.3 998.3,1370.2 1000.4,1367.2 1002.4,1364 1004.5,1360.7 1006.6,1355.8 1008.6,1353.2 1010.5,1351.2 1012.5,1347.7 1014.4,1344.5"/>
<polyline points="932.9,1557.4 935.1,1557.9 937.3,1556.7 939.5,1556.7 942,1555.8 944.4,1555.9 946.5,1553.4 948.5,1551.1"/>
</g><g fill="#f3b04f">
<circle cx="911.6" cy="1560.9" r="3.3"/>
<circle cx="934.6" cy="1557.7" r="3.3"/>
<circle cx="904" cy="1561.5" r="3.3"/>
<circle cx="930.7" cy="1566" r="3.3"/>
<circle cx="919.7" cy="1564.3" r="3.3"/>
<circle cx="907.9" cy="1564.5" r="3.3"/>
<circle cx="934.3" cy="1561.6" r="3.3"/>
<circle cx="925.2" cy="1558.1" r="3.3"/>
<circle cx="925.5" cy="1565" r="3.3"/>
<circle cx="904.5" cy="1560.9" r="3.3"/>
<circle cx="904.5" cy="1558.2" r="3.3"/>
<circle cx="941.6" cy="1556.8" r="3.3"/>
<circle cx="919.9" cy="1559.9" r="3.3"/>
<circle cx="934.2" cy="1561.7" r="3.3"/>
<circle cx="906.5" cy="1558.2" r="3.3"/>
<circle cx="921.6" cy="1561.8" r="3.3"/>
<circle cx="923.5" cy="1559.6" r="3.3"/>
<circle cx="927.8" cy="1559.1" r="3.3"/>
<circle cx="922.7" cy="1557.9" r="3.3"/>
<circle cx="921" cy="1557.6" r="3.3"/>
<circle cx="920.7" cy="1562.2" r="3.3"/>
<circle cx="919.1" cy="1559" r="3.3"/>
<circle cx="927.1" cy="1560.3" r="3.3"/>
<circle cx="919.4" cy="1557.9" r="3.3"/>
<circle cx="937.7" cy="1564.9" r="3.3"/>
<circle cx="926.2" cy="1559.8" r="3.3"/>
<circle cx="924" cy="1564" r="3.3"/>
<circle cx="919.7" cy="1558.9" r="3.3"/>
<circle cx="933.6" cy="1563.4" r="3.3"/>
<circle cx="927.3" cy="1560.4" r="3.3"/>
<circle cx="910.5" cy="1562.9" r="3.3"/>
<circle cx="918.9" cy="1559.6" r="3.3"/>
<circle cx="923.2" cy="1558.6" r="3.3"/>
<circle cx="918.4" cy="1557.5" r="3.3"/>
<circle cx="923.5" cy="1564.1" r="3.3"/>
<circle cx="938.3" cy="1563.6" r="3.3"/>
<circle cx="920.1" cy="1563.1" r="3.3"/>
<circle cx="922.3" cy="1564.4" r="3.3"/>
<circle cx="914.1" cy="1560.5" r="3.3"/>
<circle cx="914" cy="1559.4" r="3.3"/>
<circle cx="922.8" cy="1563.9" r="3.3"/>
<circle cx="942.3" cy="1564.7" r="3.3"/>
<circle cx="969.9" cy="1557.4" r="3.3"/>
<circle cx="1018.5" cy="1484.5" r="3.3"/>
<circle cx="954.3" cy="1404.8" r="3.3"/>
<circle cx="1014.4" cy="1344.5" r="3.3"/>
<circle cx="948.5" cy="1551.1" r="3.3"/>
</g>
<path d="M885.8,1338L885.8,1582.4" stroke="#2b2b2b" stroke-width="1.5" />
<path d="M874.4,1581.7L1058.7,1581.7" stroke="#2b2b2b" stroke-width="1.5" />
<path d="M875.3,1581.7L885.8,1581.7" stroke="#2b2b2b" stroke-width="1.5" />
<text transform="translate(849.1,1590) scale(1.015,1)" font-size="23.2">0</text>
<path d="M875.3,1557.4L885.8,1557.4" stroke="#2b2b2b" stroke-width="1.5" />
<path d="M875.3,1533.1L885.8,1533.1" stroke="#2b2b2b" stroke-width="1.5" />
<text transform="translate(835.8,1541.4) scale(1.029,1)" font-size="23.2">10</text>
<path d="M875.3,1508.8L885.8,1508.8" stroke="#2b2b2b" stroke-width="1.5" />
<path d="M875.3,1484.5L885.8,1484.5" stroke="#2b2b2b" stroke-width="1.5" />
<text transform="translate(835.8,1492.8) scale(1.029,1)" font-size="23.2">20</text>
<path d="M875.3,1460.2L885.8,1460.2" stroke="#2b2b2b" stroke-width="1.5" />
<path d="M875.3,1435.9L885.8,1435.9" stroke="#2b2b2b" stroke-width="1.5" />
<text transform="translate(835.8,1444.2) scale(1.029,1)" font-size="23.2">30</text>
<path d="M875.3,1411.6L885.8,1411.6" stroke="#2b2b2b" stroke-width="1.5" />
<path d="M875.3,1387.3L885.8,1387.3" stroke="#2b2b2b" stroke-width="1.5" />
<text transform="translate(835.8,1395.6) scale(1.029,1)" font-size="23.2">40</text>
<path d="M875.3,1363L885.8,1363" stroke="#2b2b2b" stroke-width="1.5" />
<path d="M875.3,1338.7L885.8,1338.7" stroke="#2b2b2b" stroke-width="1.5" />
<text transform="translate(835.8,1347) scale(1.029,1)" font-size="23.2">50</text>
<path d="M893.4,1581.7L893.4,1591.2" stroke="#2b2b2b" stroke-width="1.5" />
<text transform="translate(886.8,1619.8) scale(1.015,1)" font-size="23.2">0</text>
<path d="M926.3,1581.7L926.3,1591.2" stroke="#2b2b2b" stroke-width="1.5" />
<text transform="translate(919.7,1619.8) scale(1.015,1)" font-size="23.2">2</text>
<path d="M959.2,1581.7L959.2,1591.2" stroke="#2b2b2b" stroke-width="1.5" />
<text transform="translate(952.6,1619.8) scale(1.015,1)" font-size="23.2">4</text>
<path d="M992.2,1581.7L992.2,1591.2" stroke="#2b2b2b" stroke-width="1.5" />
<text transform="translate(985.6,1619.8) scale(1.015,1)" font-size="23.2">6</text>
<path d="M1025.1,1581.7L1025.1,1591.2" stroke="#2b2b2b" stroke-width="1.5" />
<text transform="translate(1018.5,1619.8) scale(1.015,1)" font-size="23.2">8</text>
<path d="M1058,1581.7L1058,1591.2" stroke="#2b2b2b" stroke-width="1.5" />
<text transform="translate(1044.2,1619.8) scale(0.951,1)" font-size="23.2">10</text>
<text transform="translate(779,1457.9) rotate(-90) scale(1.080,1)" x="-120" font-size="26.5">Distance to previous</text>
<text transform="translate(810.5,1459.6) rotate(-90) scale(1.098,1)" x="-119.2" font-size="26.5">shelter location (cm)</text>
<rect x="882.7" y="1277.3" width="183.6" height="19.9" fill="#000"/>
<text transform="translate(949,1292.9) scale(1.060,1)" font-size="16" fill="#f2f2f2">dPAG</text>
<rect x="882.7" y="1302.2" width="183.6" height="19.6" fill="#f7941d"/>
<text transform="translate(891,1318) scale(1.111,1)" font-size="16" fill="#fde2a7">589-nm (reactivation)</text>
<text transform="translate(871.4,1657) scale(1.113,1)" font-size="26.5">Time from flight</text>
<text transform="translate(918.9,1687) scale(1.039,1)" font-size="26.5">onset (s)</text>
<circle cx="1361" cy="100.5" r="20.8" fill="#8f91c9" opacity="0.95"/>
<rect x="1358.9" y="98.4" width="4.2" height="4.2" fill="none" stroke="#15154a" stroke-width="1.2"/>
<g fill="none" stroke-width="1.9" stroke-opacity="0.72" fill-opacity="0.72" stroke-linecap="round">
<path d="M1368.5,330.1C1369.2,327.4 1371.2,321.5 1372.3,314.1C1373.4,306.6 1374.3,295.2 1375.1,285.7C1375.9,276.3 1376.4,266.8 1377,257.4C1377.7,247.9 1378.4,238.5 1378.9,229C1379.4,219.6 1379.5,210.1 1379.9,200.7C1380.2,191.2 1380.2,180.2 1380.8,172.3C1381.4,164.4 1382.5,159.7 1383.6,153.4C1384.7,147.1 1385.8,140.2 1387.4,134.5C1389,128.8 1391,124.9 1393.1,119.4C1395.1,113.9 1397.5,105.7 1399.7,101.4C1401.9,97.2 1404.8,95.8 1406.3,93.9C1407.8,91.9 1407.9,90.4 1408.8,89.5C1409.7,88.7 1410.9,88.5 1411.6,88.8C1412.3,89 1413.1,90.3 1412.9,91C1412.8,91.7 1411.4,92.9 1410.7,92.9C1410,92.9 1407.8,90.9 1408.8,91C1409.8,91.2 1413.8,93.4 1416.7,93.9C1419.6,94.3 1424.6,93.9 1426.2,93.9" stroke="#939393"/>
<polygon points="1426.2,93.9 1417.7,97.4 1420.2,93.9 1417.7,90.3" fill="#939393" stroke="none"/>
<path d="M1358.1,330.1C1358.3,325.9 1358.8,315.5 1359.1,304.6C1359.4,293.7 1359.7,277.5 1360,264.9C1360.3,252.3 1360.5,241.3 1361,229C1361.4,216.7 1362.2,203.8 1362.9,191.2C1363.5,178.6 1364.4,162.1 1364.7,153.4C1365.1,144.7 1364.7,141.6 1364.7,139.2" stroke="#939393"/>
<polygon points="1364.7,139.2 1368.3,147.7 1364.7,145.2 1361.2,147.7" fill="#939393" stroke="none"/>
<path d="M1360,264.9C1360.2,255.8 1360.5,227.1 1361,210.1C1361.4,193.1 1362.9,175.5 1362.9,162.9C1362.9,150.3 1361.5,141 1361,134.5C1360.4,128 1359.7,125.8 1359.4,124.1" stroke="#939393"/>
<polygon points="1359.4,124.1 1364.2,132 1360.3,130 1357.1,133" fill="#939393" stroke="none"/>
<path d="M1360,264.9C1358.9,259.6 1356.4,243.5 1353.4,232.8C1350.4,222.1 1346.8,210.7 1342.1,200.7C1337.3,190.6 1330.1,181.1 1325.1,172.3C1320,163.5 1316.2,155 1311.8,147.7C1307.4,140.5 1300.8,132 1298.6,128.8" stroke="#939393"/>
<polygon points="1298.6,128.8 1306.4,133.7 1302,133.7 1300.5,137.8" fill="#939393" stroke="none"/>
<path d="M1360,264.9C1359.2,260.2 1357.7,245.7 1355.3,236.6C1352.9,227.4 1349.9,218.6 1345.8,210.1C1341.7,201.6 1334.8,192.5 1330.7,185.5C1326.6,178.6 1323.8,171.7 1321.3,168.5C1318.8,165.4 1318.4,168.8 1315.6,166.6C1312.8,164.4 1307.7,158.2 1304.3,155.3C1300.9,152.4 1296.7,150.3 1295.2,149.2" stroke="#939393"/>
<polygon points="1295.2,149.2 1304.2,151 1300.1,152.5 1300.3,156.9" fill="#939393" stroke="none"/>
<path d="M1360,264.9C1358.9,266.5 1356.4,270 1353.4,274.4C1350.4,278.8 1346.2,285.2 1342.1,291.4C1338,297.5 1332.6,309.6 1328.8,311.2C1325.1,312.8 1322.4,306.6 1319.4,300.8C1316.4,295 1313.2,285.7 1310.9,276.3C1308.5,266.8 1307.6,255.1 1305.2,244.1C1302.8,233.1 1299.8,223.2 1296.7,210.1C1293.6,197 1288.5,173.1 1286.9,165.7" stroke="#939393"/>
<polygon points="1286.9,165.7 1292.2,173.2 1288.2,171.5 1285.2,174.8" fill="#939393" stroke="none"/>
<path d="M1360,264.9C1357.7,268.1 1350.1,277.8 1345.8,283.8C1341.6,289.8 1338.3,297.4 1334.5,300.8C1330.7,304.3 1326.3,307.1 1323.2,304.6C1320,302.1 1318.1,293.6 1315.6,285.7C1313.1,277.8 1310.6,266.2 1308,257.4C1305.5,248.5 1303.7,242.2 1300.5,232.8C1297.3,223.3 1290.7,206 1288.8,200.7" stroke="#939393"/>
<polygon points="1288.8,200.7 1295,207.4 1290.8,206.2 1288.3,209.9" fill="#939393" stroke="none"/>
<path d="M1360,264.9C1358.3,266 1352.9,270.3 1349.6,271.5C1346.3,272.8 1343.3,273.3 1340.2,272.5C1337,271.7 1334.2,269.3 1330.7,266.8C1327.3,264.3 1323.2,261 1319.4,257.4C1315.6,253.7 1309.9,247.1 1308,245.1" stroke="#939393"/>
<polygon points="1308,245.1 1316.4,248.9 1312.1,249.4 1311.2,253.7" fill="#939393" stroke="none"/>
<path d="M1360,264.9C1358.6,265.7 1354.8,268.2 1351.5,269.6C1348.2,271.1 1343.6,271.7 1340.2,273.4C1336.7,275.1 1334.2,277.7 1330.7,280C1327.3,282.4 1323.8,286 1319.4,287.6C1315,289.2 1306.8,289.2 1304.3,289.5" stroke="#939393"/>
<polygon points="1304.3,289.5 1312.3,284.9 1310.2,288.7 1313.1,292" fill="#939393" stroke="none"/>
<path d="M1360,264.9C1358.6,267.7 1354.5,276.9 1351.5,281.9C1348.5,287 1345.5,290.7 1342.1,295.2C1338.6,299.6 1334.2,305.2 1330.7,308.4C1327.3,311.5 1324.9,312.1 1321.3,314.1C1317.6,316 1311,319.1 1309,320.1" stroke="#939393"/>
<polygon points="1309,320.1 1315,313.1 1314.3,317.5 1318.2,319.5" fill="#939393" stroke="none"/>
<path d="M1360,264.9C1361.1,261.4 1364,250.7 1366.6,244.1C1369.3,237.5 1372.6,231.5 1376.1,225.2C1379.5,218.9 1383.3,212.8 1387.4,206.3C1391.5,199.9 1398.4,189.8 1400.7,186.5" stroke="#939393"/>
<polygon points="1400.7,186.5 1398.9,195.5 1397.3,191.4 1393,191.6" fill="#939393" stroke="none"/>
<path d="M1360,264.9C1360.8,260.5 1362.7,247.6 1364.7,238.5C1366.8,229.3 1369.8,218 1372.3,210.1C1374.8,202.2 1377,197.2 1379.9,191.2C1382.7,185.2 1387.7,177 1389.3,174.2" stroke="#939393"/>
<polygon points="1389.3,174.2 1388.3,183.4 1386.4,179.4 1382.1,179.9" fill="#939393" stroke="none"/>
<path d="M1360,264.9C1361.7,264 1367.1,261 1370.4,259.2C1373.7,257.5 1378.1,258 1379.9,254.5C1381.6,251.1 1381,245.9 1380.8,238.5C1380.6,231 1379.2,221.1 1378.9,210.1C1378.6,199.1 1378.9,183.2 1378.9,172.3C1378.9,161.4 1378.9,149.5 1378.9,144.9" stroke="#939393"/>
<polygon points="1378.9,144.9 1382.5,153.4 1378.9,150.8 1375.3,153.4" fill="#939393" stroke="none"/>
<path d="M1360,264.9C1360.8,261.4 1362.7,251.7 1364.7,244.1C1366.8,236.6 1370.7,228.4 1372.3,219.6C1373.9,210.7 1374.2,199.7 1374.2,191.2C1374.2,182.7 1372.6,172.3 1372.3,168.5" stroke="#939393"/>
<polygon points="1372.3,168.5 1376.6,176.7 1372.8,174.4 1369.4,177.3" fill="#939393" stroke="none"/>
<path d="M1360,264.9C1361.1,259.6 1364,243.5 1366.6,232.8C1369.3,222.1 1372.3,211.1 1376.1,200.7C1379.9,190.2 1387.1,175.1 1389.3,170" stroke="#939393"/>
<polygon points="1389.3,170 1389.2,179.3 1387,175.5 1382.7,176.4" fill="#939393" stroke="none"/>
<path d="M1360,264.9C1360.5,267.1 1362.1,274.4 1362.9,278.1C1363.6,281.9 1364.4,286 1364.7,287.6" stroke="#939393"/>
<polygon points="1364.7,287.6 1359.6,280 1363.6,281.8 1366.6,278.6" fill="#939393" stroke="none"/>
<path d="M1360,264.9C1360.2,261.4 1359.5,250.9 1361,244.1C1362.4,237.3 1366.1,228.2 1368.5,224.3C1371,220.3 1374.5,221.1 1375.7,220.5" stroke="#939393"/>
<polygon points="1375.7,220.5 1369.8,227.6 1370.4,223.3 1366.5,221.3" fill="#939393" stroke="none"/>
<path d="M1360,264.9C1359.5,262.1 1357,260.2 1357.2,247.9C1357.3,235.6 1359.5,205.7 1361,191.2C1362.4,176.7 1365,168.2 1365.7,161C1366.4,153.7 1365.2,149.9 1365.1,147.7" stroke="#939393"/>
<polygon points="1365.1,147.7 1369,156.1 1365.4,153.7 1361.9,156.4" fill="#939393" stroke="none"/>
</g>
<path d="M1282,64.6L1282,330.7" stroke="#2b2b2b" stroke-width="1.5" />
<path d="M1271,100.5L1282,100.5" stroke="#2b2b2b" stroke-width="1.5" />
<text transform="translate(1246.3,108.8) scale(1.015,1)" font-size="23.2">0</text>
<path d="M1271,183.1L1282,183.1" stroke="#2b2b2b" stroke-width="1.5" />
<text transform="translate(1226.5,191.4) scale(1.023,1)" font-size="23.2">0.5</text>
<path d="M1271,264.9L1282,264.9" stroke="#2b2b2b" stroke-width="1.5" />
<text transform="translate(1228.5,273.2) scale(0.961,1)" font-size="23.2">1.0</text>
<path d="M1279.7,343.9L1443.2,343.9" stroke="#2b2b2b" stroke-width="1.5" />
<path d="M1287.6,343.9L1287.6,353.9" stroke="#2b2b2b" stroke-width="1.5" />
<text transform="translate(1277.3,382.7) scale(0.835,1)" font-size="23.2">–1</text>
<path d="M1361,343.9L1361,353.9" stroke="#2b2b2b" stroke-width="1.5" />
<text transform="translate(1354.5,382.7) scale(1.000,1)" font-size="23.2">0</text>
<path d="M1434.7,343.9L1434.7,353.9" stroke="#2b2b2b" stroke-width="1.5" />
<text transform="translate(1428.2,382.7) scale(1.000,1)" font-size="23.2">1</text>
<text transform="translate(1175.5,196.2) rotate(-90) scale(1.096,1)" x="-134.8" font-size="26.5">Normalized distance to</text>
<text transform="translate(1205.5,197.7) rotate(-90) scale(1.094,1)" x="-142.9" font-size="26.5">previous shelter location</text>
<rect x="1260.5" y="14.3" width="188.2" height="19.9" fill="#404040"/>
<text transform="translate(1327,29.9) scale(1.059,1)" font-size="16" fill="#f2f2f2">Threat</text>
<text transform="translate(1274.8,54) scale(1.040,1)" font-size="22.8">Previous shelter</text>
<text transform="translate(1316.8,74.2) scale(1.096,1)" font-size="22.8">location</text>
<circle cx="1359" cy="533.9" r="15.3" fill="#8f91c9" opacity="0.95"/>
<rect x="1356.9" y="531.8" width="4.2" height="4.2" fill="none" stroke="#15154a" stroke-width="1.2"/>
<g fill="none" stroke-width="1.8" stroke-opacity="0.6" fill-opacity="0.6" stroke-linecap="round">
<path d="M1362.1,730.7C1362,723.6 1361.1,701.4 1361.1,688.1C1361.1,674.8 1361.4,663.3 1362.4,650.9C1363.3,638.5 1365,626.1 1366.9,613.6C1368.7,601.2 1372.5,582.6 1373.7,576.4" stroke="#7a7a7a"/>
<polygon points="1373.7,576.4 1375.5,584.9 1372.6,581.9 1368.9,583.6" fill="#7a7a7a" stroke="none"/>
<path d="M1360.1,723.5C1359.2,717.3 1356.2,699.2 1355.1,686.6C1354.1,674 1353.4,660.7 1353.9,647.8C1354.4,634.8 1356,621.9 1357.9,609C1359.9,596 1364.3,576.6 1365.6,570.1" stroke="#7a7a7a"/>
<polygon points="1365.6,570.1 1367.4,578.6 1364.5,575.6 1360.8,577.3" fill="#7a7a7a" stroke="none"/>
<path d="M1362.7,723.4C1364.2,717.4 1369.5,699.8 1371.6,687.5C1373.7,675.3 1375.3,662.3 1375.2,649.7C1375.2,637.1 1373.5,624.5 1371.3,611.8C1369.1,599.2 1363.5,580.3 1362,574" stroke="#7a7a7a"/>
<polygon points="1362,574 1367.1,581 1363.3,579.4 1360.6,582.6" fill="#7a7a7a" stroke="none"/>
<path d="M1362,730C1362.3,723.8 1363.3,704.2 1363.7,692.5C1364.1,680.8 1364.4,670.6 1364.4,659.6C1364.4,648.6 1364.1,637.7 1363.7,626.7C1363.3,615.7 1362.4,599.3 1362.1,593.8" stroke="#7a7a7a"/>
<polygon points="1362.1,593.8 1365.8,601.6 1362.4,599.4 1359.1,601.9" fill="#7a7a7a" stroke="none"/>
<path d="M1362.7,721.9C1361.8,715.1 1358.7,695.2 1357.1,680.9C1355.6,666.7 1354.2,651.3 1353.4,636.5C1352.6,621.6 1352.3,606.8 1352.3,592C1352.2,577.2 1352.9,554.9 1353,547.5" stroke="#7a7a7a"/>
<polygon points="1353,547.5 1356.2,555.6 1352.9,553.1 1349.5,555.5" fill="#7a7a7a" stroke="none"/>
<path d="M1362.9,731C1362.9,722.9 1362.9,697.7 1363.1,682.4C1363.3,667.1 1363.6,653.7 1364.2,639.4C1364.8,625 1365.7,610.7 1366.6,596.3C1367.6,582 1369.5,560.5 1370,553.3" stroke="#7a7a7a"/>
<polygon points="1370,553.3 1372.8,561.6 1369.6,558.9 1366.1,561" fill="#7a7a7a" stroke="none"/>
<path d="M1364.7,726.7C1364.3,719.9 1362.9,699.3 1362.7,686C1362.5,672.6 1362.6,659.7 1363.6,646.5C1364.6,633.4 1366.4,620.2 1368.5,607.1C1370.7,593.9 1375.1,574.2 1376.4,567.7" stroke="#7a7a7a"/>
<polygon points="1376.4,567.7 1378.1,576.2 1375.3,573.1 1371.5,574.8" fill="#7a7a7a" stroke="none"/>
<path d="M1358.9,723.5C1359.3,718 1360.7,702.1 1361.3,690.9C1362,679.7 1362.5,667.9 1362.9,656.4C1363.2,644.9 1363.3,633.4 1363.2,621.9C1363.2,610.5 1362.8,593.2 1362.8,587.5" stroke="#7a7a7a"/>
<polygon points="1362.8,587.5 1366.2,595.4 1362.8,593.1 1359.5,595.5" fill="#7a7a7a" stroke="none"/>
<path d="M1360.2,730.3C1361.2,724 1365.1,704.1 1366.5,692.2C1367.9,680.2 1368.9,670 1368.5,658.9C1368.1,647.8 1366.4,636.7 1364.3,625.7C1362.2,614.6 1357.2,597.9 1355.8,592.4" stroke="#7a7a7a"/>
<polygon points="1355.8,592.4 1361,599.3 1357.2,597.8 1354.5,601" fill="#7a7a7a" stroke="none"/>
<path d="M1356.7,726.6C1355.6,719.2 1352,696.7 1350.3,682C1348.7,667.3 1347.2,653.1 1346.6,638.6C1346,624.1 1346.1,609.7 1346.5,595.2C1346.9,580.7 1348.7,559 1349.1,551.8" stroke="#7a7a7a"/>
<polygon points="1349.1,551.8 1352,560 1348.7,557.4 1345.3,559.6" fill="#7a7a7a" stroke="none"/>
<path d="M1360.7,725.1C1361.3,719.6 1363.4,702.8 1364.1,691.6C1364.8,680.4 1365.2,669.1 1364.8,657.8C1364.5,646.5 1363.3,635.3 1361.9,624C1360.6,612.7 1357.4,595.8 1356.5,590.2" stroke="#7a7a7a"/>
<polygon points="1356.5,590.2 1361.1,597.6 1357.4,595.7 1354.4,598.6" fill="#7a7a7a" stroke="none"/>
<path d="M1357.8,725.4C1357.9,719.9 1358.3,703.4 1358.4,692.5C1358.4,681.5 1358.3,670.5 1357.9,659.5C1357.6,648.5 1356.9,637.6 1356.1,626.6C1355.4,615.6 1353.8,599.1 1353.3,593.7" stroke="#7a7a7a"/>
<polygon points="1353.3,593.7 1357.4,601.3 1353.8,599.2 1350.7,601.9" fill="#7a7a7a" stroke="none"/>
<path d="M1361.1,726.8C1362.3,720.5 1366.4,701.5 1368.1,689.1C1369.7,676.8 1371,665 1371.1,652.9C1371.3,640.8 1370.2,628.7 1368.7,616.6C1367.3,604.5 1363.5,586.4 1362.5,580.4" stroke="#7a7a7a"/>
<polygon points="1362.5,580.4 1367.1,587.7 1363.4,585.9 1360.5,588.8" fill="#7a7a7a" stroke="none"/>
<path d="M1359.6,728.3C1358.7,720.8 1355.4,697.7 1353.7,683.2C1352,668.6 1350.5,655 1349.5,641C1348.5,626.9 1348,612.8 1347.7,598.8C1347.4,584.7 1347.6,563.6 1347.6,556.6" stroke="#7a7a7a"/>
<polygon points="1347.6,556.6 1351,564.6 1347.6,562.2 1344.3,564.6" fill="#7a7a7a" stroke="none"/>
<path d="M1355.9,732.5C1356.4,724.2 1358.1,698.1 1358.8,682.7C1359.5,667.3 1360.1,654.2 1360.2,640C1360.3,625.8 1360,611.5 1359.6,597.3C1359.1,583 1357.8,561.7 1357.4,554.6" stroke="#7a7a7a"/>
<polygon points="1357.4,554.6 1361.2,562.4 1357.7,560.2 1354.5,562.7" fill="#7a7a7a" stroke="none"/>
<path d="M1362.2,721.7C1363,715.5 1365.8,697.3 1366.7,684.2C1367.5,671.1 1368,656.7 1367.4,643C1366.8,629.3 1365.1,615.5 1363,601.8C1360.9,588.1 1356.2,567.5 1354.9,560.6" stroke="#7a7a7a"/>
<polygon points="1354.9,560.6 1359.7,567.8 1356,566.1 1353.1,569.1" fill="#7a7a7a" stroke="none"/>
<path d="M1364.8,729.2C1364,722.6 1360.8,702.3 1359.7,689.8C1358.5,677.4 1357.8,666.1 1358.1,654.3C1358.4,642.4 1359.7,630.6 1361.5,618.7C1363.2,606.9 1367.3,589.1 1368.4,583.2" stroke="#7a7a7a"/>
<polygon points="1368.4,583.2 1370.2,591.7 1367.3,588.7 1363.6,590.4" fill="#7a7a7a" stroke="none"/>
<path d="M1363,733.3C1362.3,725.3 1359.4,700 1358.8,685.4C1358.2,670.8 1358.1,658.7 1359.5,645.4C1361,632.1 1363.9,618.8 1367.3,605.4C1370.7,592.1 1377.9,572.1 1380,565.4" stroke="#7a7a7a"/>
<polygon points="1380,565.4 1380.8,574.1 1378.3,570.8 1374.4,572" fill="#7a7a7a" stroke="none"/>
<path d="M1363.7,723.6C1362.6,718.2 1358.7,702.3 1357,691.1C1355.3,680 1353.9,668.3 1353.6,656.8C1353.2,645.4 1353.7,634 1354.6,622.6C1355.5,611.1 1358.2,594 1358.9,588.3" stroke="#7a7a7a"/>
<polygon points="1358.9,588.3 1361.3,596.6 1358.2,593.8 1354.6,595.8" fill="#7a7a7a" stroke="none"/>
<path d="M1360,730.9C1359.8,722.6 1359.1,696.9 1359,681.4C1358.9,665.8 1359,652 1359.4,637.3C1359.9,622.6 1360.8,608 1361.8,593.3C1362.9,578.6 1365,556.6 1365.6,549.2" stroke="#7a7a7a"/>
<polygon points="1365.6,549.2 1368.3,557.5 1365.1,554.8 1361.6,556.9" fill="#7a7a7a" stroke="none"/>
<path d="M1360.3,724.2C1360.6,718.6 1362,702 1362.3,690.6C1362.5,679.2 1362.5,667.3 1361.8,655.7C1361.1,644.1 1359.6,632.5 1357.9,620.9C1356.2,609.3 1352.6,591.9 1351.6,586.1" stroke="#7a7a7a"/>
<polygon points="1351.6,586.1 1356.3,593.3 1352.6,591.6 1349.7,594.5" fill="#7a7a7a" stroke="none"/>
<path d="M1360.5,724.8C1360.7,717.6 1361.2,695.9 1361.3,681.4C1361.4,666.8 1361.4,652 1361.1,637.3C1360.8,622.6 1360.2,608 1359.5,593.3C1358.9,578.6 1357.4,556.6 1357,549.2" stroke="#7a7a7a"/>
<polygon points="1357,549.2 1360.8,557 1357.3,554.8 1354.1,557.4" fill="#7a7a7a" stroke="none"/>
<path d="M1366.7,732.9C1365.2,725.6 1360.1,702.7 1357.4,689.5C1354.7,676.3 1352.3,665.5 1350.6,653.6C1348.9,641.6 1348,629.6 1347.3,617.6C1346.6,605.7 1346.7,587.7 1346.5,581.7" stroke="#7a7a7a"/>
<polygon points="1346.5,581.7 1350.1,589.6 1346.7,587.3 1343.4,589.8" fill="#7a7a7a" stroke="none"/>
<path d="M1360.1,723.2C1359.3,716.1 1356.9,695.3 1355.5,680.9C1354.1,666.4 1352.8,651.2 1351.7,636.3C1350.7,621.5 1349.9,606.6 1349.1,591.8C1348.4,576.9 1347.7,554.7 1347.5,547.3" stroke="#7a7a7a"/>
<polygon points="1347.5,547.3 1351.1,555.1 1347.7,552.9 1344.4,555.4" fill="#7a7a7a" stroke="none"/>
<path d="M1362.6,728C1361.2,721.8 1356.5,703 1354.2,691.1C1351.9,679.2 1349.8,668.2 1348.6,656.8C1347.4,645.4 1347.1,633.9 1347,622.5C1346.9,611.1 1348,593.9 1348.2,588.2" stroke="#7a7a7a"/>
<polygon points="1348.2,588.2 1351.3,596.3 1348,593.8 1344.5,596.1" fill="#7a7a7a" stroke="none"/>
<path d="M1357.9,724C1357.6,717.8 1356.3,699.5 1356.1,686.9C1355.9,674.4 1355.8,661.3 1356.5,648.5C1357.2,635.7 1358.6,622.8 1360.3,610C1361.9,597.2 1365.3,578 1366.3,571.5" stroke="#7a7a7a"/>
<polygon points="1366.3,571.5 1368.4,580 1365.4,577.1 1361.8,578.9" fill="#7a7a7a" stroke="none"/>
<path d="M1359.8,728.1C1360.1,721.6 1360.9,701.4 1361.2,688.7C1361.5,676.1 1361.8,664.3 1361.9,652.1C1361.9,639.9 1361.8,627.7 1361.5,615.4C1361.3,603.2 1360.7,584.9 1360.5,578.8" stroke="#7a7a7a"/>
<polygon points="1360.5,578.8 1364.1,586.7 1360.7,584.4 1357.4,586.9" fill="#7a7a7a" stroke="none"/>
<path d="M1359.6,723.7C1357.8,717.7 1351.5,699.9 1348.8,687.5C1346,675.2 1343.7,662.3 1343,649.7C1342.3,637.1 1343.1,624.4 1344.4,611.8C1345.7,599.2 1349.8,580.3 1350.9,573.9" stroke="#7a7a7a"/>
<polygon points="1350.9,573.9 1352.9,582.4 1350,579.5 1346.3,581.3" fill="#7a7a7a" stroke="none"/>
<path d="M1353.5,721.6C1354.7,716.6 1358.3,702.1 1360.5,691.4C1362.6,680.7 1364.6,668.7 1366.4,657.4C1368.1,646 1369.6,634.7 1370.9,623.4C1372.3,612 1373.9,595 1374.5,589.4" stroke="#7a7a7a"/>
<polygon points="1374.5,589.4 1377,597.7 1373.9,594.9 1370.3,597" fill="#7a7a7a" stroke="none"/>
<path d="M1360.8,731.7C1361.4,723.4 1363.3,697.7 1364.4,682.2C1365.6,666.8 1366.6,653.4 1367.5,639C1368.4,624.6 1369.1,610.2 1369.8,595.8C1370.4,581.4 1371.2,559.9 1371.5,552.7" stroke="#7a7a7a"/>
<polygon points="1371.5,552.7 1374.5,560.8 1371.3,558.3 1367.8,560.5" fill="#7a7a7a" stroke="none"/>
<path d="M1359.1,718.8C1357.2,707.7 1351.1,673.4 1347.5,652.4C1343.9,631.3 1339.7,608.1 1337.5,592.6C1335.3,577.1 1334.5,569.1 1334.2,559.4C1333.9,549.7 1335.6,538.7 1335.9,534.5" stroke="#8c8c8c"/>
<polygon points="1335.9,534.5 1338.8,543.2 1335.5,540.5 1331.7,542.8" fill="#8c8c8c" stroke="none"/>
<path d="M1359.1,718.8C1355.5,707.7 1342.8,669 1337.5,652.4C1332.3,635.8 1328.7,631.3 1327.6,619.2C1326.4,607 1328.7,590.4 1330.9,579.3C1333.1,568.3 1338.1,561.1 1340.8,552.8C1343.6,544.5 1346.6,535.1 1347.5,529.5C1348.3,524 1349.1,520.2 1345.8,519.6C1342.5,518.9 1330.6,524.6 1327.6,525.6" stroke="#8c8c8c"/>
<polygon points="1327.6,525.6 1334.5,519.5 1333.2,523.7 1336.7,526.3" fill="#8c8c8c" stroke="none"/>
<path d="M1359.1,718.8C1357.2,713.2 1351.6,697.2 1347.5,685.6C1343.3,673.9 1337.6,660.1 1334.2,649C1330.8,638 1328.1,624.1 1326.9,619.2" stroke="#8c8c8c"/>
<polygon points="1326.9,619.2 1332.4,626.6 1328.3,624.9 1325.4,628.3" fill="#8c8c8c" stroke="none"/>
<path d="M1344.1,720.4C1342.8,719 1337,715.2 1335.9,712.1C1334.7,709.1 1337.2,703.8 1337.5,702.2" stroke="#8c8c8c"/>
<polygon points="1337.5,702.2 1339.6,711.1 1336.5,708 1332.6,710" fill="#8c8c8c" stroke="none"/>
<path d="M1359.1,728.7C1361,731.5 1367.4,740.3 1370.7,745.3C1374,750.3 1377.3,755.8 1379,758.6C1380.7,761.4 1380.8,763.8 1380.7,761.9C1380.5,760 1378.5,749.5 1378,747" stroke="#8c8c8c"/>
<polygon points="1378,747 1383,754.7 1379,752.8 1376,756" fill="#8c8c8c" stroke="none"/>
<path d="M1359.1,718.8C1361,707.7 1367.1,674.5 1370.7,652.4C1374.3,630.2 1377.9,603.1 1380.7,586C1383.4,568.8 1385.6,556.7 1387.3,549.5C1389,542.3 1387.9,546.1 1390.6,542.8C1393.4,539.5 1400,534.2 1403.9,529.5C1407.8,524.8 1410.7,519.6 1413.9,514.6C1417.1,509.6 1421.6,502.2 1423.2,499.7" stroke="#8c8c8c"/>
<polygon points="1423.2,499.7 1421.7,508.8 1420,504.7 1415.6,505" fill="#8c8c8c" stroke="none"/>
<path d="M1359.1,718.8C1360.5,707.7 1364.9,674.5 1367.4,652.4C1369.9,630.2 1371.3,602.6 1374,586C1376.8,569.4 1381.2,559.9 1384,552.8C1386.7,545.7 1389.5,545 1390.6,543.5" stroke="#8c8c8c"/>
<polygon points="1390.6,543.5 1388.6,552.5 1387.2,548.3 1382.8,548.3" fill="#8c8c8c" stroke="none"/>
</g>
<path d="M1282,498L1282,767.5" stroke="#2b2b2b" stroke-width="1.5" />
<path d="M1271,533.9L1282,533.9" stroke="#2b2b2b" stroke-width="1.5" />
<text transform="translate(1246.3,542.2) scale(1.015,1)" font-size="23.2">0</text>
<path d="M1271,629.8L1282,629.8" stroke="#2b2b2b" stroke-width="1.5" />
<text transform="translate(1226.5,638.1) scale(1.023,1)" font-size="23.2">0.5</text>
<path d="M1271,725.4L1282,725.4" stroke="#2b2b2b" stroke-width="1.5" />
<text transform="translate(1228.5,733.7) scale(0.961,1)" font-size="23.2">1.0</text>
<path d="M1281.7,777.5L1439.7,777.5" stroke="#2b2b2b" stroke-width="1.5" />
<path d="M1288.4,777.5L1288.4,787.5" stroke="#2b2b2b" stroke-width="1.5" />
<text transform="translate(1278.2,816.7) scale(0.835,1)" font-size="23.2">–1</text>
<path d="M1359.8,777.5L1359.8,787.5" stroke="#2b2b2b" stroke-width="1.5" />
<text transform="translate(1353.3,816.7) scale(1.000,1)" font-size="23.2">0</text>
<path d="M1431.4,777.5L1431.4,787.5" stroke="#2b2b2b" stroke-width="1.5" />
<text transform="translate(1424.9,816.7) scale(1.000,1)" font-size="23.2">1</text>
<text transform="translate(1175,630.6) rotate(-90) scale(1.098,1)" x="-134.8" font-size="26.5">Normalized distance to</text>
<text transform="translate(1204,632.6) rotate(-90) scale(1.093,1)" x="-142.9" font-size="26.5">previous shelter location</text>
<rect x="1260.5" y="441.0" width="188.2" height="19.8" fill="#404040"/>
<text transform="translate(1330,456.6) scale(1.059,1)" font-size="16" fill="#f2f2f2">Threat</text>
<rect x="1260.5" y="466.5" width="188.2" height="19.2" fill="#f7941d"/>
<text transform="translate(1270.5,482.3) scale(1.111,1)" font-size="16" fill="#fde2a7">589-nm (reactivation)</text>
<clipPath id="clipI"><rect x="1286" y="918" width="158" height="271"/></clipPath>
<circle cx="1365.7" cy="954.8" r="15.1" fill="#8f91c9" opacity="0.95"/>
<rect x="1363.6" y="952.7" width="4.2" height="4.2" fill="none" stroke="#15154a" stroke-width="1.2"/>
<g clip-path="url(#clipI)">
<g fill="none" stroke-width="1.8" stroke-opacity="0.58" fill-opacity="0.58" stroke-linecap="round">
<path d="M1365.1,1134.4C1363.7,1131.2 1358.9,1121.7 1356.6,1115.3C1354.4,1108.9 1353.3,1102.6 1351.7,1096.2C1350.1,1089.8 1348.1,1083.5 1347.1,1077.1C1346,1070.7 1345.9,1064.4 1345.6,1058C1345.3,1051.6 1345,1045.3 1345.3,1038.9C1345.5,1032.5 1346.2,1026.2 1347.1,1019.8C1348.1,1013.4 1350.4,1003.9 1351,1000.7" stroke="#7f7f7f"/>
<polygon points="1351,1000.7 1352.7,1009.2 1349.9,1006.2 1346.1,1007.8" fill="#7f7f7f" stroke="none"/>
<path d="M1364.5,1134.4C1363.7,1130.5 1361,1118.7 1359.8,1110.9C1358.5,1103.1 1357.8,1095.2 1357.1,1087.4C1356.5,1079.6 1356.2,1071.8 1355.9,1063.9C1355.6,1056.1 1355.1,1048.3 1355.3,1040.4C1355.6,1032.6 1356.8,1024.8 1357.6,1016.9C1358.4,1009.1 1359.3,1001.3 1360.2,993.4C1361.2,985.6 1362.9,973.9 1363.4,969.9" stroke="#7f7f7f"/>
<polygon points="1363.4,969.9 1365.7,978.3 1362.7,975.5 1359,977.4" fill="#7f7f7f" stroke="none"/>
<path d="M1364.7,1134.4C1365.5,1131.2 1368.3,1121.5 1369.6,1115.1C1370.8,1108.6 1371.2,1102.2 1372.1,1095.7C1373.1,1089.3 1374.7,1082.9 1375.3,1076.4C1376,1070 1376,1063.5 1375.9,1057.1C1375.8,1050.6 1375,1044.2 1374.8,1037.8C1374.6,1031.3 1375.1,1024.9 1374.8,1018.4C1374.5,1012 1373.2,1002.3 1372.9,999.1" stroke="#7f7f7f"/>
<polygon points="1372.9,999.1 1377,1006.7 1373.4,1004.7 1370.3,1007.4" fill="#7f7f7f" stroke="none"/>
<path d="M1364.8,1134.4C1368.1,1131 1379,1120.9 1384.3,1114.1C1389.6,1107.3 1392.9,1100.6 1396.5,1093.8C1400.1,1087.1 1403.6,1080.3 1405.9,1073.5C1408.2,1066.8 1409.5,1060 1410.5,1053.2C1411.4,1046.5 1411.9,1039.7 1411.5,1032.9C1411.1,1026.2 1409.7,1019.4 1407.9,1012.7C1406,1005.9 1401.5,995.7 1400.2,992.4" stroke="#7f7f7f"/>
<polygon points="1400.2,992.4 1406.2,998.7 1402.2,997.6 1399.9,1001" fill="#7f7f7f" stroke="none"/>
<path d="M1364.6,1134.4C1368.8,1130.7 1382.9,1119.8 1389.9,1112.5C1396.9,1105.1 1402,1097.8 1406.5,1090.5C1411,1083.2 1414.5,1075.9 1417.1,1068.6C1419.8,1061.2 1422,1053.9 1422.4,1046.6C1422.9,1039.3 1421.8,1032 1420.1,1024.7C1418.5,1017.4 1416,1010 1412.5,1002.7C1409,995.4 1401.5,984.4 1399.3,980.8" stroke="#7f7f7f"/>
<polygon points="1399.3,980.8 1406.3,985.9 1402.2,985.6 1400.5,989.4" fill="#7f7f7f" stroke="none"/>
<path d="M1364.8,1134.4C1367.9,1130.5 1378.3,1118.9 1383.5,1111.1C1388.6,1103.4 1392.1,1095.6 1395.5,1087.9C1398.9,1080.1 1402,1072.4 1403.8,1064.6C1405.5,1056.9 1405.9,1049.1 1406,1041.4C1406.2,1033.6 1405.8,1025.9 1404.6,1018.1C1403.3,1010.4 1401.2,1002.6 1398.5,994.9C1395.8,987.1 1390.1,975.5 1388.4,971.6" stroke="#7f7f7f"/>
<polygon points="1388.4,971.6 1394.7,977.6 1390.6,976.8 1388.5,980.3" fill="#7f7f7f" stroke="none"/>
<path d="M1365.3,1134.4C1365.6,1130.3 1366.4,1118 1366.9,1109.8C1367.5,1101.6 1368.3,1093.3 1368.7,1085.1C1369.2,1076.9 1369.4,1068.7 1369.6,1060.5C1369.7,1052.3 1369.5,1044.1 1369.6,1035.9C1369.8,1027.7 1370.7,1019.4 1370.5,1011.2C1370.3,1003 1369.2,994.8 1368.6,986.6C1367.9,978.4 1366.8,966.1 1366.5,962" stroke="#7f7f7f"/>
<polygon points="1366.5,962 1370.5,969.6 1367,967.5 1363.8,970.2" fill="#7f7f7f" stroke="none"/>
<path d="M1364.7,1134.4C1362.9,1130.4 1356.9,1118.3 1353.9,1110.2C1350.9,1102.2 1348.5,1094.1 1346.7,1086.1C1344.9,1078 1343.9,1070 1343.1,1061.9C1342.3,1053.9 1341.5,1045.8 1341.9,1037.8C1342.2,1029.7 1343.9,1021.7 1345.3,1013.6C1346.8,1005.6 1348,997.5 1350.6,989.5C1353.2,981.4 1359.2,969.3 1361,965.3" stroke="#7f7f7f"/>
<polygon points="1361,965.3 1360.9,974 1358.8,970.4 1354.7,971.3" fill="#7f7f7f" stroke="none"/>
<path d="M1364.7,1134.4C1368,1130.1 1379.3,1117.4 1384.6,1108.9C1389.9,1100.4 1393.6,1091.9 1396.6,1083.3C1399.6,1074.8 1401.6,1066.3 1402.6,1057.8C1403.6,1049.3 1403.6,1040.8 1402.6,1032.3C1401.6,1023.8 1399.4,1015.3 1396.6,1006.8C1393.8,998.3 1390.6,989.7 1385.6,981.2C1380.6,972.7 1369.8,960 1366.7,955.7" stroke="#7f7f7f"/>
<polygon points="1366.7,955.7 1374.1,960.1 1370,960.2 1368.7,964.1" fill="#7f7f7f" stroke="none"/>
<path d="M1364.8,1134.4C1362.8,1131.4 1356,1122.6 1352.9,1116.7C1349.8,1110.8 1348.2,1104.9 1346.1,1099C1343.9,1093.1 1341.5,1087.2 1339.9,1081.2C1338.3,1075.3 1337.1,1069.4 1336.3,1063.5C1335.6,1057.6 1335.3,1051.7 1335.3,1045.8C1335.2,1039.9 1335.4,1034 1336,1028.1C1336.5,1022.2 1338.2,1013.3 1338.6,1010.4" stroke="#7f7f7f"/>
<polygon points="1338.6,1010.4 1340.8,1018.8 1337.8,1015.9 1334.1,1017.8" fill="#7f7f7f" stroke="none"/>
<path d="M1365,1134.4C1360.4,1130.3 1344.9,1118.1 1337.5,1110C1330.1,1101.9 1324.9,1093.7 1320.6,1085.6C1316.2,1077.5 1313.1,1069.3 1311.3,1061.2C1309.4,1053.1 1308.5,1044.9 1309.2,1036.8C1310,1028.7 1312.7,1020.5 1316,1012.4C1319.2,1004.2 1323.1,996.1 1328.7,988C1334.4,979.8 1346.2,967.6 1349.7,963.6" stroke="#7f7f7f"/>
<polygon points="1349.7,963.6 1347,971.8 1346.1,967.8 1341.9,967.5" fill="#7f7f7f" stroke="none"/>
<path d="M1364.2,1134.4C1367.1,1130.5 1376.7,1118.7 1381.6,1110.8C1386.4,1103 1390.3,1095.1 1393.5,1087.2C1396.6,1079.4 1398.9,1071.5 1400.6,1063.7C1402.2,1055.8 1403,1048 1403.3,1040.1C1403.6,1032.2 1403.4,1024.4 1402.4,1016.5C1401.3,1008.7 1399.4,1000.8 1396.7,992.9C1394,985.1 1387.8,973.3 1386,969.4" stroke="#7f7f7f"/>
<polygon points="1386,969.4 1392.4,975.3 1388.3,974.5 1386.3,978" fill="#7f7f7f" stroke="none"/>
<path d="M1364.5,1134.4C1362.9,1130.7 1357.3,1119.5 1354.5,1112.1C1351.6,1104.6 1349.2,1097.2 1347.3,1089.7C1345.5,1082.3 1344.4,1074.8 1343.3,1067.4C1342.2,1059.9 1341,1052.5 1340.6,1045C1340.1,1037.6 1340,1030.1 1340.5,1022.7C1341,1015.2 1341.9,1007.8 1343.4,1000.3C1344.9,992.9 1348.3,981.7 1349.3,978" stroke="#7f7f7f"/>
<polygon points="1349.3,978 1350.5,986.6 1347.9,983.4 1344,984.8" fill="#7f7f7f" stroke="none"/>
<path d="M1365.4,1134.4C1368.7,1131.4 1379.5,1122.4 1384.8,1116.4C1390.1,1110.4 1393.5,1104.4 1397.2,1098.4C1400.9,1092.4 1404.2,1086.4 1407,1080.4C1409.9,1074.4 1412.3,1068.4 1414.1,1062.4C1415.8,1056.4 1417.1,1050.4 1417.4,1044.4C1417.8,1038.4 1416.8,1032.4 1416,1026.4C1415.1,1020.4 1413,1011.4 1412.4,1008.4" stroke="#7f7f7f"/>
<polygon points="1412.4,1008.4 1417.2,1015.6 1413.5,1013.9 1410.7,1016.9" fill="#7f7f7f" stroke="none"/>
<path d="M1364.5,1134.4C1365.8,1131.5 1370.1,1122.8 1372.3,1117C1374.4,1111.1 1375.5,1105.3 1377.1,1099.5C1378.7,1093.7 1380.7,1087.9 1381.8,1082.1C1382.8,1076.3 1383,1070.4 1383.4,1064.6C1383.9,1058.8 1384.3,1053 1384.5,1047.2C1384.7,1041.4 1384.9,1035.6 1384.3,1029.8C1383.8,1023.9 1381.8,1015.2 1381.3,1012.3" stroke="#7f7f7f"/>
<polygon points="1381.3,1012.3 1386,1019.6 1382.2,1017.8 1379.3,1020.8" fill="#7f7f7f" stroke="none"/>
<path d="M1364.9,1134.4C1360.5,1130.3 1345.5,1118 1338.7,1109.9C1331.9,1101.7 1327.8,1093.5 1323.8,1085.3C1319.9,1077.1 1316.9,1069 1315.2,1060.8C1313.4,1052.6 1312.7,1044.4 1313.2,1036.3C1313.8,1028.1 1315.6,1019.9 1318.5,1011.7C1321.4,1003.5 1325.4,995.4 1330.6,987.2C1335.8,979 1346.6,966.7 1349.8,962.6" stroke="#7f7f7f"/>
<polygon points="1349.8,962.6 1347.5,971 1346.4,967.1 1342.2,966.9" fill="#7f7f7f" stroke="none"/>
<path d="M1365.5,1134.4C1364.9,1130.4 1362.9,1118.5 1362,1110.5C1361.1,1102.5 1360.8,1094.6 1360.3,1086.6C1359.8,1078.7 1359.3,1070.7 1359.1,1062.7C1358.8,1054.8 1358.5,1046.8 1358.6,1038.8C1358.6,1030.9 1359,1022.9 1359.4,1014.9C1359.7,1007 1360.3,999 1360.8,991C1361.3,983.1 1362.1,971.1 1362.4,967.2" stroke="#7f7f7f"/>
<polygon points="1362.4,967.2 1365.2,975.4 1362,972.7 1358.5,974.9" fill="#7f7f7f" stroke="none"/>
<path d="M1365.3,1134.4C1362.5,1131.3 1353.1,1121.8 1348.4,1115.5C1343.7,1109.2 1339.9,1102.9 1337.2,1096.6C1334.5,1090.3 1334,1084.1 1332.3,1077.8C1330.6,1071.5 1327.7,1065.2 1327,1058.9C1326.2,1052.6 1327.2,1046.3 1327.9,1040C1328.5,1033.7 1328.9,1027.4 1330.7,1021.1C1332.5,1014.8 1337.3,1005.4 1338.6,1002.2" stroke="#7f7f7f"/>
<polygon points="1338.6,1002.2 1338.6,1010.9 1336.4,1007.4 1332.4,1008.3" fill="#7f7f7f" stroke="none"/>
<path d="M1364.8,1134.4C1360.9,1130.4 1347.6,1118.3 1341.5,1110.3C1335.3,1102.2 1331.3,1094.2 1327.6,1086.1C1323.9,1078.1 1320.8,1070 1319.2,1062C1317.7,1053.9 1317.5,1045.9 1318.2,1037.8C1318.9,1029.8 1320.8,1021.7 1323.4,1013.7C1326.1,1005.6 1329.4,997.6 1334.3,989.5C1339.1,981.5 1349.7,969.4 1352.7,965.4" stroke="#7f7f7f"/>
<polygon points="1352.7,965.4 1350.5,973.8 1349.3,969.8 1345.2,969.7" fill="#7f7f7f" stroke="none"/>
<path d="M1364.1,1134.4C1363.4,1131.1 1361.1,1121.3 1359.9,1114.8C1358.6,1108.3 1357.3,1101.8 1356.4,1095.2C1355.5,1088.7 1354.9,1082.2 1354.3,1075.6C1353.7,1069.1 1353.2,1062.6 1353.1,1056C1352.9,1049.5 1353.6,1043 1353.6,1036.5C1353.6,1029.9 1352.9,1023.4 1353.3,1016.9C1353.7,1010.3 1355.7,1000.5 1356.1,997.3" stroke="#7f7f7f"/>
<polygon points="1356.1,997.3 1358.3,1005.7 1355.3,1002.8 1351.6,1004.7" fill="#7f7f7f" stroke="none"/>
<path d="M1365.3,1134.4C1361.5,1130.2 1348.7,1117.5 1342.7,1109.1C1336.6,1100.6 1332.4,1092.2 1329,1083.8C1325.6,1075.3 1323.5,1066.9 1322.3,1058.4C1321,1050 1320.6,1041.5 1321.4,1033.1C1322.3,1024.7 1324.6,1016.2 1327.5,1007.8C1330.4,999.3 1334,990.9 1338.9,982.5C1343.9,974 1354.1,961.4 1357.2,957.1" stroke="#7f7f7f"/>
<polygon points="1357.2,957.1 1355.2,965.6 1353.9,961.7 1349.8,961.7" fill="#7f7f7f" stroke="none"/>
<path d="M1364.9,1134.4C1368.1,1130.8 1379.1,1120.1 1384.4,1113C1389.7,1105.8 1393.5,1098.7 1396.8,1091.6C1400.1,1084.4 1402.3,1077.3 1404.1,1070.1C1405.8,1063 1407.2,1055.9 1407.2,1048.7C1407.2,1041.6 1405.9,1034.4 1404.1,1027.3C1402.2,1020.2 1399.6,1013 1396.3,1005.9C1393,998.7 1386.1,988 1384,984.5" stroke="#7f7f7f"/>
<polygon points="1384,984.5 1390.9,989.7 1386.8,989.3 1385.1,993.1" fill="#7f7f7f" stroke="none"/>
<path d="M1364.5,1134.4C1363.7,1130.4 1360.8,1118.3 1359.5,1110.3C1358.2,1102.3 1357.5,1094.3 1356.8,1086.2C1356.1,1078.2 1355.4,1070.2 1355.3,1062.2C1355.2,1054.1 1355.9,1046.1 1356.1,1038.1C1356.3,1030.1 1356,1022 1356.6,1014C1357.2,1006 1358.5,998 1359.6,989.9C1360.6,981.9 1362.3,969.9 1362.8,965.9" stroke="#7f7f7f"/>
<polygon points="1362.8,965.9 1365.1,974.2 1362.1,971.4 1358.4,973.3" fill="#7f7f7f" stroke="none"/>
<path d="M1364.9,1134.4C1363.8,1130 1359.8,1116.7 1358.2,1107.8C1356.6,1099 1356.4,1090.1 1355.4,1081.2C1354.3,1072.4 1352.3,1063.5 1351.8,1054.6C1351.3,1045.8 1352,1036.9 1352.5,1028.1C1353,1019.2 1353.7,1010.3 1354.6,1001.5C1355.6,992.6 1356.7,983.8 1358.3,974.9C1359.8,966 1363.1,952.7 1364,948.3" stroke="#7f7f7f"/>
<polygon points="1364,948.3 1365.6,956.8 1362.9,953.8 1359.1,955.4" fill="#7f7f7f" stroke="none"/>
<path d="M1364.8,1134.4C1367,1131.3 1374.7,1121.9 1378.4,1115.7C1382.1,1109.5 1384.6,1103.2 1387,1097C1389.4,1090.8 1391.2,1084.5 1392.8,1078.3C1394.5,1072.1 1395.8,1065.8 1396.7,1059.6C1397.5,1053.4 1398,1047.1 1398,1040.9C1398,1034.7 1397.6,1028.4 1396.5,1022.2C1395.4,1015.9 1392.3,1006.6 1391.4,1003.5" stroke="#7f7f7f"/>
<polygon points="1391.4,1003.5 1396.8,1010.3 1392.9,1008.9 1390.3,1012.1" fill="#7f7f7f" stroke="none"/>
<path d="M1365.1,1134.4C1366.6,1130.9 1371.7,1120.3 1374.2,1113.2C1376.7,1106.2 1378.3,1099.1 1380.1,1092C1381.8,1085 1383.5,1077.9 1384.4,1070.8C1385.4,1063.8 1385.8,1056.7 1385.9,1049.7C1386.1,1042.6 1386.1,1035.5 1385.6,1028.5C1385,1021.4 1384,1014.4 1382.4,1007.3C1380.9,1000.2 1377.4,989.6 1376.4,986.1" stroke="#7f7f7f"/>
<polygon points="1376.4,986.1 1381.8,992.9 1377.9,991.5 1375.3,994.7" fill="#7f7f7f" stroke="none"/>
<path d="M1364.7,1134.4C1372.5,1131.7 1400.4,1127.4 1411.5,1118.3C1422.6,1109.2 1426.4,1092.3 1431.3,1079.6C1436.2,1066.9 1439.2,1053.4 1440.8,1042.1C1442.5,1030.7 1442.5,1021.5 1441,1011.3C1439.5,1001 1436.6,990.7 1431.9,980.5C1427.1,970.2 1422.5,960 1412.5,949.7C1402.4,939.4 1378.3,924 1371.5,918.9" stroke="#8c8c8c"/>
<polygon points="1371.5,918.9 1379.9,921 1375.9,922.3 1375.8,926.4" fill="#8c8c8c" stroke="none"/>
<path d="M1364.7,1134.4C1371.9,1132.6 1397.4,1130.3 1407.8,1123.4C1418.1,1116.6 1421.9,1104.6 1426.9,1093.5C1431.8,1082.4 1435.2,1067.3 1437.5,1056.8C1439.8,1046.4 1440.8,1039.6 1440.6,1031C1440.5,1022.4 1439.1,1013.8 1436.5,1005.1C1433.9,996.5 1430.2,987.9 1424.8,979.3C1419.5,970.7 1407.8,957.7 1404.4,953.4" stroke="#8c8c8c"/>
<polygon points="1404.4,953.4 1412,957.6 1407.8,957.8 1406.7,961.8" fill="#8c8c8c" stroke="none"/>
<path d="M1364.7,1134.4C1371.9,1131.2 1397.5,1122.8 1407.8,1115.1C1418.2,1107.5 1422,1097.9 1426.9,1088.7C1431.8,1079.4 1435.1,1068.8 1437.3,1059.9C1439.5,1051 1440.5,1043.4 1440.2,1035.1C1439.9,1026.8 1438.4,1018.5 1435.6,1010.2C1432.9,1002 1429,993.7 1423.4,985.4C1417.8,977.1 1405.6,964.7 1402,960.6" stroke="#8c8c8c"/>
<polygon points="1402,960.6 1409.8,964.4 1405.7,964.8 1404.7,968.8" fill="#8c8c8c" stroke="none"/>
<path d="M1364.7,1134.4C1368.9,1133.4 1383.9,1131.2 1390.2,1128.1C1396.5,1125.1 1399,1121.5 1402.6,1116.2C1406.1,1110.8 1408.9,1103.8 1411.4,1096.1C1413.9,1088.3 1415.9,1077.1 1417.5,1069.9C1419.2,1062.6 1420.4,1058.1 1421.3,1052.5C1422.2,1046.9 1422.6,1041.6 1422.7,1036.1C1422.8,1030.7 1422,1022.5 1421.9,1019.8" stroke="#8c8c8c"/>
<polygon points="1421.9,1019.8 1425.7,1027.6 1422.2,1025.4 1418.9,1027.9" fill="#8c8c8c" stroke="none"/>
<path d="M1364.7,1134.4C1369.1,1131.7 1384.7,1124.2 1391.2,1118.4C1397.7,1112.6 1400.3,1106.4 1403.8,1099.5C1407.3,1092.6 1410,1084.4 1412.3,1076.9C1414.6,1069.4 1416.4,1061.6 1417.7,1054.6C1418.9,1047.5 1419.7,1041.3 1420,1034.6C1420.3,1028 1420.1,1021.3 1419.4,1014.7C1418.7,1008 1416.5,998 1415.9,994.7" stroke="#8c8c8c"/>
<polygon points="1415.9,994.7 1420.6,1002 1416.9,1000.2 1414,1003.2" fill="#8c8c8c" stroke="none"/>
<path d="M1364.7,1134.4C1369.3,1133.1 1385.4,1130.7 1392.2,1126.4C1398.9,1122.1 1401.5,1116.6 1405.2,1108.7C1408.8,1100.8 1411.6,1088.6 1413.9,1079.1C1416.3,1069.6 1418,1059.7 1419.3,1051.7C1420.6,1043.7 1421.3,1037.9 1421.5,1031C1421.7,1024.1 1421.4,1017.3 1420.6,1010.4C1419.8,1003.5 1417.3,993.1 1416.6,989.7" stroke="#8c8c8c"/>
<polygon points="1416.6,989.7 1421.4,996.9 1417.7,995.2 1414.8,998.2" fill="#8c8c8c" stroke="none"/>
<path d="M1364.7,1134.4C1358.1,1133.3 1334.7,1134 1325.1,1128.1C1315.6,1122.1 1312,1110.7 1307.3,1098.6C1302.6,1086.5 1299.3,1067.1 1296.9,1055.6C1294.5,1044 1293.2,1038.1 1292.9,1029.3C1292.6,1020.6 1293.4,1011.8 1295.2,1003C1296.9,994.3 1299.7,985.5 1303.7,976.8C1307.7,968 1316.6,954.9 1319.1,950.5" stroke="#8c8c8c"/>
<polygon points="1319.1,950.5 1318,959.1 1316.3,955.3 1312.2,955.7" fill="#8c8c8c" stroke="none"/>
<path d="M1364.7,1134.4C1358.4,1132.2 1336,1128.1 1326.9,1121.1C1317.7,1114.1 1314.4,1103.4 1309.9,1092.6C1305.5,1081.8 1302.4,1066.9 1300.3,1056.6C1298.1,1046.2 1297,1039.3 1296.8,1030.6C1296.7,1022 1297.6,1013.3 1299.5,1004.7C1301.5,996 1304.3,987.4 1308.5,978.7C1312.6,970.1 1321.7,957.1 1324.4,952.8" stroke="#8c8c8c"/>
<polygon points="1324.4,952.8 1323.1,961.3 1321.5,957.5 1317.3,957.8" fill="#8c8c8c" stroke="none"/>
<path d="M1364.7,1134.4C1370.4,1130.2 1390.6,1117.8 1398.8,1109C1406.9,1100.2 1409.8,1090.6 1413.6,1081.4C1417.4,1072.1 1419.9,1062.5 1421.5,1053.3C1423,1044.2 1423.6,1035.3 1423.1,1026.3C1422.6,1017.3 1421.1,1008.3 1418.5,999.3C1416,990.3 1412.6,981.3 1407.6,972.3C1402.5,963.3 1391.4,949.8 1388.2,945.3" stroke="#8c8c8c"/>
<polygon points="1388.2,945.3 1395.6,949.8 1391.5,949.8 1390.1,953.7" fill="#8c8c8c" stroke="none"/>
<path d="M1364.7,1134.4C1358.9,1131.9 1338.4,1127.5 1330.1,1119.5C1321.8,1111.5 1318.9,1097.7 1315.1,1086.3C1311.4,1074.9 1308.9,1061.7 1307.4,1051.2C1306,1040.7 1305.6,1032.7 1306.3,1023.5C1306.9,1014.2 1308.6,1005 1311.5,995.7C1314.4,986.5 1318,977.2 1323.6,968C1329.3,958.7 1341.8,944.9 1345.5,940.2" stroke="#8c8c8c"/>
<polygon points="1345.5,940.2 1343.2,948.6 1342,944.6 1337.9,944.5" fill="#8c8c8c" stroke="none"/>
<path d="M1364.7,1134.4C1370.9,1132.5 1392.6,1127.9 1401.6,1123C1410.7,1118 1414.2,1112 1419,1104.5C1423.8,1097 1427.5,1086.2 1430.5,1077.8C1433.5,1069.5 1435.7,1061.7 1437.2,1054.5C1438.7,1047.3 1439.5,1041.2 1439.5,1034.5C1439.5,1027.9 1438.8,1021.2 1437.4,1014.5C1435.9,1007.9 1431.9,997.9 1430.8,994.6" stroke="#8c8c8c"/>
<polygon points="1430.8,994.6 1436.5,1001.1 1432.5,999.9 1430.1,1003.2" fill="#8c8c8c" stroke="none"/>
<path d="M1364.7,1134.4C1359,1133.4 1338.9,1133.9 1330.7,1128.3C1322.4,1122.7 1319.4,1111.9 1315.4,1100.8C1311.4,1089.8 1308.6,1072.5 1306.6,1062C1304.6,1051.5 1303.5,1045.9 1303.3,1037.8C1303.1,1029.8 1303.9,1021.7 1305.5,1013.7C1307.2,1005.6 1309.6,997.6 1313.2,989.5C1316.8,981.5 1324.8,969.4 1327.1,965.4" stroke="#8c8c8c"/>
<polygon points="1327.1,965.4 1326,974 1324.3,970.2 1320.2,970.6" fill="#8c8c8c" stroke="none"/>
<path d="M1364.7,1134.4C1371.3,1136 1393.2,1140.9 1404,1144.2C1414.8,1147.4 1425.3,1152.3 1429.5,1153.9" stroke="#8c8c8c"/>
<path d="M1364.7,1134.4C1370.3,1138 1390.1,1148.8 1398.4,1156C1406.7,1163.2 1411.9,1174 1414.6,1177.6" stroke="#8c8c8c"/>
<path d="M1364.7,1134.4C1369.6,1139.1 1387.2,1153 1394.1,1162.3C1400.9,1171.7 1403.8,1185.6 1405.8,1190.3" stroke="#8c8c8c"/>
<path d="M1364.7,1134.4C1369.1,1140.5 1382.2,1158.8 1391.2,1171C1400.3,1183.2 1414.3,1201.5 1418.9,1207.6" stroke="#8c8c8c"/>
<path d="M1364.7,1134.4C1367.9,1141.2 1377.6,1161.4 1383.6,1175C1389.7,1188.5 1398,1208.7 1400.8,1215.5" stroke="#8c8c8c"/>
<path d="M1364.7,1134.4C1367.6,1141.6 1374,1163.1 1382,1177.5C1390,1191.9 1407.5,1213.5 1412.6,1220.6" stroke="#8c8c8c"/>
<path d="M1364.7,1134.4C1366.3,1141.8 1369.7,1164 1374,1178.9C1378.3,1193.7 1387.7,1215.9 1390.5,1223.3" stroke="#8c8c8c"/>
<path d="M1364.7,1134.4C1364.7,1141.9 1366.7,1164.3 1364.7,1179.2C1362.7,1194.2 1354.8,1216.6 1352.9,1224.1" stroke="#8c8c8c"/>
<path d="M1364.7,1134.4C1363.7,1141.9 1362.4,1164.4 1358.5,1179.3C1354.5,1194.3 1343.9,1216.8 1341,1224.3" stroke="#8c8c8c"/>
<path d="M1364.7,1134.4C1364,1141.7 1359.3,1163.8 1360.3,1178.4C1361.2,1193.1 1368.7,1215.1 1370.4,1222.5" stroke="#8c8c8c"/>
<path d="M1364.7,1134.4C1362.9,1141.4 1354.7,1162.4 1353.6,1176.4C1352.5,1190.4 1357.3,1211.3 1358.1,1218.3" stroke="#8c8c8c"/>
<path d="M1364.7,1134.4C1360.2,1140.5 1347.3,1159 1337.9,1171.3C1328.4,1183.6 1312.9,1202 1307.9,1208.1" stroke="#8c8c8c"/>
<path d="M1364.7,1134.4C1359.9,1139.6 1343.6,1155.1 1335.9,1165.4C1328.3,1175.8 1321.6,1191.3 1318.7,1196.4" stroke="#8c8c8c"/>
<path d="M1364.7,1134.4C1358.6,1138.6 1339.9,1151.1 1328.2,1159.4C1316.5,1167.7 1300.2,1180.2 1294.6,1184.4" stroke="#8c8c8c"/>
<path d="M1364.7,1134.4C1357.8,1136.7 1336.4,1143.8 1323,1148.4C1309.7,1153.1 1291.1,1160.1 1284.7,1162.5" stroke="#8c8c8c"/>
<path d="M1364.7,1134.4C1357.2,1135.5 1335,1138.7 1319.9,1140.9C1304.8,1143.1 1281.9,1146.3 1274.3,1147.4" stroke="#8c8c8c"/>
<path d="M1364.7,1134.4C1361.6,1135.5 1351.8,1140 1345.8,1141.4C1339.9,1142.7 1334.2,1143.6 1328.8,1142.3C1323.5,1141.1 1317.5,1137.4 1313.7,1133.8C1309.9,1130.2 1306.8,1126.6 1306.2,1120.6C1305.5,1114.6 1307.1,1105.1 1309.9,1097.9C1312.8,1090.7 1318.1,1082 1323.2,1077.1C1328.2,1072.2 1335.1,1069.6 1340.2,1068.6C1345.2,1067.7 1349.6,1068.1 1353.4,1071.4C1357.2,1074.7 1360.3,1081.5 1362.9,1088.5C1365.4,1095.4 1367.6,1108.9 1368.5,1113" stroke="#8c8c8c"/>
<polygon points="1368.5,1113 1363.4,1106 1367.3,1107.6 1370,1104.5" fill="#8c8c8c" stroke="none"/>
<path d="M1364.7,1134.4C1367.9,1135.5 1377.3,1137.4 1383.6,1141.4C1389.9,1145.4 1396.2,1156.2 1402.5,1158.4C1408.8,1160.6 1416.1,1158.4 1421.4,1154.6C1426.8,1150.8 1431.5,1142.6 1434.7,1135.7C1437.9,1128.8 1439.7,1116.8 1440.7,1113" stroke="#8c8c8c"/>
<polygon points="1440.7,1113 1441.9,1121.6 1439.3,1118.4 1435.4,1119.9" fill="#8c8c8c" stroke="none"/>
<path d="M1364.7,1134.4C1368.5,1138.4 1379.9,1154.4 1387.4,1158.4C1395,1162.4 1403.2,1159 1410.1,1158.4C1417,1157.8 1423.9,1155.7 1429,1154.6C1434.1,1153.5 1438.8,1152.2 1440.7,1151.8" stroke="#8c8c8c"/>
<polygon points="1440.7,1151.8 1433.7,1156.9 1435.3,1153.1 1432.2,1150.4" fill="#8c8c8c" stroke="none"/>
<path d="M1364.7,1134.4C1369.2,1134.6 1383.6,1138.6 1391.2,1135.7C1398.8,1132.8 1404.4,1124.7 1410.1,1116.8C1415.8,1108.9 1421.1,1097.3 1425.2,1088.5C1429.3,1079.6 1432.1,1069.4 1434.7,1063.9C1437.3,1058.4 1439.7,1056.8 1440.7,1055.4" stroke="#8c8c8c"/>
<polygon points="1440.7,1055.4 1438.8,1063.8 1437.5,1059.9 1433.3,1059.9" fill="#8c8c8c" stroke="none"/>
<path d="M1364.7,1134.4C1369.8,1137.1 1386.2,1146.8 1395,1150.8C1403.8,1154.8 1411.4,1159.3 1417.7,1158.4C1424,1157.4 1428.9,1149.4 1432.8,1145.2C1436.6,1140.9 1439.4,1134.9 1440.7,1132.9" stroke="#8c8c8c"/>
<polygon points="1440.7,1132.9 1439.2,1141.4 1437.7,1137.6 1433.6,1137.8" fill="#8c8c8c" stroke="none"/>
<path d="M1364.7,1134.4C1361,1137.7 1349,1147.4 1342.1,1154.6C1335.1,1161.8 1329.5,1174.8 1323.2,1177.3C1316.9,1179.8 1309,1173.5 1304.3,1169.7C1299.5,1165.9 1297.4,1159.6 1294.8,1154.6C1292.2,1149.6 1289.8,1142 1288.8,1139.5" stroke="#8c8c8c"/>
<polygon points="1288.8,1139.5 1294.9,1145.7 1290.8,1144.7 1288.6,1148.2" fill="#8c8c8c" stroke="none"/>
<path d="M1364.7,1134.4C1361.6,1136.2 1351.8,1141.1 1345.8,1145.2C1339.9,1149.2 1333.9,1155.9 1328.8,1158.4C1323.8,1160.9 1318.4,1160.9 1315.6,1160.3C1312.8,1159.6 1311.2,1154.8 1311.8,1154.6C1312.5,1154.4 1318.1,1158.5 1319.4,1159.3" stroke="#8c8c8c"/>
<polygon points="1319.4,1159.3 1310.8,1157.9 1314.6,1156.4 1314.4,1152.2" fill="#8c8c8c" stroke="none"/>
<path d="M1364.7,1134.4C1360.3,1138.4 1346.5,1151.9 1338.3,1158.4C1330.1,1164.9 1321.3,1172.9 1315.6,1173.5C1309.9,1174.1 1306.5,1164.7 1304.3,1162.2C1302.1,1159.6 1299.2,1156 1302.4,1158.4C1305.5,1160.7 1319.7,1173.3 1323.2,1176.3" stroke="#8c8c8c"/>
<polygon points="1323.2,1176.3 1314.9,1173.6 1318.9,1172.7 1319.3,1168.6" fill="#8c8c8c" stroke="none"/>
<path d="M1287.3,1045C1287.9,1039.6 1289.5,1022.9 1291,1012.9C1292.6,1002.8 1294.2,993 1296.7,984.5C1299.2,976 1302.4,968.4 1306.2,961.8C1309.9,955.2 1314.7,949.1 1319.4,944.8C1324.1,940.6 1329.5,937.4 1334.5,936.3C1339.5,935.2 1346.3,937.6 1349.6,938.2C1352.9,938.8 1353.6,939.8 1354.3,940.1" stroke="#8c8c8c"/>
<polygon points="1354.3,940.1 1345.7,940.2 1349.1,938 1348.2,934" fill="#8c8c8c" stroke="none"/>
<path d="M1395,1186.7C1397.5,1181.4 1405.7,1166.3 1410.1,1154.6C1414.5,1142.9 1418.3,1129.4 1421.4,1116.8C1424.6,1104.2 1427.4,1091.6 1429,1079C1430.6,1066.4 1430.9,1053.8 1430.9,1041.2C1430.9,1028.6 1429.9,1013.5 1429,1003.4C1428.1,993.3 1424.3,986.4 1425.2,980.7C1426.2,975.1 1433.1,971.3 1434.7,969.4" stroke="#8c8c8c"/>
<polygon points="1434.7,969.4 1432.1,977.7 1431.1,973.7 1427,973.4" fill="#8c8c8c" stroke="none"/>
<path d="M1419.6,1186.7C1421.4,1183 1428.4,1174.1 1430.9,1164.1C1433.4,1154 1434.4,1140.4 1434.7,1126.3C1435,1112.1 1433.7,1096.3 1432.8,1079C1431.8,1061.7 1430.6,1038.1 1429,1022.3C1427.4,1006.6 1423.3,992.8 1423.3,984.5C1423.3,976.2 1428.1,974.3 1429,972.2" stroke="#8c8c8c"/>
<polygon points="1429,972.2 1428.7,980.9 1426.7,977.3 1422.6,978.1" fill="#8c8c8c" stroke="none"/>
<path d="M1300.5,1186.7C1299.2,1181.4 1294.5,1169.4 1292.9,1154.6C1291.3,1139.8 1290.7,1116.8 1291,1097.9C1291.3,1079 1293.6,1055.4 1294.8,1041.2C1296.1,1027 1297.6,1019.2 1298.6,1012.9C1299.5,1006.6 1300.2,1005 1300.5,1003.4" stroke="#8c8c8c"/>
<polygon points="1300.5,1003.4 1302.2,1011.9 1299.4,1008.9 1295.6,1010.6" fill="#8c8c8c" stroke="none"/>
<path d="M1323.2,1186.7C1320.6,1178.2 1311.5,1153.7 1308,1135.7C1304.6,1117.7 1303.3,1096.3 1302.4,1079C1301.4,1061.7 1301.7,1045 1302.4,1031.8C1303,1018.5 1305.5,1005 1306.2,999.6" stroke="#8c8c8c"/>
<polygon points="1306.2,999.6 1308.6,1008 1305.5,1005.2 1301.9,1007.2" fill="#8c8c8c" stroke="none"/>
<path d="M1442.2,973.2C1441.3,969.7 1439.1,959 1436.6,952.4C1434,945.8 1430.9,938.8 1427.1,933.5C1423.3,928.1 1416.1,922.4 1413.9,920.2" stroke="#8c8c8c"/>
<polygon points="1413.9,920.2 1421.9,923.5 1417.8,924.2 1417.2,928.3" fill="#8c8c8c" stroke="none"/>
<path d="M1323.2,937.3C1324.1,935.4 1326.8,928.6 1328.8,925.9C1330.9,923.2 1334.3,922 1335.4,921.2" stroke="#8c8c8c"/>
<polygon points="1335.4,921.2 1330.9,928.6 1330.9,924.4 1327,923.1" fill="#8c8c8c" stroke="none"/>
<path d="M1387.4,937.3C1388.1,935.7 1389.9,930.5 1391.2,927.8C1392.5,925.1 1394.4,922.3 1395,921.2" stroke="#8c8c8c"/>
<polygon points="1395,921.2 1393.9,929.8 1392.2,926 1388.1,926.5" fill="#8c8c8c" stroke="none"/>
<path d="M1355.3,927.8C1356.2,927.2 1359.4,924.2 1361,924C1362.5,923.9 1363.8,926.4 1364.4,926.9" stroke="#8c8c8c"/>
<polygon points="1364.4,926.9 1356.1,924.3 1360.1,923.3 1360.4,919.2" fill="#8c8c8c" stroke="none"/>
<path d="M1391.2,1022.3C1393.1,1020.4 1399.1,1014.1 1402.5,1011C1406,1007.8 1409.5,1005.6 1412,1003.4C1414.5,1001.2 1416.7,998.7 1417.7,997.7" stroke="#8c8c8c"/>
<polygon points="1417.7,997.7 1414.4,1005.8 1413.7,1001.7 1409.6,1001" fill="#8c8c8c" stroke="none"/>
<path d="M1404.4,1082.8C1404.7,1079 1405.4,1067 1406.3,1060.1C1407.3,1053.2 1409,1046.1 1410.1,1041.2C1411.2,1036.3 1412.5,1032.5 1412.9,1030.8" stroke="#8c8c8c"/>
<polygon points="1412.9,1030.8 1414.1,1039.4 1411.5,1036.2 1407.6,1037.6" fill="#8c8c8c" stroke="none"/>
<path d="M1383.6,1088.5C1383.6,1085.3 1383.6,1074.6 1383.6,1069.6C1383.7,1064.5 1384,1060.1 1384,1058.2" stroke="#8c8c8c"/>
<polygon points="1384,1058.2 1387.1,1066.3 1383.8,1063.8 1380.4,1066.1" fill="#8c8c8c" stroke="none"/>
</g>
</g>
<path d="M1282,918.3L1282,1188.6" stroke="#2b2b2b" stroke-width="1.5" />
<path d="M1271,954.8L1282,954.8" stroke="#2b2b2b" stroke-width="1.5" />
<text transform="translate(1246.3,963.1) scale(1.015,1)" font-size="23.2">0</text>
<path d="M1271,1044.6L1282,1044.6" stroke="#2b2b2b" stroke-width="1.5" />
<text transform="translate(1226.5,1052.9) scale(1.023,1)" font-size="23.2">0.5</text>
<path d="M1271,1134.4L1282,1134.4" stroke="#2b2b2b" stroke-width="1.5" />
<text transform="translate(1228.5,1142.7) scale(0.961,1)" font-size="23.2">1.0</text>
<path d="M1287.2,1198L1443.2,1198" stroke="#2b2b2b" stroke-width="1.5" />
<path d="M1300.5,1198L1300.5,1208" stroke="#2b2b2b" stroke-width="1.5" />
<text transform="translate(1290.2,1232.7) scale(0.835,1)" font-size="23.2">–1</text>
<path d="M1364.7,1198L1364.7,1208" stroke="#2b2b2b" stroke-width="1.5" />
<text transform="translate(1358.2,1232.7) scale(1.000,1)" font-size="23.2">0</text>
<path d="M1428.4,1198L1428.4,1208" stroke="#2b2b2b" stroke-width="1.5" />
<text transform="translate(1421.9,1232.7) scale(1.000,1)" font-size="23.2">1</text>
<text transform="translate(1175,1052.2) rotate(-90) scale(1.096,1)" x="-134.8" font-size="26.5">Normalized distance to</text>
<text transform="translate(1204.3,1054.2) rotate(-90) scale(1.090,1)" x="-142.9" font-size="26.5">previous shelter location</text>
<rect x="1260.5" y="861.0" width="188.2" height="19.8" fill="#000"/>
<text transform="translate(1331,876.6) scale(1.060,1)" font-size="16" fill="#f2f2f2">dPAG</text>
<text transform="translate(1237,905.5) scale(1.063,1)" font-size="22.8">Previous shelter location</text>
<circle cx="1365.4" cy="1371.9" r="14.6" fill="#8f91c9" opacity="0.95"/>
<rect x="1363.3" y="1369.8" width="4.2" height="4.2" fill="none" stroke="#15154a" stroke-width="1.2"/>
<g fill="none" stroke-width="1.8" stroke-opacity="0.6" fill-opacity="0.6" stroke-linecap="round">
<path d="M1365.2,1555C1363.1,1551 1355.7,1538.8 1352.3,1530.7C1349,1522.6 1347,1514.6 1345,1506.5C1342.9,1498.4 1341.3,1490.3 1340.3,1482.2C1339.2,1474.1 1338.6,1466 1338.6,1457.9C1338.5,1449.8 1339.1,1441.8 1340.1,1433.7C1341.1,1425.6 1342.5,1417.5 1344.5,1409.4C1346.6,1401.3 1351.2,1389.2 1352.5,1385.1" stroke="#7a7a7a"/>
<polygon points="1352.5,1385.1 1353.1,1392.7 1351,1389.8 1347.5,1390.9" fill="#7a7a7a" stroke="none"/>
<path d="M1365,1555C1362.9,1551.1 1355.9,1539.5 1352.6,1531.7C1349.4,1523.9 1347.3,1516.1 1345.2,1508.4C1343.2,1500.6 1341.4,1492.8 1340.5,1485.1C1339.5,1477.3 1339.4,1469.5 1339.5,1461.7C1339.6,1454 1340.1,1446.2 1341.2,1438.4C1342.3,1430.6 1343.8,1422.9 1345.9,1415.1C1348,1407.3 1352.3,1395.7 1353.6,1391.8" stroke="#7a7a7a"/>
<path d="M1364.6,1555C1365.3,1550.8 1367.9,1538.4 1369.1,1530.1C1370.3,1521.8 1371.2,1513.4 1371.8,1505.1C1372.4,1496.8 1372.4,1488.5 1372.6,1480.2C1372.9,1471.9 1373.3,1463.6 1373.3,1455.3C1373.3,1447 1373,1438.7 1372.7,1430.3C1372.4,1422 1372.1,1413.7 1371.3,1405.4C1370.6,1397.1 1368.8,1384.6 1368.3,1380.5" stroke="#7a7a7a"/>
<path d="M1365.2,1555C1364,1550.7 1360,1537.8 1358.2,1529.2C1356.4,1520.6 1355.1,1512 1354.2,1503.4C1353.3,1494.8 1353.2,1486.2 1352.9,1477.6C1352.6,1469 1352.2,1460.4 1352.3,1451.9C1352.4,1443.3 1352.9,1434.7 1353.6,1426.1C1354.3,1417.5 1355.3,1408.9 1356.5,1400.3C1357.8,1391.7 1360.4,1378.8 1361.1,1374.5" stroke="#7a7a7a"/>
<path d="M1365.2,1555C1369.2,1550.9 1382.9,1538.7 1389,1530.5C1395.2,1522.3 1398.7,1514.2 1402.3,1506C1405.8,1497.8 1408.4,1489.7 1410.1,1481.5C1411.8,1473.3 1412.6,1465.2 1412.2,1457C1411.8,1448.9 1409.9,1440.7 1407.5,1432.5C1405,1424.4 1401.9,1416.2 1397.5,1408C1393.1,1399.9 1383.8,1387.6 1381.1,1383.5" stroke="#7a7a7a"/>
<polygon points="1381.1,1383.5 1387.4,1387.7 1383.8,1387.6 1382.6,1391" fill="#7a7a7a" stroke="none"/>
<path d="M1365,1555C1364.6,1551.1 1363.5,1539.5 1362.9,1531.7C1362.3,1523.9 1361.6,1516.2 1361.2,1508.4C1360.7,1500.6 1360.3,1492.9 1360.2,1485.1C1360,1477.3 1360.1,1469.6 1360.1,1461.8C1360.2,1454 1360.1,1446.3 1360.4,1438.5C1360.7,1430.7 1361.6,1423 1361.9,1415.2C1362.3,1407.4 1362.5,1395.8 1362.6,1391.9" stroke="#7a7a7a"/>
<path d="M1365.1,1555C1363.6,1551.1 1358.4,1539.5 1356.2,1531.7C1353.9,1524 1353,1516.2 1351.6,1508.5C1350.3,1500.7 1348.8,1492.9 1348.1,1485.2C1347.5,1477.4 1347.6,1469.7 1347.6,1461.9C1347.7,1454.2 1347.9,1446.4 1348.5,1438.6C1349.1,1430.9 1350,1423.1 1351.4,1415.4C1352.8,1407.6 1355.8,1396 1356.7,1392.1" stroke="#7a7a7a"/>
<path d="M1364.7,1555C1361.6,1550.9 1350.7,1538.4 1345.8,1530.2C1340.9,1521.9 1338,1513.6 1335.3,1505.3C1332.6,1497.1 1330.7,1488.8 1329.6,1480.5C1328.6,1472.2 1328.5,1464 1329,1455.7C1329.5,1447.4 1330.4,1439.1 1332.5,1430.8C1334.6,1422.6 1337.7,1414.3 1341.6,1406C1345.5,1397.7 1353.4,1385.3 1355.8,1381.2" stroke="#7a7a7a"/>
<path d="M1365.2,1555C1364.7,1550.9 1363.2,1538.4 1362.5,1530.1C1361.7,1521.8 1361,1513.5 1360.6,1505.3C1360.2,1497 1360.3,1488.7 1360.1,1480.4C1359.9,1472.1 1359.4,1463.8 1359.4,1455.5C1359.3,1447.2 1359.4,1438.9 1359.7,1430.6C1360.1,1422.3 1360.9,1414 1361.5,1405.8C1362,1397.5 1362.7,1385 1363,1380.9" stroke="#7a7a7a"/>
<polygon points="1363,1380.9 1365.5,1388 1362.7,1385.8 1359.6,1387.7" fill="#7a7a7a" stroke="none"/>
<path d="M1365.1,1555C1364.1,1551 1360.9,1538.9 1359.4,1530.9C1357.9,1522.8 1357,1514.8 1356,1506.8C1355,1498.7 1353.9,1490.7 1353.4,1482.6C1353,1474.6 1353.1,1466.6 1353.3,1458.5C1353.5,1450.5 1353.9,1442.4 1354.5,1434.4C1355,1426.4 1355.7,1418.3 1356.7,1410.3C1357.7,1402.2 1359.6,1390.2 1360.2,1386.2" stroke="#7a7a7a"/>
<path d="M1364.8,1555C1368.1,1550.7 1379.4,1537.9 1384.5,1529.3C1389.6,1520.7 1392.5,1512.1 1395.4,1503.6C1398.2,1495 1400.4,1486.4 1401.6,1477.9C1402.7,1469.3 1402.8,1460.7 1402.3,1452.2C1401.7,1443.6 1400.5,1435 1398.4,1426.4C1396.2,1417.9 1393.2,1409.3 1389.2,1400.7C1385.2,1392.2 1376.8,1379.3 1374.4,1375" stroke="#7a7a7a"/>
<path d="M1365.5,1555C1361.8,1551 1349.2,1539 1343.4,1530.9C1337.6,1522.9 1333.9,1514.9 1330.7,1506.9C1327.5,1498.8 1325.4,1490.8 1324.1,1482.8C1322.7,1474.8 1322,1466.7 1322.3,1458.7C1322.7,1450.7 1324.1,1442.7 1326.1,1434.6C1328,1426.6 1330.4,1418.6 1334.2,1410.6C1338,1402.6 1346.5,1390.5 1348.9,1386.5" stroke="#7a7a7a"/>
<path d="M1364.7,1555C1364.5,1551.1 1363.9,1539.3 1363.2,1531.4C1362.6,1523.5 1361.3,1515.6 1360.9,1507.8C1360.5,1499.9 1360.8,1492 1360.7,1484.1C1360.6,1476.3 1360.5,1468.4 1360.5,1460.5C1360.5,1452.6 1360.5,1444.8 1360.7,1436.9C1360.9,1429 1361.2,1421.1 1361.5,1413.3C1361.7,1405.4 1362.3,1393.6 1362.4,1389.6" stroke="#7a7a7a"/>
<polygon points="1362.4,1389.6 1365.1,1396.8 1362.2,1394.5 1359.2,1396.5" fill="#7a7a7a" stroke="none"/>
<path d="M1365.3,1555C1368.2,1550.7 1378,1537.8 1382.7,1529.2C1387.4,1520.5 1390.7,1511.9 1393.4,1503.3C1396.1,1494.7 1397.9,1486.1 1398.8,1477.5C1399.7,1468.8 1399.5,1460.2 1399,1451.6C1398.4,1443 1397.5,1434.4 1395.5,1425.8C1393.4,1417.2 1390.5,1408.5 1386.6,1399.9C1382.7,1391.3 1374.6,1378.4 1372.2,1374.1" stroke="#7a7a7a"/>
<path d="M1364.9,1555C1368.3,1550.6 1379.9,1537.4 1385.2,1528.5C1390.5,1519.7 1393.9,1510.9 1396.8,1502.1C1399.7,1493.2 1401.6,1484.4 1402.7,1475.6C1403.8,1466.8 1404.2,1457.9 1403.5,1449.1C1402.9,1440.3 1401,1431.5 1398.5,1422.7C1396,1413.8 1393.1,1405 1388.5,1396.2C1384,1387.4 1374.1,1374.1 1371.2,1369.7" stroke="#7a7a7a"/>
<path d="M1365.5,1555C1363.9,1550.7 1358.2,1537.8 1355.6,1529.2C1352.9,1520.6 1351.3,1512 1349.8,1503.4C1348.3,1494.8 1347.2,1486.2 1346.7,1477.6C1346.2,1469 1346.4,1460.4 1346.6,1451.8C1346.9,1443.2 1347.1,1434.6 1348,1426C1349,1417.4 1350.5,1408.8 1352.2,1400.2C1353.9,1391.6 1357.3,1378.7 1358.3,1374.4" stroke="#7a7a7a"/>
<path d="M1365,1555C1366.3,1550.5 1370.8,1536.9 1372.9,1527.8C1375.1,1518.8 1376.8,1509.7 1377.9,1500.7C1379.1,1491.6 1379.4,1482.5 1379.8,1473.5C1380.2,1464.4 1380.8,1455.4 1380.5,1446.3C1380.2,1437.2 1379.1,1428.2 1378.1,1419.1C1377,1410.1 1376.1,1401 1374.2,1392C1372.3,1382.9 1368,1369.3 1366.7,1364.8" stroke="#7a7a7a"/>
<polygon points="1366.7,1364.8 1371.4,1370.7 1368,1369.5 1365.7,1372.3" fill="#7a7a7a" stroke="none"/>
<path d="M1365.5,1555C1366.1,1550.5 1367.9,1537 1369,1528C1370.1,1519 1371.2,1510 1372,1501C1372.7,1492 1373.1,1483 1373.3,1474.1C1373.5,1465.1 1373.3,1456.1 1373.1,1447.1C1372.9,1438.1 1372.7,1429.1 1372.1,1420.1C1371.5,1411.1 1370.5,1402.1 1369.6,1393.1C1368.8,1384.1 1367.5,1370.6 1367.1,1366.1" stroke="#7a7a7a"/>
<path d="M1364.8,1555C1368,1550.6 1378.5,1537.6 1383.5,1528.8C1388.5,1520.1 1392.2,1511.4 1395.1,1502.7C1397.9,1494 1399.4,1485.3 1400.6,1476.5C1401.7,1467.8 1402.4,1459.1 1401.9,1450.4C1401.4,1441.7 1399.7,1433 1397.6,1424.2C1395.5,1415.5 1392.7,1406.8 1389.3,1398.1C1385.8,1389.4 1378.8,1376.3 1376.7,1371.9" stroke="#7a7a7a"/>
<path d="M1364.8,1555C1364.5,1551 1363.3,1538.9 1362.7,1530.9C1362,1522.9 1361.3,1514.8 1360.9,1506.8C1360.4,1498.7 1360.3,1490.7 1360.1,1482.7C1360,1474.6 1359.9,1466.6 1359.9,1458.6C1359.8,1450.5 1359.8,1442.5 1360,1434.4C1360.3,1426.4 1360.9,1418.4 1361.4,1410.3C1361.9,1402.3 1362.8,1390.2 1363.1,1386.2" stroke="#7a7a7a"/>
<path d="M1365,1555C1366.1,1550.8 1369.7,1538.2 1371.4,1529.8C1373,1521.4 1373.9,1513.1 1374.8,1504.7C1375.7,1496.3 1376.6,1487.9 1376.9,1479.5C1377.3,1471.1 1377.1,1462.7 1376.8,1454.3C1376.6,1445.9 1376.3,1437.6 1375.5,1429.2C1374.7,1420.8 1373.3,1412.4 1372,1404C1370.7,1395.6 1368.3,1383 1367.6,1378.8" stroke="#7a7a7a"/>
<polygon points="1367.6,1378.8 1371.7,1385.2 1368.4,1383.7 1365.9,1386.2" fill="#7a7a7a" stroke="none"/>
<path d="M1364.9,1555C1361.8,1551 1351.5,1539 1346.7,1531.1C1341.9,1523.1 1338.8,1515.1 1336,1507.1C1333.2,1499.2 1331,1491.2 1329.7,1483.2C1328.4,1475.2 1328.1,1467.3 1328.3,1459.3C1328.6,1451.3 1329.5,1443.3 1331.1,1435.3C1332.7,1427.4 1334.7,1419.4 1337.8,1411.4C1340.9,1403.4 1347.6,1391.5 1349.6,1387.5" stroke="#7a7a7a"/>
<path d="M1364.6,1555C1363.7,1550.8 1361,1538.2 1359.6,1529.7C1358.1,1521.3 1356.9,1512.9 1356.1,1504.5C1355.3,1496 1355.3,1487.6 1354.9,1479.2C1354.5,1470.8 1353.5,1462.3 1353.5,1453.9C1353.5,1445.5 1354.4,1437.1 1355,1428.7C1355.6,1420.2 1356.2,1411.8 1357.1,1403.4C1358.1,1395 1360,1382.3 1360.6,1378.1" stroke="#7a7a7a"/>
<path d="M1364.9,1555C1367.2,1550.8 1375.3,1538.1 1378.7,1529.7C1382.2,1521.2 1384,1512.8 1385.6,1504.3C1387.3,1495.9 1388.2,1487.4 1388.9,1479C1389.6,1470.5 1390.1,1462.1 1389.9,1453.6C1389.6,1445.2 1389.1,1436.8 1387.5,1428.3C1385.9,1419.9 1383.1,1411.4 1380.3,1403C1377.6,1394.5 1372.4,1381.9 1370.8,1377.6" stroke="#7a7a7a"/>
<path d="M1364.7,1555C1366.1,1551 1370.9,1539 1373.1,1531C1375.3,1523 1376.5,1515 1377.8,1507C1379,1499 1379.9,1490.9 1380.6,1482.9C1381.2,1474.9 1381.6,1466.9 1381.4,1458.9C1381.3,1450.9 1380.5,1442.9 1379.6,1434.9C1378.8,1426.9 1377.9,1418.9 1376.5,1410.9C1375.2,1402.9 1372.4,1390.9 1371.6,1386.9" stroke="#7a7a7a"/>
<polygon points="1371.6,1386.9 1375.9,1393.1 1372.6,1391.7 1370.1,1394.3" fill="#7a7a7a" stroke="none"/>
<path d="M1365.2,1555C1361.3,1550.8 1347.8,1538.2 1341.9,1529.9C1336,1521.5 1333,1513.1 1329.8,1504.7C1326.5,1496.3 1323.5,1488 1322.2,1479.6C1320.8,1471.2 1321,1462.8 1321.7,1454.4C1322.3,1446.1 1323.7,1437.7 1326.3,1429.3C1328.9,1420.9 1332.4,1412.5 1337.2,1404.2C1342.1,1395.8 1352.4,1383.2 1355.5,1379" stroke="#7a7a7a"/>
<path d="M1365.3,1555C1368,1550.7 1377.2,1537.9 1381.6,1529.3C1386,1520.7 1389.1,1512.1 1391.6,1503.6C1394,1495 1395.4,1486.4 1396.3,1477.9C1397.3,1469.3 1397.7,1460.7 1397.4,1452.1C1397,1443.6 1396.1,1435 1394.4,1426.4C1392.6,1417.9 1390.1,1409.3 1387,1400.7C1383.8,1392.1 1377.3,1379.3 1375.4,1375" stroke="#7a7a7a"/>
<path d="M1364.8,1555C1366.8,1550.8 1373.8,1538.1 1377.2,1529.7C1380.6,1521.2 1383.4,1512.8 1385.3,1504.3C1387.3,1495.9 1388.1,1487.5 1388.9,1479C1389.7,1470.6 1390.3,1462.1 1390.1,1453.7C1390,1445.3 1389.1,1436.8 1388,1428.4C1386.8,1419.9 1385.5,1411.5 1383.2,1403C1380.9,1394.6 1375.8,1381.9 1374.4,1377.7" stroke="#7a7a7a"/>
<path d="M1365,1555C1367,1551.1 1373.7,1539.4 1376.8,1531.6C1379.8,1523.9 1381.5,1516.1 1383.3,1508.3C1385.1,1500.5 1386.8,1492.7 1387.7,1484.9C1388.6,1477.2 1388.8,1469.4 1388.8,1461.6C1388.7,1453.8 1388,1446 1387.1,1438.2C1386.1,1430.4 1384.8,1422.7 1383,1414.9C1381.3,1407.1 1377.5,1395.4 1376.4,1391.5" stroke="#7a7a7a"/>
<polygon points="1376.4,1391.5 1381.1,1397.5 1377.7,1396.2 1375.5,1399.1" fill="#7a7a7a" stroke="none"/>
<path d="M1364.8,1555C1367.6,1550.9 1376.8,1538.7 1381.1,1530.5C1385.4,1522.3 1388.1,1514.2 1390.6,1506C1393,1497.8 1394.8,1489.7 1396,1481.5C1397.3,1473.3 1398,1465.1 1397.9,1457C1397.9,1448.8 1397,1440.6 1395.7,1432.5C1394.4,1424.3 1392.7,1416.1 1390.3,1408C1387.9,1399.8 1383,1387.5 1381.5,1383.5" stroke="#7a7a7a"/>
<path d="M1364.9,1555C1361.9,1550.7 1351.5,1537.7 1346.6,1529.1C1341.7,1520.4 1338.4,1511.8 1335.7,1503.1C1332.9,1494.5 1331.2,1485.9 1330.1,1477.2C1328.9,1468.6 1328.5,1459.9 1328.9,1451.3C1329.3,1442.6 1330.8,1434 1332.6,1425.4C1334.5,1416.7 1336.4,1408.1 1340,1399.4C1343.6,1390.8 1351.8,1377.8 1354.1,1373.5" stroke="#7a7a7a"/>
<path d="M1365,1555C1364.4,1550.7 1362.4,1538 1361.4,1529.5C1360.5,1520.9 1359.9,1512.4 1359.3,1503.9C1358.8,1495.4 1358.3,1486.9 1358.1,1478.4C1357.9,1469.9 1357.9,1461.4 1358,1452.8C1358.1,1444.3 1358.3,1435.8 1358.6,1427.3C1358.9,1418.8 1359.2,1410.3 1359.9,1401.8C1360.5,1393.2 1362,1380.5 1362.4,1376.2" stroke="#7a7a7a"/>
<path d="M1365.3,1555C1363.3,1551.1 1356.3,1539.5 1353.3,1531.7C1350.2,1524 1348.8,1516.2 1347,1508.4C1345.3,1500.7 1343.7,1492.9 1342.9,1485.2C1342.1,1477.4 1341.9,1469.6 1342.1,1461.9C1342.2,1454.1 1343,1446.3 1343.8,1438.6C1344.7,1430.8 1345.6,1423.1 1347.1,1415.3C1348.7,1407.5 1352.1,1395.9 1353.1,1392" stroke="#7a7a7a"/>
<polygon points="1353.1,1392 1354.2,1399.5 1351.9,1396.8 1348.5,1398.1" fill="#7a7a7a" stroke="none"/>
<path d="M1364.8,1555C1365.4,1551.1 1367.1,1539.5 1368.1,1531.7C1369.2,1524 1370.3,1516.2 1371,1508.4C1371.6,1500.7 1371.9,1492.9 1372.2,1485.1C1372.5,1477.4 1372.5,1469.6 1372.5,1461.9C1372.5,1454.1 1372.4,1446.3 1372.1,1438.6C1371.9,1430.8 1371.5,1423 1371,1415.3C1370.5,1407.5 1369.5,1395.9 1369.2,1392" stroke="#7a7a7a"/>
<path d="M1365.7,1555.1C1363.8,1556.2 1357.7,1557.3 1354.1,1561.8C1350.5,1566.2 1347.5,1581.7 1344.1,1581.7C1340.8,1581.7 1337.5,1573.4 1334.2,1561.8C1330.9,1550.1 1327,1528.6 1324.2,1512C1321.5,1495.4 1318.4,1478.8 1317.6,1462.2C1316.8,1445.6 1317.6,1426.8 1319.3,1412.4C1320.9,1398 1324,1384.2 1327.6,1375.9C1331.1,1367.6 1336.4,1365.4 1340.8,1362.6C1345.3,1359.8 1351.9,1359.8 1354.1,1359.3" stroke="#8c8c8c"/>
<polygon points="1354.1,1359.3 1348,1363.8 1349.4,1360.5 1346.6,1358.1" fill="#8c8c8c" stroke="none"/>
<path d="M1365.7,1555.1C1364.9,1557.3 1363.2,1566.7 1360.7,1568.4C1358.3,1570.1 1353,1566.2 1350.8,1565.1C1348.6,1564 1347.2,1560.9 1347.5,1561.8C1347.7,1562.6 1350.8,1569.8 1352.4,1570.1C1354.1,1570.3 1356.6,1564.5 1357.4,1563.4" stroke="#8c8c8c"/>
<polygon points="1357.4,1563.4 1355.6,1570.8 1354.5,1567.3 1350.9,1567.3" fill="#8c8c8c" stroke="none"/>
<path d="M1365.7,1555.1C1368.8,1554 1378.2,1554 1384,1548.5C1389.8,1542.9 1396.2,1533.5 1400.6,1521.9C1405,1510.3 1408.9,1494.3 1410.5,1478.8C1412.2,1463.3 1412.2,1443.9 1410.5,1429C1408.9,1414 1403.3,1399.1 1400.6,1389.1C1397.8,1379.2 1397.3,1372 1393.9,1369.2C1390.6,1366.5 1382.9,1372 1380.7,1372.5" stroke="#8c8c8c"/>
<polygon points="1380.7,1372.5 1386.7,1368 1385.4,1371.4 1388.2,1373.7" fill="#8c8c8c" stroke="none"/>
<path d="M1365.7,1555.1C1368.2,1552.9 1376.2,1548.5 1380.7,1541.8C1385.1,1535.2 1389.2,1528.6 1392.3,1515.3C1395.3,1502 1398.4,1479.3 1398.9,1462.2C1399.5,1445 1397.5,1426.2 1395.6,1412.4C1393.7,1398.5 1390.3,1386.7 1387.3,1379.2C1384.3,1371.7 1379,1369.5 1377.3,1367.6" stroke="#8c8c8c"/>
<polygon points="1377.3,1367.6 1384.1,1371 1380.5,1371.3 1379.7,1374.8" fill="#8c8c8c" stroke="none"/>
</g>
<path d="M1282,1336.7L1282,1605" stroke="#2b2b2b" stroke-width="1.5" />
<path d="M1271,1371.9L1282,1371.9" stroke="#2b2b2b" stroke-width="1.5" />
<text transform="translate(1246.3,1380.2) scale(1.015,1)" font-size="23.2">0</text>
<path d="M1271,1461.8L1282,1461.8" stroke="#2b2b2b" stroke-width="1.5" />
<text transform="translate(1226.5,1470.1) scale(1.023,1)" font-size="23.2">0.5</text>
<path d="M1271,1551.5L1282,1551.5" stroke="#2b2b2b" stroke-width="1.5" />
<text transform="translate(1228.5,1559.8) scale(0.961,1)" font-size="23.2">1.0</text>
<path d="M1287.7,1614.9L1442,1614.9" stroke="#2b2b2b" stroke-width="1.5" />
<path d="M1301,1614.9L1301,1624.9" stroke="#2b2b2b" stroke-width="1.5" />
<text transform="translate(1290.8,1653.4) scale(0.835,1)" font-size="23.2">–1</text>
<path d="M1365,1614.9L1365,1624.9" stroke="#2b2b2b" stroke-width="1.5" />
<text transform="translate(1358.5,1653.4) scale(1.000,1)" font-size="23.2">0</text>
<path d="M1429.5,1614.9L1429.5,1624.9" stroke="#2b2b2b" stroke-width="1.5" />
<text transform="translate(1423,1653.4) scale(1.000,1)" font-size="23.2">1</text>
<text transform="translate(1175,1469.2) rotate(-90) scale(1.096,1)" x="-134.8" font-size="26.5">Normalized distance to</text>
<text transform="translate(1204.3,1470.2) rotate(-90) scale(1.090,1)" x="-142.9" font-size="26.5">previous shelter location</text>
<rect x="1260.5" y="1279.0" width="188.2" height="19.9" fill="#000"/>
<text transform="translate(1331,1294.6) scale(1.060,1)" font-size="16" fill="#f2f2f2">dPAG</text>
<rect x="1260.5" y="1303.8" width="188.2" height="19.9" fill="#f7941d"/>
<text transform="translate(1270,1319.6) scale(1.111,1)" font-size="16" fill="#fde2a7">589-nm (reactivation)</text>
<g fill="none" stroke="#3a3a3a" stroke-width="0.9">
<circle cx="1640.3" cy="225.4" r="44.8"/>
<circle cx="1640.3" cy="225.4" r="89.6"/>
<circle cx="1640.3" cy="225.4" r="100.4"/>
<path d="M1640.3,325.8L1640.3,125M1590.1,312.3L1690.5,138.5M1553.4,275.6L1727.2,175.2M1539.9,225.4L1740.7,225.4M1553.4,175.2L1727.2,275.6M1590.1,138.5L1690.5,312.3"/></g>
<g fill="#b0b0b0" stroke="#5a5a5a" stroke-width="0.9" stroke-linejoin="round">
<polygon points="1640.3,225.4 1643.1,193 1640.3,192.9 1637.5,193"/>
<polygon points="1640.3,225.4 1635.7,173 1631.2,173.6 1626.7,174.6"/>
<polygon points="1640.3,225.4 1626.7,174.6 1622.3,175.9 1618.1,177.7"/>
<polygon points="1640.3,225.4 1625.2,192.9 1622.4,194.4 1619.7,196"/>
<polygon points="1640.3,225.4 1614.6,188.7 1611.5,191.1 1608.6,193.7"/>
<polygon points="1640.3,225.4 1608.6,193.7 1606,196.6 1603.6,199.7"/>
<polygon points="1640.3,225.4 1616.4,208.7 1615.1,210.8 1613.9,213.1"/>
<polygon points="1640.3,225.4 1622,216.9 1621.4,218.5 1620.8,220.2"/>
<polygon points="1640.3,225.4 1621.9,220.5 1621.5,222.1 1621.3,223.7"/>
<polygon points="1640.3,225.4 1620.2,223.6 1620.1,225.4 1620.2,227.2"/>
<polygon points="1640.3,225.4 1618,227.4 1618.2,229.3 1618.7,231.2"/>
<polygon points="1640.3,225.4 1619.7,230.9 1620.3,232.7 1621,234.4"/>
<polygon points="1640.3,225.4 1618,235.8 1619,237.7 1620.1,239.5"/>
<polygon points="1640.3,225.4 1625.6,235.7 1626.6,236.9 1627.6,238.1"/>
<polygon points="1640.3,225.4 1626,239.7 1627.3,240.8 1628.7,241.9"/>
<polygon points="1640.3,225.4 1632.6,236.4 1633.6,237 1634.6,237.6"/>
<polygon points="1640.3,225.4 1635.6,235.6 1636.5,235.9 1637.4,236.2"/>
<polygon points="1640.3,225.4 1638,234.1 1638.7,234.2 1639.5,234.3"/>
<polygon points="1640.3,225.4 1638.3,247.7 1640.3,247.8 1642.3,247.7"/>
<polygon points="1640.3,225.4 1641.6,239.9 1642.8,239.7 1644.1,239.5"/>
<polygon points="1640.3,225.4 1647.5,252.4 1649.9,251.7 1652.1,250.8"/>
<polygon points="1640.3,225.4 1660.7,269 1664.4,267.1 1667.9,264.9"/>
<polygon points="1640.3,225.4 1673.7,273.1 1677.7,270 1681.5,266.6"/>
<polygon points="1640.3,225.4 1664.1,249.2 1666,247 1667.8,244.7"/>
<polygon points="1640.3,225.4 1717.4,279.4 1721.8,272.4 1725.6,265.2"/>
<polygon points="1640.3,225.4 1674.8,241.5 1676.1,238.4 1677.1,235.3"/>
<polygon points="1640.3,225.4 1712.8,244.8 1714.2,238.4 1715.1,231.9"/>
<polygon points="1640.3,225.4 1664.8,227.5 1664.9,225.4 1664.8,223.3"/>
<polygon points="1640.3,225.4 1660.4,223.6 1660.2,221.9 1659.8,220.2"/>
<polygon points="1640.3,225.4 1667.3,218.2 1666.6,215.8 1665.7,213.6"/>
<polygon points="1640.3,225.4 1662.6,215 1661.6,213.1 1660.5,211.3"/>
<polygon points="1640.3,225.4 1656.8,213.8 1655.7,212.4 1654.6,211.1"/>
<polygon points="1640.3,225.4 1656.1,209.6 1654.7,208.2 1653.1,207.1"/>
<polygon points="1640.3,225.4 1657,201.5 1654.9,200.2 1652.6,199"/>
<polygon points="1640.3,225.4 1651.7,201 1649.5,200.1 1647.3,199.4"/>
<polygon points="1640.3,225.4 1648.7,194 1645.9,193.4 1643.1,193"/>
</g>
<rect x="1546.0" y="15.6" width="188.0" height="20.2" fill="#404040"/>
<text transform="translate(1613.5,31.2) scale(1.059,1)" font-size="16" fill="#f2f2f2">Threat</text>
<text transform="translate(1553.4,57.2) scale(0.999,1)" font-size="24.5">Toward previous</text>
<text transform="translate(1559.4,85.3) scale(1.010,1)" font-size="24.5">shelter location</text>
<text transform="translate(1631,116) scale(1.021,1)" font-size="24.5">0°</text>
<text transform="translate(1499,232) scale(1.022,1)" font-size="24.5">90°</text>
<text transform="translate(1748.3,232) scale(1.013,1)" font-size="24.5">–90°</text>
<text transform="translate(1618.3,350.7) scale(0.946,1)" font-size="24.5">180°</text>
<text transform="translate(1696,161.4) scale(0.868,1)" font-size="24.5">8%</text>
<text transform="translate(1664.8,192.3) scale(0.839,1)" font-size="24.5">4%</text>
<g fill="none" stroke="#3a3a3a" stroke-width="1.0">
<circle cx="1637.3" cy="673.5" r="33.8"/>
<circle cx="1637.3" cy="673.5" r="67.6"/>
<circle cx="1637.3" cy="673.5" r="99.4"/>
<path d="M1637.3,772.9L1637.3,574.1M1587.6,759.6L1687,587.4M1551.2,723.2L1723.4,623.8M1537.9,673.5L1736.7,673.5M1551.2,623.8L1723.4,723.2M1587.6,587.4L1687,759.6"/></g>
<g fill="#f7a541" stroke="#111" stroke-width="1.0" stroke-linejoin="round">
<polygon points="1637.3,673.5 1643.9,598.6 1637.3,598.3 1630.7,598.6"/>
<polygon points="1637.3,673.5 1628.9,577.5 1620.6,578.6 1612.4,580.5"/>
<polygon points="1637.3,673.5 1617.8,600.9 1611.6,602.8 1605.5,605.3"/>
<polygon points="1637.3,673.5 1616.9,629.8 1613.2,631.8 1609.7,634"/>
<polygon points="1637.3,673.5 1616.9,644.4 1614.5,646.3 1612.2,648.4"/>
<polygon points="1637.3,673.5 1614.6,650.8 1612.7,652.9 1611,655.1"/>
<polygon points="1637.3,673.5 1617.2,659.4 1616.1,661.2 1615.1,663.1"/>
<polygon points="1637.3,673.5 1622,666.4 1621.4,667.7 1621,669.1"/>
<polygon points="1637.3,673.5 1624.2,670 1624,671.2 1623.8,672.3"/>
<polygon points="1637.3,673.5 1625.5,672.5 1625.5,673.5 1625.5,674.5"/>
<polygon points="1637.3,673.5 1617.1,675.3 1617.3,677 1617.7,678.7"/>
<polygon points="1637.3,673.5 1626.7,676.3 1627,677.3 1627.3,678.1"/>
<polygon points="1637.3,673.5 1630.4,676.7 1630.7,677.3 1631.1,677.9"/>
<polygon points="1637.3,673.5 1632.5,676.9 1632.8,677.3 1633.1,677.7"/>
<polygon points="1637.3,673.5 1632.5,678.3 1633,678.7 1633.4,679"/>
<polygon points="1637.3,673.5 1629.5,684.6 1630.5,685.2 1631.6,685.8"/>
<polygon points="1637.3,673.5 1630.5,688.1 1631.8,688.6 1633.1,689"/>
<polygon points="1637.3,673.5 1635.6,680 1636.1,680.2 1636.7,680.2"/>
<polygon points="1637.3,673.5 1636.8,679.4 1637.3,679.4 1637.8,679.4"/>
<polygon points="1637.3,673.5 1637.7,678.6 1638.2,678.5 1638.6,678.4"/>
<polygon points="1637.3,673.5 1638.4,677.6 1638.7,677.5 1639.1,677.3"/>
<polygon points="1637.3,673.5 1639.4,678.1 1639.8,677.9 1640.2,677.7"/>
<polygon points="1637.3,673.5 1640.7,678.3 1641.1,678 1641.5,677.7"/>
<polygon points="1637.3,673.5 1642.1,678.3 1642.5,677.8 1642.8,677.4"/>
<polygon points="1637.3,673.5 1644.2,678.3 1644.6,677.7 1645,677.1"/>
<polygon points="1637.3,673.5 1655.7,682.1 1656.4,680.4 1656.9,678.7"/>
<polygon points="1637.3,673.5 1650.4,677 1650.6,675.8 1650.8,674.7"/>
<polygon points="1637.3,673.5 1656.7,675.2 1656.7,673.5 1656.7,671.8"/>
<polygon points="1637.3,673.5 1656.7,671.8 1656.4,670.1 1656.1,668.5"/>
<polygon points="1637.3,673.5 1657.7,668 1657.2,666.3 1656.4,664.6"/>
<polygon points="1637.3,673.5 1667.9,659.2 1666.6,656.6 1665,654.1"/>
<polygon points="1637.3,673.5 1664.3,654.6 1662.5,652.3 1660.6,650.2"/>
<polygon points="1637.3,673.5 1660,650.8 1657.9,648.9 1655.7,647.2"/>
<polygon points="1637.3,673.5 1655.7,647.2 1653.4,645.7 1650.9,644.4"/>
<polygon points="1637.3,673.5 1651.2,643.6 1648.6,642.5 1645.8,641.7"/>
<polygon points="1637.3,673.5 1652.8,615.5 1647.7,614.4 1642.5,613.7"/>
</g>
<rect x="1542.0" y="441.4" width="188.0" height="19.9" fill="#404040"/>
<text transform="translate(1611.5,457) scale(1.059,1)" font-size="16" fill="#f2f2f2">Threat</text>
<rect x="1542.0" y="466.3" width="188.0" height="19.9" fill="#f7941d"/>
<text transform="translate(1552,482.1) scale(1.111,1)" font-size="16" fill="#fde2a7">589-nm (reactivation)</text>
<text transform="translate(1551.5,506.8) scale(0.994,1)" font-size="24.5">Toward previous</text>
<text transform="translate(1555.5,534.4) scale(1.011,1)" font-size="24.5">shelter location</text>
<text transform="translate(1628.6,564.7) scale(1.021,1)" font-size="24.5">0°</text>
<text transform="translate(1489.8,676.8) scale(1.049,1)" font-size="24.5">90°</text>
<text transform="translate(1748,676.8) scale(0.999,1)" font-size="24.5">–90°</text>
<text transform="translate(1615.6,795) scale(0.946,1)" font-size="24.5">180°</text>
<text transform="translate(1696,600.5) scale(0.796,1)" font-size="24.5">12%</text>
<text transform="translate(1677,624.4) scale(0.817,1)" font-size="24.5">8%</text>
<text transform="translate(1652.9,648) scale(0.848,1)" font-size="24.5">4%</text>
<g fill="none" stroke="#3a3a3a" stroke-width="0.9">
<circle cx="1667.1" cy="1075.3" r="57"/>
<circle cx="1667.1" cy="1075.3" r="100.4"/>
<path d="M1667.1,1175.7L1667.1,974.9M1616.9,1162.2L1717.3,988.4M1580.2,1125.5L1754,1025.1M1566.7,1075.3L1767.5,1075.3M1580.2,1025.1L1754,1125.5M1616.9,988.4L1717.3,1162.2"/></g>
<g fill="#b0b0b0" stroke="#5a5a5a" stroke-width="0.9" stroke-linejoin="round">
<polygon points="1667.1,1075.3 1669.1,1052.6 1667.1,1052.5 1665.1,1052.6"/>
<polygon points="1667.1,1075.3 1662.3,1019.9 1657.4,1020.6 1652.7,1021.6"/>
<polygon points="1667.1,1075.3 1653.8,1025.7 1649.6,1027.1 1645.4,1028.8"/>
<polygon points="1667.1,1075.3 1634,1004.3 1627.9,1007.4 1622.1,1011.1"/>
<polygon points="1667.1,1075.3 1620.5,1008.8 1614.9,1013.1 1609.7,1017.9"/>
<polygon points="1667.1,1075.3 1602.6,1010.8 1597.2,1016.7 1592.4,1023"/>
<polygon points="1667.1,1075.3 1592.4,1023 1588.1,1029.7 1584.4,1036.8"/>
<polygon points="1667.1,1075.3 1598.7,1043.4 1596.1,1049.5 1594.1,1055.8"/>
<polygon points="1667.1,1075.3 1629.9,1065.3 1629.2,1068.6 1628.8,1071.9"/>
<polygon points="1667.1,1075.3 1614.6,1070.7 1614.4,1075.3 1614.6,1079.9"/>
<polygon points="1667.1,1075.3 1599,1081.3 1599.7,1087.2 1601,1093"/>
<polygon points="1667.1,1075.3 1612,1090.1 1613.5,1094.8 1615.4,1099.4"/>
<polygon points="1667.1,1075.3 1643.9,1086.1 1644.9,1088.1 1646.1,1090"/>
<polygon points="1667.1,1075.3 1653.1,1085.1 1654,1086.3 1655,1087.4"/>
<polygon points="1667.1,1075.3 1656,1086.4 1657,1087.3 1658.1,1088.1"/>
<polygon points="1667.1,1075.3 1659.7,1085.8 1660.7,1086.4 1661.7,1086.9"/>
<polygon points="1667.1,1075.3 1662.3,1085.6 1663.2,1086 1664.1,1086.3"/>
<polygon points="1667.1,1075.3 1664.9,1083.6 1665.6,1083.7 1666.4,1083.8"/>
<polygon points="1667.1,1075.3 1666.2,1085.2 1667.1,1085.3 1668,1085.2"/>
<polygon points="1667.1,1075.3 1668.2,1088.1 1669.3,1087.9 1670.4,1087.7"/>
<polygon points="1667.1,1075.3 1671.2,1090.4 1672.5,1090 1673.7,1089.5"/>
<polygon points="1667.1,1075.3 1677.9,1098.5 1679.9,1097.5 1681.8,1096.3"/>
<polygon points="1667.1,1075.3 1683.4,1098.6 1685.4,1097.1 1687.3,1095.5"/>
<polygon points="1667.1,1075.3 1688.3,1096.5 1690,1094.5 1691.6,1092.5"/>
<polygon points="1667.1,1075.3 1691.6,1092.5 1693,1090.3 1694.2,1087.9"/>
<polygon points="1667.1,1075.3 1700.7,1091 1701.9,1088 1702.9,1084.9"/>
<polygon points="1667.1,1075.3 1702.9,1084.9 1703.6,1081.7 1704,1078.5"/>
<polygon points="1667.1,1075.3 1695.5,1077.8 1695.6,1075.3 1695.5,1072.8"/>
<polygon points="1667.1,1075.3 1712.5,1071.3 1712,1067.4 1711.1,1063.5"/>
<polygon points="1667.1,1075.3 1709.8,1063.9 1708.6,1060.2 1707.1,1056.6"/>
<polygon points="1667.1,1075.3 1720.1,1050.6 1717.7,1046.1 1715,1041.8"/>
<polygon points="1667.1,1075.3 1699.8,1052.4 1697.7,1049.7 1695.3,1047.1"/>
<polygon points="1667.1,1075.3 1687.3,1055.1 1685.4,1053.5 1683.4,1052"/>
<polygon points="1667.1,1075.3 1699,1029.8 1694.9,1027.2 1690.6,1024.9"/>
<polygon points="1667.1,1075.3 1677.3,1053.3 1675.4,1052.5 1673.4,1051.9"/>
<polygon points="1667.1,1075.3 1673.4,1051.9 1671.3,1051.4 1669.2,1051.2"/>
</g>
<rect x="1565.0" y="861.5" width="187.6" height="19.9" fill="#000"/>
<text transform="translate(1644.5,877.1) scale(1.060,1)" font-size="16" fill="#f2f2f2">dPAG</text>
<text transform="translate(1566,904.4) scale(0.994,1)" font-size="24.5">Toward previous</text>
<text transform="translate(1570.5,931.9) scale(1.011,1)" font-size="24.5">shelter location</text>
<text transform="translate(1655,964.3) scale(1.021,1)" font-size="24.5">0°</text>
<text transform="translate(1523,1081.3) scale(1.027,1)" font-size="24.5">90°</text>
<text transform="translate(1773.2,1081.3) scale(0.993,1)" font-size="24.5">–90°</text>
<text transform="translate(1643,1198.6) scale(0.946,1)" font-size="24.5">180°</text>
<text transform="translate(1697,1031.5) scale(0.859,1)" font-size="24.5">4%</text>
<g fill="none" stroke="#3a3a3a" stroke-width="1.0">
<circle cx="1671.4" cy="1504.3" r="40"/>
<circle cx="1671.4" cy="1504.3" r="80"/>
<circle cx="1671.4" cy="1504.3" r="100.1"/>
<path d="M1671.4,1604.4L1671.4,1404.2M1621.4,1591L1721.5,1417.6M1584.7,1554.3L1758.1,1454.2M1571.3,1504.3L1771.5,1504.3M1584.7,1454.2L1758.1,1554.3M1621.4,1417.6L1721.5,1591"/></g>
<g fill="#f7a541" stroke="#111" stroke-width="1.0" stroke-linejoin="round">
<polygon points="1671.4,1504.3 1676.4,1447.5 1671.4,1447.3 1666.4,1447.5"/>
<polygon points="1671.4,1504.3 1665.7,1439.5 1660.1,1440.3 1654.6,1441.5"/>
<polygon points="1671.4,1504.3 1655.1,1443.4 1649.9,1445.1 1644.8,1447.2"/>
<polygon points="1671.4,1504.3 1634.2,1424.5 1627.4,1428.1 1620.9,1432.2"/>
<polygon points="1671.4,1504.3 1643.3,1464.2 1639.9,1466.8 1636.8,1469.7"/>
<polygon points="1671.4,1504.3 1643.1,1476 1640.8,1478.6 1638.6,1481.4"/>
<polygon points="1671.4,1504.3 1639.5,1481.9 1637.6,1484.8 1636.1,1487.8"/>
<polygon points="1671.4,1504.3 1649.6,1494.2 1648.8,1496.1 1648.2,1498.1"/>
<polygon points="1671.4,1504.3 1661.7,1501.7 1661.6,1502.6 1661.4,1503.4"/>
<polygon points="1671.4,1504.3 1665.4,1503.8 1665.4,1504.3 1665.4,1504.8"/>
<polygon points="1671.4,1504.3 1666.4,1504.7 1666.5,1505.2 1666.6,1505.6"/>
<polygon points="1671.4,1504.3 1667.5,1505.3 1667.6,1505.7 1667.8,1506"/>
<polygon points="1671.4,1504.3 1668.7,1505.6 1668.8,1505.8 1668.9,1506"/>
<polygon points="1671.4,1504.3 1668.9,1506 1669.1,1506.2 1669.3,1506.4"/>
<polygon points="1671.4,1504.3 1669.3,1506.4 1669.5,1506.6 1669.7,1506.8"/>
<polygon points="1671.4,1504.3 1666.8,1510.9 1667.4,1511.2 1668,1511.6"/>
<polygon points="1671.4,1504.3 1665.1,1517.9 1666.3,1518.4 1667.5,1518.8"/>
<polygon points="1671.4,1504.3 1670.4,1508.2 1670.7,1508.2 1671.1,1508.3"/>
<polygon points="1671.4,1504.3 1671.1,1507.3 1671.4,1507.3 1671.7,1507.3"/>
<polygon points="1671.4,1504.3 1671.7,1507.3 1671.9,1507.3 1672.2,1507.2"/>
<polygon points="1671.4,1504.3 1672.2,1507.2 1672.4,1507.1 1672.7,1507"/>
<polygon points="1671.4,1504.3 1672.7,1507 1672.9,1506.9 1673.1,1506.8"/>
<polygon points="1671.4,1504.3 1673.1,1506.8 1673.3,1506.6 1673.5,1506.4"/>
<polygon points="1671.4,1504.3 1674.2,1507.1 1674.5,1506.9 1674.7,1506.6"/>
<polygon points="1671.4,1504.3 1675.5,1507.2 1675.7,1506.8 1675.9,1506.4"/>
<polygon points="1671.4,1504.3 1678.7,1507.7 1678.9,1507 1679.1,1506.4"/>
<polygon points="1671.4,1504.3 1684.9,1507.9 1685.2,1506.7 1685.3,1505.5"/>
<polygon points="1671.4,1504.3 1685.3,1505.5 1685.4,1504.3 1685.3,1503.1"/>
<polygon points="1671.4,1504.3 1698.3,1501.9 1698,1499.6 1697.5,1497.3"/>
<polygon points="1671.4,1504.3 1700.4,1496.5 1699.6,1494 1698.6,1491.6"/>
<polygon points="1671.4,1504.3 1707.7,1487.4 1706,1484.3 1704.2,1481.4"/>
<polygon points="1671.4,1504.3 1718.1,1471.6 1715.1,1467.7 1711.7,1464"/>
<polygon points="1671.4,1504.3 1718.8,1456.9 1714.5,1453 1709.8,1449.4"/>
<polygon points="1671.4,1504.3 1720.7,1433.9 1714.4,1429.8 1707.7,1426.4"/>
<polygon points="1671.4,1504.3 1706.1,1430 1699.4,1427.2 1692.6,1425.1"/>
<polygon points="1671.4,1504.3 1697,1408.7 1688.6,1406.8 1680,1405.7"/>
</g>
<rect x="1565.0" y="1279.2" width="187.6" height="19.9" fill="#000"/>
<text transform="translate(1635,1294.8) scale(1.060,1)" font-size="16" fill="#f2f2f2">dPAG</text>
<rect x="1565.0" y="1304.1" width="187.6" height="19.5" fill="#f7941d"/>
<text transform="translate(1574.5,1319.9) scale(1.111,1)" font-size="16" fill="#fde2a7">589-nm (reactivation)</text>
<text transform="translate(1570.5,1345.3) scale(0.994,1)" font-size="24.5">Toward previous</text>
<text transform="translate(1574.5,1372.5) scale(1.011,1)" font-size="24.5">shelter location</text>
<text transform="translate(1661.8,1395.9) scale(1.021,1)" font-size="24.5">0°</text>
<text transform="translate(1523,1507) scale(1.027,1)" font-size="24.5">90°</text>
<text transform="translate(1780.5,1507) scale(0.999,1)" font-size="24.5">–90°</text>
<text transform="translate(1648.8,1626.3) scale(0.946,1)" font-size="24.5">180°</text>
<text transform="translate(1716.8,1444) scale(0.859,1)" font-size="24.5">8%</text>
<text transform="translate(1690.3,1473.8) scale(0.842,1)" font-size="24.5">4%</text>
<polygon points="1985.4,161.2 1988.8,160.8 1992.2,160.2 1995.7,159.6 1999.1,158.8 2002.5,158.1 2005.9,157.1 2009.3,155.8 2012.8,154.8 2016.2,154.2 2019.6,154.5 2023,155.5 2026.4,156.7 2029.9,157.8 2033.3,159.1 2036.7,160.8 2040.1,163 2043.5,165.5 2047,167.9 2050.4,171.1 2053.8,174.1 2057.2,176 2060.6,177.7 2064.1,179.2 2067.5,180.2 2070.9,180.8 2074.3,181.2 2077.7,181.3 2081.2,181.3 2084.6,181.2 2088,181.2 2091.4,181.7 2094.8,182.3 2098.3,182.7 2101.7,182.8 2105.1,182.8 2108.5,182.2 2111.9,181.2 2115.4,179.7 2118.8,178.2 2122.2,177.1 2122.2,203.7 2118.8,204.3 2115.4,205.2 2111.9,206.1 2108.5,206.8 2105.1,207.2 2101.7,207.3 2098.3,207.2 2094.8,206.9 2091.4,206.4 2088,205.8 2084.6,205.3 2081.2,204.9 2077.7,204.4 2074.3,203.7 2070.9,202.6 2067.5,201.3 2064.1,199.6 2060.6,197.5 2057.2,195.1 2053.8,192.5 2050.4,188.6 2047,184.3 2043.5,180.6 2040.1,176.5 2036.7,173 2033.3,170.6 2029.9,168.6 2026.4,166.9 2023,165.1 2019.6,163.5 2016.2,162.4 2012.8,162.2 2009.3,162.5 2005.9,162.8 2002.5,163 1999.1,163 1995.7,162.8 1992.2,162.7 1988.8,162.5 1985.4,162.4" fill="#d9d9d9" opacity="0.9"/>
<polyline points="1985.4,161.8 1988.8,161.6 1992.2,161.4 1995.7,161.2 1999.1,160.9 2002.5,160.6 2005.9,159.9 2009.3,159.2 2012.8,158.5 2016.2,158.3 2019.6,159 2023,160.3 2026.4,161.8 2029.9,163.2 2033.3,164.8 2036.7,166.9 2040.1,169.8 2043.5,173 2047,176.1 2050.4,179.9 2053.8,183.3 2057.2,185.5 2060.6,187.6 2064.1,189.4 2067.5,190.7 2070.9,191.7 2074.3,192.5 2077.7,192.9 2081.2,193.1 2084.6,193.3 2088,193.5 2091.4,194 2094.8,194.6 2098.3,194.9 2101.7,195.1 2105.1,195 2108.5,194.5 2111.9,193.7 2115.4,192.4 2118.8,191.3 2122.2,190.4" fill="none" stroke="#1a1a1a" stroke-width="1.8" stroke-linejoin="round" />
<polygon points="1985.4,161.2 1988.8,161.2 1992.2,161.2 1995.7,161.2 1999.1,161.2 2002.5,161.2 2005.9,161.2 2009.3,161.3 2012.8,161.4 2016.2,161.4 2019.6,161.4 2023,161.3 2026.4,161.3 2029.9,161.2 2033.3,161 2036.7,160.8 2040.1,160.5 2043.5,160.1 2047,159.7 2050.4,159.3 2053.8,158.9 2057.2,158.7 2060.6,158.5 2064.1,158.4 2067.5,158.3 2070.9,158.1 2074.3,158 2077.7,157.8 2081.2,157.7 2084.6,157.5 2088,157.3 2091.4,156.9 2094.8,156.4 2098.3,156.1 2101.7,156.1 2105.1,156.2 2108.5,156.4 2111.9,156.5 2115.4,156.5 2118.8,156.4 2122.2,156.3 2122.2,169.4 2118.8,169 2115.4,168.5 2111.9,167.9 2108.5,167.5 2105.1,167 2101.7,166.6 2098.3,166.3 2094.8,166.2 2091.4,166.2 2088,166.3 2084.6,166.3 2081.2,166.3 2077.7,166.3 2074.3,166.3 2070.9,166.3 2067.5,166.3 2064.1,166.3 2060.6,166.3 2057.2,166.3 2053.8,166.3 2050.4,166.4 2047,166.6 2043.5,166.7 2040.1,166.9 2036.7,166.9 2033.3,166.9 2029.9,166.8 2026.4,166.7 2023,166.5 2019.6,166.3 2016.2,166 2012.8,165.7 2009.3,165.3 2005.9,164.9 2002.5,164.5 1999.1,164 1995.7,163.6 1992.2,163.1 1988.8,162.7 1985.4,162.4" fill="#e08a96" opacity="0.85"/>
<polyline points="1985.4,161.8 1988.8,161.9 1992.2,162.1 1995.7,162.4 1999.1,162.6 2002.5,162.8 2005.9,163 2009.3,163.3 2012.8,163.5 2016.2,163.7 2019.6,163.8 2023,163.9 2026.4,164 2029.9,164 2033.3,163.9 2036.7,163.8 2040.1,163.7 2043.5,163.4 2047,163.1 2050.4,162.8 2053.8,162.6 2057.2,162.5 2060.6,162.4 2064.1,162.3 2067.5,162.3 2070.9,162.2 2074.3,162.1 2077.7,162.1 2081.2,162 2084.6,161.9 2088,161.8 2091.4,161.6 2094.8,161.3 2098.3,161.2 2101.7,161.3 2105.1,161.6 2108.5,161.9 2111.9,162.2 2115.4,162.5 2118.8,162.7 2122.2,162.8" fill="none" stroke="#b8304a" stroke-width="1.8" stroke-linejoin="round" />
<polygon points="1985.4,161.2 1988.8,161.5 1992.2,161.9 1995.7,162.5 1999.1,163.4 2002.5,164.9 2005.9,166.7 2009.3,168.5 2012.8,170 2016.2,171.5 2019.6,173 2023,175.9 2026.4,180.2 2029.9,187.1 2033.3,195.5 2036.7,205.2 2040.1,215 2043.5,223.8 2047,231.3 2050.4,236.3 2053.8,240.1 2057.2,243.9 2060.6,247.3 2064.1,249.5 2067.5,251.6 2070.9,253.4 2074.3,254.9 2077.7,256.1 2081.2,257.5 2084.6,260.2 2088,263.6 2091.4,266.6 2094.8,270 2098.3,273.3 2101.7,276.2 2105.1,279 2108.5,281.8 2111.9,284.2 2115.4,286.8 2118.8,289.1 2122.2,290.6 2122.2,311.1 2118.8,309.4 2115.4,306.9 2111.9,304.1 2108.5,301.5 2105.1,298.3 2101.7,295 2098.3,291.7 2094.8,287.9 2091.4,284.1 2088,280.8 2084.6,277.3 2081.2,274.7 2077.7,273.2 2074.3,272 2070.9,270.6 2067.5,268.7 2064.1,266.7 2060.6,264.5 2057.2,261.1 2053.8,257.3 2050.4,253.1 2047,247.7 2043.5,240.3 2040.1,231.3 2036.7,220.7 2033.3,209.9 2029.9,200.4 2026.4,192.5 2023,187.1 2019.6,183.3 2016.2,180.8 2012.8,178.2 2009.3,175.9 2005.9,173.3 2002.5,170.6 1999.1,168.3 1995.7,166.4 1992.2,164.8 1988.8,163.4 1985.4,162.4" fill="#f9c7a6" opacity="0.9"/>
<polyline points="1985.4,161.8 1988.8,162.4 1992.2,163.3 1995.7,164.5 1999.1,165.9 2002.5,167.7 2005.9,170 2009.3,172.2 2012.8,174.1 2016.2,176.1 2019.6,178.2 2023,181.5 2026.4,186.3 2029.9,193.8 2033.3,202.7 2036.7,212.9 2040.1,223.2 2043.5,232 2047,239.5 2050.4,244.7 2053.8,248.7 2057.2,252.5 2060.6,255.9 2064.1,258.1 2067.5,260.1 2070.9,262 2074.3,263.4 2077.7,264.7 2081.2,266.1 2084.6,268.8 2088,272.2 2091.4,275.4 2094.8,279 2098.3,282.5 2101.7,285.6 2105.1,288.6 2108.5,291.7 2111.9,294.2 2115.4,296.8 2118.8,299.2 2122.2,300.9" fill="none" stroke="#e8703a" stroke-width="1.8" stroke-linejoin="round" />
<path d="M1985.4,99.4L1985.4,367" stroke="#2b2b2b" stroke-width="1.5" />
<path d="M1975.4,366.3L2123,366.3" stroke="#2b2b2b" stroke-width="1.5" />
<path d="M1975.4,366.3L1985.4,366.3" stroke="#2b2b2b" stroke-width="1.5" />
<text transform="translate(1949.5,374.6) scale(0.985,1)" font-size="23.2">0</text>
<path d="M1975.4,325.4L1985.4,325.4" stroke="#2b2b2b" stroke-width="1.5" />
<text transform="translate(1929.3,333.7) scale(1.023,1)" font-size="23.2">0.2</text>
<path d="M1975.4,284.5L1985.4,284.5" stroke="#2b2b2b" stroke-width="1.5" />
<text transform="translate(1929.3,292.8) scale(1.023,1)" font-size="23.2">0.4</text>
<path d="M1975.4,243.6L1985.4,243.6" stroke="#2b2b2b" stroke-width="1.5" />
<text transform="translate(1929.3,251.9) scale(1.023,1)" font-size="23.2">0.6</text>
<path d="M1975.4,202.7L1985.4,202.7" stroke="#2b2b2b" stroke-width="1.5" />
<text transform="translate(1929.3,211) scale(1.023,1)" font-size="23.2">0.8</text>
<path d="M1975.4,161.8L1985.4,161.8" stroke="#2b2b2b" stroke-width="1.5" />
<text transform="translate(1935.5,170.1) scale(0.831,1)" font-size="23.2">1.0</text>
<path d="M1975.4,120.9L1985.4,120.9" stroke="#2b2b2b" stroke-width="1.5" />
<text transform="translate(1936,129.2) scale(0.816,1)" font-size="23.2">1.2</text>
<path d="M1985.4,366.3L1985.4,376.3" stroke="#2b2b2b" stroke-width="1.5" />
<text transform="translate(1978.8,401) scale(1.015,1)" font-size="23.2">0</text>
<path d="M2019.6,366.3L2019.6,376.3" stroke="#2b2b2b" stroke-width="1.5" />
<text transform="translate(2013,401) scale(1.015,1)" font-size="23.2">1</text>
<path d="M2053.8,366.3L2053.8,376.3" stroke="#2b2b2b" stroke-width="1.5" />
<text transform="translate(2047.2,401) scale(1.015,1)" font-size="23.2">2</text>
<path d="M2088,366.3L2088,376.3" stroke="#2b2b2b" stroke-width="1.5" />
<text transform="translate(2081.4,401) scale(1.015,1)" font-size="23.2">3</text>
<path d="M2122.2,366.3L2122.2,376.3" stroke="#2b2b2b" stroke-width="1.5" />
<text transform="translate(2115.6,401) scale(1.015,1)" font-size="23.2">4</text>
<text transform="translate(1989.5,434) scale(1.074,1)" font-size="26.5">Time from</text>
<text transform="translate(1959.5,461.3) scale(1.066,1)" font-size="26.5">threat onset (s)</text>
<text transform="translate(1851.6,233.1) rotate(-90) scale(1.056,1)" x="-67" font-size="26.5">Normalized</text>
<text transform="translate(1880.5,232.2) rotate(-90) scale(1.088,1)" x="-117.9" font-size="26.5">distance to previous</text>
<text transform="translate(1914,233.1) rotate(-90) scale(1.091,1)" x="-89.1" font-size="26.5">shelter location</text>
<path d="M1876,21.5L1900.8,21.5" stroke="#1a1a1a" stroke-width="1.8" />
<path d="M1876,52.4L1900.8,52.4" stroke="#b8304a" stroke-width="1.8" />
<path d="M1876,83.5L1900.8,83.5" stroke="#e8703a" stroke-width="1.8" />
<text transform="translate(1914,28.2) scale(0.982,1)" font-size="19.5">Threat</text>
<text transform="translate(1914,59.7) scale(1.018,1)" font-size="19.5">NAc<tspan font-size="10" dy="-9">Shelter</tspan><tspan font-size="19.5" dy="9">::ChrimsonR</tspan></text>
<text transform="translate(1914,90.2) scale(0.999,1)" font-size="19.5">Threat + NAc<tspan font-size="10" dy="-9">Shelter</tspan><tspan font-size="19.5" dy="9">::ChrimsonR</tspan></text>
<polygon points="1988,957.9 1990.9,957 1993.8,955.6 1996.8,954 1999.7,952.3 2002.6,950.5 2005.5,948.3 2008.4,945.8 2011.4,943.2 2014.3,940.5 2017.2,936.5 2020.1,932.2 2023,928.5 2026,924.9 2028.9,922.2 2031.8,921.2 2034.7,921.7 2037.6,923.5 2040.6,927.9 2043.5,933.5 2046.4,939.7 2049.3,945.5 2052.2,949.9 2055.2,953.5 2058.1,955.8 2061,957.9 2063.9,959.6 2066.8,960.7 2069.8,961.6 2072.7,962.9 2075.6,964.6 2078.5,966.1 2081.4,967.9 2084.4,969.6 2087.3,970.9 2090.2,972.1 2093.1,973.6 2096,975.1 2099,976.8 2101.9,978.4 2104.8,979.6 2104.8,1025.6 2101.9,1024.2 2099,1022.1 2096,1019.8 2093.1,1017.6 2090.2,1014.9 2087.3,1012.2 2084.4,1009.6 2081.4,1007.1 2078.5,1004.8 2075.6,1002.6 2072.7,999.8 2069.8,997.6 2066.8,996.8 2063.9,995.6 2061,993.4 2058.1,990.5 2055.2,987.6 2052.2,983.8 2049.3,979.6 2046.4,973.7 2043.5,967.6 2040.6,962.2 2037.6,957.5 2034.7,954.5 2031.8,952.2 2028.9,951.2 2026,951.6 2023,952.5 2020.1,953.7 2017.2,955.2 2014.3,956.5 2011.4,957.2 2008.4,957.8 2005.5,958.2 2002.6,958.5 1999.7,958.8 1996.8,958.9 1993.8,959 1990.9,959.1 1988,959.2" fill="#d9d9d9" opacity="0.9"/>
<polyline points="1988,958.5 1990.9,958 1993.8,957.3 1996.8,956.5 1999.7,955.5 2002.6,954.5 2005.5,953.2 2008.4,951.8 2011.4,950.2 2014.3,948.5 2017.2,945.9 2020.1,943 2023,940.5 2026,938.3 2028.9,936.7 2031.8,936.7 2034.7,938.1 2037.6,940.5 2040.6,945 2043.5,950.5 2046.4,956.7 2049.3,962.6 2052.2,966.9 2055.2,970.6 2058.1,973.2 2061,975.6 2063.9,977.6 2066.8,978.8 2069.8,979.6 2072.7,981.3 2075.6,983.6 2078.5,985.4 2081.4,987.5 2084.4,989.6 2087.3,991.6 2090.2,993.5 2093.1,995.6 2096,997.4 2099,999.5 2101.9,1001.3 2104.8,1002.6" fill="none" stroke="#1a1a1a" stroke-width="1.8" stroke-linejoin="round" />
<polygon points="1988,957.9 1990.9,957.1 1993.8,955.9 1996.8,954.6 1999.7,953.2 2002.6,952.1 2005.5,951.3 2008.4,950.7 2011.4,950.1 2014.3,949.5 2017.2,948.9 2020.1,948.6 2023,948.3 2026,948 2028.9,947.7 2031.8,947.4 2034.7,947.2 2037.6,946.9 2040.6,946.6 2043.5,946.4 2046.4,946.1 2049.3,945.9 2052.2,945.7 2055.2,945.6 2058.1,945.4 2061,945.3 2063.9,945.1 2066.8,945 2069.8,944.9 2072.7,944.7 2075.6,944.5 2078.5,944.3 2081.4,944.1 2084.4,943.9 2087.3,943.7 2090.2,943.4 2093.1,943.2 2096,943 2099,942.8 2101.9,942.7 2104.8,942.5 2104.8,954.5 2101.9,954.5 2099,954.5 2096,954.5 2093.1,954.5 2090.2,954.5 2087.3,954.5 2084.4,954.5 2081.4,954.5 2078.5,954.5 2075.6,954.5 2072.7,954.6 2069.8,954.6 2066.8,954.6 2063.9,954.6 2061,954.7 2058.1,954.7 2055.2,954.8 2052.2,954.8 2049.3,954.9 2046.4,954.9 2043.5,955 2040.6,955.1 2037.6,955.3 2034.7,955.4 2031.8,955.5 2028.9,955.7 2026,955.8 2023,955.9 2020.1,956 2017.2,956.1 2014.3,956.3 2011.4,956.4 2008.4,956.5 2005.5,956.7 2002.6,956.9 1999.7,957.3 1996.8,957.8 1993.8,958.4 1990.9,958.8 1988,959.2" fill="#e08a96" opacity="0.85"/>
<polyline points="1988,958.5 1990.9,958 1993.8,957.1 1996.8,956.2 1999.7,955.3 2002.6,954.5 2005.5,954 2008.4,953.6 2011.4,953.2 2014.3,952.9 2017.2,952.5 2020.1,952.3 2023,952.1 2026,951.9 2028.9,951.7 2031.8,951.5 2034.7,951.3 2037.6,951.1 2040.6,950.9 2043.5,950.7 2046.4,950.5 2049.3,950.4 2052.2,950.3 2055.2,950.2 2058.1,950.1 2061,950 2063.9,949.9 2066.8,949.8 2069.8,949.7 2072.7,949.6 2075.6,949.5 2078.5,949.4 2081.4,949.3 2084.4,949.2 2087.3,949.1 2090.2,949 2093.1,948.9 2096,948.8 2099,948.7 2101.9,948.6 2104.8,948.5" fill="none" stroke="#b8304a" stroke-width="1.8" stroke-linejoin="round" />
<polygon points="1988,957.9 1990.9,955.4 1993.8,951.8 1996.8,947.9 1999.7,944.5 2002.6,941.7 2005.5,939.1 2008.4,937 2011.4,935.5 2014.3,935 2017.2,935.6 2020.1,936.5 2023,937.7 2026,939.2 2028.9,940.5 2031.8,941.2 2034.7,941.6 2037.6,942.5 2040.6,944.7 2043.5,948.5 2046.4,955.5 2049.3,964.6 2052.2,975.3 2055.2,987.6 2058.1,1002.2 2061,1016.6 2063.9,1028.6 2066.8,1038.7 2069.8,1046.7 2072.7,1052.7 2075.6,1056 2078.5,1057.7 2081.4,1058.7 2084.4,1058.7 2087.3,1057.5 2090.2,1055.7 2093.1,1054.2 2096,1052.6 2099,1051.3 2101.9,1050.2 2104.8,1049.7 2104.8,1075.7 2101.9,1075.7 2099,1076.1 2096,1077.1 2093.1,1078.4 2090.2,1079.7 2087.3,1081.5 2084.4,1082.7 2081.4,1082.7 2078.5,1081.7 2075.6,1080 2072.7,1076.7 2069.8,1070.8 2066.8,1062.7 2063.9,1052.7 2061,1040.7 2058.1,1025.3 2055.2,1009.6 2052.2,996.2 2049.3,984.6 2046.4,975.4 2043.5,968.6 2040.6,964.7 2037.6,962.6 2034.7,961.7 2031.8,961.2 2028.9,960.6 2026,959.3 2023,957.9 2020.1,956.5 2017.2,955.2 2014.3,954.1 2011.4,953.5 2008.4,953.9 2005.5,954.7 2002.6,955.7 1999.7,956.5 1996.8,957.3 1993.8,958 1990.9,958.7 1988,959.2" fill="#f9c7a6" opacity="0.9"/>
<polyline points="1988,958.5 1990.9,957.1 1993.8,954.9 1996.8,952.6 1999.7,950.5 2002.6,948.7 2005.5,946.9 2008.4,945.4 2011.4,944.5 2014.3,944.5 2017.2,945.4 2020.1,946.5 2023,947.8 2026,949.3 2028.9,950.5 2031.8,951.2 2034.7,951.7 2037.6,952.5 2040.6,954.7 2043.5,958.5 2046.4,965.4 2049.3,974.6 2052.2,985.7 2055.2,998.6 2058.1,1013.7 2061,1028.6 2063.9,1040.7 2066.8,1050.7 2069.8,1058.7 2072.7,1064.7 2075.6,1068 2078.5,1069.7 2081.4,1070.7 2084.4,1070.7 2087.3,1069.5 2090.2,1067.7 2093.1,1066.3 2096,1064.8 2099,1063.7 2101.9,1062.9 2104.8,1062.7" fill="none" stroke="#e8703a" stroke-width="1.8" stroke-linejoin="round" />
<path d="M1988,899.6L1988,1159.5" stroke="#2b2b2b" stroke-width="1.5" />
<path d="M1978,1158.8L2105.4,1158.8" stroke="#2b2b2b" stroke-width="1.5" />
<path d="M1978,1158.8L1988,1158.8" stroke="#2b2b2b" stroke-width="1.5" />
<text transform="translate(1953,1167.1) scale(0.985,1)" font-size="23.2">0</text>
<path d="M1978,1118.8L1988,1118.8" stroke="#2b2b2b" stroke-width="1.5" />
<text transform="translate(1932.8,1127) scale(1.023,1)" font-size="23.2">0.2</text>
<path d="M1978,1078.7L1988,1078.7" stroke="#2b2b2b" stroke-width="1.5" />
<text transform="translate(1932.8,1087) scale(1.023,1)" font-size="23.2">0.4</text>
<path d="M1978,1038.6L1988,1038.6" stroke="#2b2b2b" stroke-width="1.5" />
<text transform="translate(1932.8,1046.9) scale(1.023,1)" font-size="23.2">0.6</text>
<path d="M1978,998.6L1988,998.6" stroke="#2b2b2b" stroke-width="1.5" />
<text transform="translate(1932.8,1006.9) scale(1.023,1)" font-size="23.2">0.8</text>
<path d="M1978,958.5L1988,958.5" stroke="#2b2b2b" stroke-width="1.5" />
<text transform="translate(1939,966.8) scale(0.831,1)" font-size="23.2">1.0</text>
<path d="M1978,918.5L1988,918.5" stroke="#2b2b2b" stroke-width="1.5" />
<text transform="translate(1939.5,926.8) scale(0.816,1)" font-size="23.2">1.2</text>
<path d="M1988,1158.8L1988,1168.8" stroke="#2b2b2b" stroke-width="1.5" />
<text transform="translate(1981.4,1193.6) scale(1.015,1)" font-size="23.2">0</text>
<path d="M2017.2,1158.8L2017.2,1168.8" stroke="#2b2b2b" stroke-width="1.5" />
<text transform="translate(2010.6,1193.6) scale(1.015,1)" font-size="23.2">1</text>
<path d="M2046.4,1158.8L2046.4,1168.8" stroke="#2b2b2b" stroke-width="1.5" />
<text transform="translate(2039.8,1193.6) scale(1.015,1)" font-size="23.2">2</text>
<path d="M2075.6,1158.8L2075.6,1168.8" stroke="#2b2b2b" stroke-width="1.5" />
<text transform="translate(2069,1193.6) scale(1.015,1)" font-size="23.2">3</text>
<path d="M2104.8,1158.8L2104.8,1168.8" stroke="#2b2b2b" stroke-width="1.5" />
<text transform="translate(2098.2,1193.6) scale(1.015,1)" font-size="23.2">4</text>
<text transform="translate(1983.2,1226.4) scale(1.074,1)" font-size="26.5">Time from</text>
<text transform="translate(1965.5,1253.6) scale(1.070,1)" font-size="26.5">activation (s)</text>
<text transform="translate(1881,1026.7) rotate(-90) scale(1.100,1)" x="-134.8" font-size="26.5">Normalized distance to</text>
<text transform="translate(1910.7,1028.2) rotate(-90) scale(1.090,1)" x="-142.9" font-size="26.5">previous shelter location</text>
<path d="M1992.6,1093.5L2017.5,1093.5" stroke="#1a1a1a" stroke-width="1.8" />
<path d="M1992.6,1121L2017.5,1121" stroke="#b8304a" stroke-width="1.8" />
<path d="M1992.6,1148.2L2017.5,1148.2" stroke="#e8703a" stroke-width="1.8" />
<text transform="translate(2026.8,1098.5) scale(1.025,1)" font-size="18.5">dPAG</text>
<text transform="translate(2026.8,1126) scale(1.104,1)" font-size="18.5">NAc<tspan font-size="9.5" dy="-9">Shelter</tspan></text>
<text transform="translate(2026.8,1153.2) scale(1.050,1)" font-size="18.5">dPAG + NAc<tspan font-size="9.5" dy="-9">Shelter</tspan></text>
<path d="M1982.7,503.1L1982.7,804.1" stroke="#2b2b2b" stroke-width="1.5" />
<path d="M1973,803.4L2144.5,803.4" stroke="#2b2b2b" stroke-width="1.5" />
<path d="M1973,803.4L1982.7,803.4" stroke="#2b2b2b" stroke-width="1.5" />
<text transform="translate(1946.8,811.7) scale(1.015,1)" font-size="23.2">0</text>
<path d="M1973,743.5L1982.7,743.5" stroke="#2b2b2b" stroke-width="1.5" />
<text transform="translate(1933.5,751.8) scale(1.029,1)" font-size="23.2">30</text>
<path d="M1973,683.6L1982.7,683.6" stroke="#2b2b2b" stroke-width="1.5" />
<text transform="translate(1933.5,691.9) scale(1.029,1)" font-size="23.2">60</text>
<path d="M1973,623.7L1982.7,623.7" stroke="#2b2b2b" stroke-width="1.5" />
<text transform="translate(1933.5,632) scale(1.029,1)" font-size="23.2">90</text>
<path d="M1973,563.8L1982.7,563.8" stroke="#2b2b2b" stroke-width="1.5" />
<text transform="translate(1923,572.1) scale(0.955,1)" font-size="23.2">120</text>
<path d="M1973,503.9L1982.7,503.9" stroke="#2b2b2b" stroke-width="1.5" />
<text transform="translate(1923,512.2) scale(0.955,1)" font-size="23.2">150</text>
<path d="M2023.5,803.4L2023.5,812.5" stroke="#2b2b2b" stroke-width="1.5" />
<path d="M2103.7,803.4L2103.7,812.5" stroke="#2b2b2b" stroke-width="1.5" />
<text transform="translate(1899.3,654.3) rotate(-90) scale(1.062,1)" x="-129.8" font-size="26.5">Head-shelter angle (°)</text>
<path d="M2023.5,553.5L2023.5,739.8" stroke="#1c1c1c" stroke-width="1.5" />
<path d="M2010.5,553.5L2036.5,553.5" stroke="#1c1c1c" stroke-width="1.5" />
<path d="M2010.5,739.8L2036.5,739.8" stroke="#1c1c1c" stroke-width="1.5" />
<rect x="1997.6" y="595.6" width="51.7" height="85.2" fill="#454545" stroke="#1c1c1c" stroke-width="1.5"/>
<path d="M1997.6,639.3L2049.3,639.3" stroke="#1c1c1c" stroke-width="1.6" />
<path d="M2103.7,617.5L2103.7,751.4" stroke="#1c1c1c" stroke-width="1.5" />
<path d="M2090.7,617.5L2116.7,617.5" stroke="#1c1c1c" stroke-width="1.5" />
<path d="M2090.7,751.4L2116.7,751.4" stroke="#1c1c1c" stroke-width="1.5" />
<rect x="2078.2" y="654.3" width="52.0" height="78.5" fill="#f7a941" stroke="#1c1c1c" stroke-width="1.5"/>
<path d="M2078.2,677.8L2130.2,677.8" stroke="#1c1c1c" stroke-width="1.6" />
<circle cx="2030.8" cy="547.8" r="2.5" fill="#3a3a3a" stroke="#111" stroke-width="0.7"/>
<circle cx="2030.6" cy="549.8" r="2.5" fill="#3a3a3a" stroke="#111" stroke-width="0.7"/>
<circle cx="2015.5" cy="553.8" r="2.5" fill="#3a3a3a" stroke="#111" stroke-width="0.7"/>
<circle cx="2015.9" cy="563.8" r="2.5" fill="#3a3a3a" stroke="#111" stroke-width="0.7"/>
<circle cx="2028.7" cy="565.8" r="2.5" fill="#3a3a3a" stroke="#111" stroke-width="0.7"/>
<circle cx="2027" cy="569.8" r="2.5" fill="#3a3a3a" stroke="#111" stroke-width="0.7"/>
<circle cx="2025.9" cy="595.7" r="2.5" fill="#3a3a3a" stroke="#111" stroke-width="0.7"/>
<circle cx="2019.7" cy="607.7" r="2.5" fill="#3a3a3a" stroke="#111" stroke-width="0.7"/>
<circle cx="2024.8" cy="609.7" r="2.5" fill="#3a3a3a" stroke="#111" stroke-width="0.7"/>
<circle cx="2024.8" cy="617.7" r="2.5" fill="#3a3a3a" stroke="#111" stroke-width="0.7"/>
<circle cx="2024.4" cy="621.7" r="2.5" fill="#3a3a3a" stroke="#111" stroke-width="0.7"/>
<circle cx="2017.2" cy="627.7" r="2.5" fill="#3a3a3a" stroke="#111" stroke-width="0.7"/>
<circle cx="2021.8" cy="631.7" r="2.5" fill="#3a3a3a" stroke="#111" stroke-width="0.7"/>
<circle cx="2021.2" cy="639.7" r="2.5" fill="#3a3a3a" stroke="#111" stroke-width="0.7"/>
<circle cx="2026.8" cy="649.7" r="2.5" fill="#3a3a3a" stroke="#111" stroke-width="0.7"/>
<circle cx="2031.4" cy="657.6" r="2.5" fill="#3a3a3a" stroke="#111" stroke-width="0.7"/>
<circle cx="2030.6" cy="665.6" r="2.5" fill="#3a3a3a" stroke="#111" stroke-width="0.7"/>
<circle cx="2023.8" cy="673.6" r="2.5" fill="#3a3a3a" stroke="#111" stroke-width="0.7"/>
<circle cx="2022.1" cy="675.6" r="2.5" fill="#3a3a3a" stroke="#111" stroke-width="0.7"/>
<circle cx="2019.1" cy="679.6" r="2.5" fill="#3a3a3a" stroke="#111" stroke-width="0.7"/>
<circle cx="2015.1" cy="693.6" r="2.5" fill="#3a3a3a" stroke="#111" stroke-width="0.7"/>
<circle cx="2015" cy="695.6" r="2.5" fill="#3a3a3a" stroke="#111" stroke-width="0.7"/>
<circle cx="2022.4" cy="713.5" r="2.5" fill="#3a3a3a" stroke="#111" stroke-width="0.7"/>
<circle cx="2019.9" cy="739.5" r="2.5" fill="#3a3a3a" stroke="#111" stroke-width="0.7"/>
<circle cx="2021" cy="751.5" r="2.5" fill="#3a3a3a" stroke="#111" stroke-width="0.7"/>
<circle cx="2029.7" cy="767.5" r="2.5" fill="#3a3a3a" stroke="#111" stroke-width="0.7"/>
<rect x="2020.8" y="640.6" width="4.0" height="4.0" fill="#fff" stroke="#333" stroke-width="0.5"/>
<circle cx="2104.6" cy="595.7" r="2.5" fill="#f7b04a" stroke="#7a4a0a" stroke-width="0.8"/>
<circle cx="2105.2" cy="603.7" r="2.5" fill="#f7b04a" stroke="#7a4a0a" stroke-width="0.8"/>
<circle cx="2099.7" cy="617.7" r="2.5" fill="#f7b04a" stroke="#7a4a0a" stroke-width="0.8"/>
<circle cx="2096.1" cy="643.7" r="2.5" fill="#f7b04a" stroke="#7a4a0a" stroke-width="0.8"/>
<circle cx="2101.2" cy="649.7" r="2.5" fill="#f7b04a" stroke="#7a4a0a" stroke-width="0.8"/>
<circle cx="2098" cy="649.7" r="2.5" fill="#f7b04a" stroke="#7a4a0a" stroke-width="0.8"/>
<circle cx="2104.4" cy="653.6" r="2.5" fill="#f7b04a" stroke="#7a4a0a" stroke-width="0.8"/>
<circle cx="2112.7" cy="655.6" r="2.5" fill="#f7b04a" stroke="#7a4a0a" stroke-width="0.8"/>
<circle cx="2107.2" cy="657.6" r="2.5" fill="#f7b04a" stroke="#7a4a0a" stroke-width="0.8"/>
<circle cx="2098.8" cy="659.6" r="2.5" fill="#f7b04a" stroke="#7a4a0a" stroke-width="0.8"/>
<circle cx="2110.9" cy="665.6" r="2.5" fill="#f7b04a" stroke="#7a4a0a" stroke-width="0.8"/>
<circle cx="2109.2" cy="669.6" r="2.5" fill="#f7b04a" stroke="#7a4a0a" stroke-width="0.8"/>
<circle cx="2108.2" cy="675.6" r="2.5" fill="#f7b04a" stroke="#7a4a0a" stroke-width="0.8"/>
<circle cx="2111.1" cy="677.6" r="2.5" fill="#f7b04a" stroke="#7a4a0a" stroke-width="0.8"/>
<circle cx="2108.7" cy="679.6" r="2.5" fill="#f7b04a" stroke="#7a4a0a" stroke-width="0.8"/>
<circle cx="2109.1" cy="683.6" r="2.5" fill="#f7b04a" stroke="#7a4a0a" stroke-width="0.8"/>
<circle cx="2101.7" cy="689.6" r="2.5" fill="#f7b04a" stroke="#7a4a0a" stroke-width="0.8"/>
<circle cx="2112.4" cy="693.6" r="2.5" fill="#f7b04a" stroke="#7a4a0a" stroke-width="0.8"/>
<circle cx="2112.1" cy="701.6" r="2.5" fill="#f7b04a" stroke="#7a4a0a" stroke-width="0.8"/>
<circle cx="2098.4" cy="713.5" r="2.5" fill="#f7b04a" stroke="#7a4a0a" stroke-width="0.8"/>
<circle cx="2108.5" cy="729.5" r="2.5" fill="#f7b04a" stroke="#7a4a0a" stroke-width="0.8"/>
<circle cx="2107.9" cy="733.5" r="2.5" fill="#f7b04a" stroke="#7a4a0a" stroke-width="0.8"/>
<circle cx="2103.5" cy="739.5" r="2.5" fill="#f7b04a" stroke="#7a4a0a" stroke-width="0.8"/>
<circle cx="2104.7" cy="741.5" r="2.5" fill="#f7b04a" stroke="#7a4a0a" stroke-width="0.8"/>
<circle cx="2104" cy="749.5" r="2.5" fill="#f7b04a" stroke="#7a4a0a" stroke-width="0.8"/>
<circle cx="2111.4" cy="751.5" r="2.5" fill="#f7b04a" stroke="#7a4a0a" stroke-width="0.8"/>
<circle cx="2104.2" cy="751.5" r="2.5" fill="#f7b04a" stroke="#7a4a0a" stroke-width="0.8"/>
<circle cx="2109.8" cy="773.4" r="2.5" fill="#f7b04a" stroke="#7a4a0a" stroke-width="0.8"/>
<rect x="2101.5" y="683.2" width="4.0" height="4.0" fill="#fff" stroke="#333" stroke-width="0.5"/>
<path d="M2023.5,527 V524.3 H2098 V527" fill="none" stroke="#2b2b2b" stroke-width="1.4"/>
<text transform="translate(2045.8,524) scale(1.286,1)" font-size="27">**</text>
<text transform="translate(1963,846) scale(1.020,1)" font-size="26.5">Threat</text>
<text transform="translate(2055.6,846) scale(1.003,1)" font-size="26.5">Threat +</text>
<text transform="translate(2046.7,876.3) scale(1.059,1)" font-size="26.5">NAc<tspan font-size="18.5" dy="-11.5">Shelter</tspan></text>
<path d="M1982.7,1314L1982.7,1611.1" stroke="#2b2b2b" stroke-width="1.5" />
<path d="M1973,1610.4L2142.8,1610.4" stroke="#2b2b2b" stroke-width="1.5" />
<path d="M1973,1610.4L1982.7,1610.4" stroke="#2b2b2b" stroke-width="1.5" />
<text transform="translate(1946.8,1618.7) scale(1.015,1)" font-size="23.2">0</text>
<path d="M1973,1561.1L1982.7,1561.1" stroke="#2b2b2b" stroke-width="1.5" />
<text transform="translate(1933.5,1569.4) scale(1.029,1)" font-size="23.2">30</text>
<path d="M1973,1511.8L1982.7,1511.8" stroke="#2b2b2b" stroke-width="1.5" />
<text transform="translate(1933.5,1520.1) scale(1.029,1)" font-size="23.2">60</text>
<path d="M1973,1462.6L1982.7,1462.6" stroke="#2b2b2b" stroke-width="1.5" />
<text transform="translate(1933.5,1470.9) scale(1.029,1)" font-size="23.2">90</text>
<path d="M1973,1413.3L1982.7,1413.3" stroke="#2b2b2b" stroke-width="1.5" />
<text transform="translate(1923,1421.6) scale(0.955,1)" font-size="23.2">120</text>
<path d="M1973,1364L1982.7,1364" stroke="#2b2b2b" stroke-width="1.5" />
<text transform="translate(1923,1372.3) scale(0.955,1)" font-size="23.2">150</text>
<path d="M1973,1314.7L1982.7,1314.7" stroke="#2b2b2b" stroke-width="1.5" />
<text transform="translate(1923,1323) scale(0.955,1)" font-size="23.2">180</text>
<path d="M2024,1610.4L2024,1619.5" stroke="#2b2b2b" stroke-width="1.5" />
<path d="M2102.4,1610.4L2102.4,1619.5" stroke="#2b2b2b" stroke-width="1.5" />
<text transform="translate(1899.3,1467.4) rotate(-90) scale(1.062,1)" x="-129.8" font-size="26.5">Head-shelter angle (°)</text>
<path d="M2024,1376.7L2024,1563" stroke="#1c1c1c" stroke-width="1.5" />
<path d="M2011,1376.7L2037,1376.7" stroke="#1c1c1c" stroke-width="1.5" />
<path d="M2011,1563L2037,1563" stroke="#1c1c1c" stroke-width="1.5" />
<rect x="1997.0" y="1404.9" width="51.3" height="103.1" fill="#454545" stroke="#1c1c1c" stroke-width="1.5"/>
<path d="M1997,1438L2048.3,1438" stroke="#1c1c1c" stroke-width="1.6" />
<path d="M2102.4,1496.7L2102.4,1574.9" stroke="#1c1c1c" stroke-width="1.5" />
<path d="M2089.4,1496.7L2115.4,1496.7" stroke="#1c1c1c" stroke-width="1.5" />
<path d="M2089.4,1574.9L2115.4,1574.9" stroke="#1c1c1c" stroke-width="1.5" />
<rect x="2076.5" y="1514.6" width="52.1" height="36.4" fill="#f7a941" stroke="#1c1c1c" stroke-width="1.5"/>
<path d="M2076.5,1530.2L2128.6,1530.2" stroke="#1c1c1c" stroke-width="1.6" />
<circle cx="2029.3" cy="1327.9" r="2.4" fill="#3a3a3a" stroke="#111" stroke-width="0.7"/>
<circle cx="2029.8" cy="1359.1" r="2.4" fill="#3a3a3a" stroke="#111" stroke-width="0.7"/>
<circle cx="2023.7" cy="1365.6" r="2.4" fill="#3a3a3a" stroke="#111" stroke-width="0.7"/>
<circle cx="2019.7" cy="1375.5" r="2.4" fill="#3a3a3a" stroke="#111" stroke-width="0.7"/>
<circle cx="2015" cy="1377.1" r="2.4" fill="#3a3a3a" stroke="#111" stroke-width="0.7"/>
<circle cx="2026.9" cy="1383.7" r="2.4" fill="#3a3a3a" stroke="#111" stroke-width="0.7"/>
<circle cx="2023.5" cy="1388.6" r="2.4" fill="#3a3a3a" stroke="#111" stroke-width="0.7"/>
<circle cx="2028.7" cy="1390.3" r="2.4" fill="#3a3a3a" stroke="#111" stroke-width="0.7"/>
<circle cx="2021.7" cy="1391.9" r="2.4" fill="#3a3a3a" stroke="#111" stroke-width="0.7"/>
<circle cx="2028.9" cy="1395.2" r="2.4" fill="#3a3a3a" stroke="#111" stroke-width="0.7"/>
<circle cx="2019.9" cy="1396.9" r="2.4" fill="#3a3a3a" stroke="#111" stroke-width="0.7"/>
<circle cx="2029.4" cy="1411.6" r="2.4" fill="#3a3a3a" stroke="#111" stroke-width="0.7"/>
<circle cx="2028.1" cy="1413.3" r="2.4" fill="#3a3a3a" stroke="#111" stroke-width="0.7"/>
<circle cx="2022.5" cy="1414.9" r="2.4" fill="#3a3a3a" stroke="#111" stroke-width="0.7"/>
<circle cx="2024.7" cy="1418.2" r="2.4" fill="#3a3a3a" stroke="#111" stroke-width="0.7"/>
<circle cx="2027.3" cy="1423.1" r="2.4" fill="#3a3a3a" stroke="#111" stroke-width="0.7"/>
<circle cx="2018.5" cy="1428.1" r="2.4" fill="#3a3a3a" stroke="#111" stroke-width="0.7"/>
<circle cx="2025" cy="1431.3" r="2.4" fill="#3a3a3a" stroke="#111" stroke-width="0.7"/>
<circle cx="2029.5" cy="1433" r="2.4" fill="#3a3a3a" stroke="#111" stroke-width="0.7"/>
<circle cx="2019.8" cy="1434.6" r="2.4" fill="#3a3a3a" stroke="#111" stroke-width="0.7"/>
<circle cx="2029.5" cy="1436.3" r="2.4" fill="#3a3a3a" stroke="#111" stroke-width="0.7"/>
<circle cx="2027.3" cy="1437.9" r="2.4" fill="#3a3a3a" stroke="#111" stroke-width="0.7"/>
<circle cx="2030.2" cy="1441.2" r="2.4" fill="#3a3a3a" stroke="#111" stroke-width="0.7"/>
<circle cx="2021" cy="1451.1" r="2.4" fill="#3a3a3a" stroke="#111" stroke-width="0.7"/>
<circle cx="2016.7" cy="1454.3" r="2.4" fill="#3a3a3a" stroke="#111" stroke-width="0.7"/>
<circle cx="2029.4" cy="1456" r="2.4" fill="#3a3a3a" stroke="#111" stroke-width="0.7"/>
<circle cx="2029.5" cy="1464.2" r="2.4" fill="#3a3a3a" stroke="#111" stroke-width="0.7"/>
<circle cx="2023" cy="1470.8" r="2.4" fill="#3a3a3a" stroke="#111" stroke-width="0.7"/>
<circle cx="2016.7" cy="1474.1" r="2.4" fill="#3a3a3a" stroke="#111" stroke-width="0.7"/>
<circle cx="2018.5" cy="1505.3" r="2.4" fill="#3a3a3a" stroke="#111" stroke-width="0.7"/>
<circle cx="2026.4" cy="1506.9" r="2.4" fill="#3a3a3a" stroke="#111" stroke-width="0.7"/>
<circle cx="2020.2" cy="1508.6" r="2.4" fill="#3a3a3a" stroke="#111" stroke-width="0.7"/>
<circle cx="2032.1" cy="1511.8" r="2.4" fill="#3a3a3a" stroke="#111" stroke-width="0.7"/>
<circle cx="2025.6" cy="1521.7" r="2.4" fill="#3a3a3a" stroke="#111" stroke-width="0.7"/>
<circle cx="2018.6" cy="1529.9" r="2.4" fill="#3a3a3a" stroke="#111" stroke-width="0.7"/>
<circle cx="2026.8" cy="1531.6" r="2.4" fill="#3a3a3a" stroke="#111" stroke-width="0.7"/>
<circle cx="2021.5" cy="1536.5" r="2.4" fill="#3a3a3a" stroke="#111" stroke-width="0.7"/>
<circle cx="2031.8" cy="1559.5" r="2.4" fill="#3a3a3a" stroke="#111" stroke-width="0.7"/>
<circle cx="2031.4" cy="1562.8" r="2.4" fill="#3a3a3a" stroke="#111" stroke-width="0.7"/>
<circle cx="2024.3" cy="1574.3" r="2.4" fill="#3a3a3a" stroke="#111" stroke-width="0.7"/>
<circle cx="2026.6" cy="1575.9" r="2.4" fill="#3a3a3a" stroke="#111" stroke-width="0.7"/>
<circle cx="2027.6" cy="1579.2" r="2.4" fill="#3a3a3a" stroke="#111" stroke-width="0.7"/>
<circle cx="2029.5" cy="1580.8" r="2.4" fill="#3a3a3a" stroke="#111" stroke-width="0.7"/>
<circle cx="2112" cy="1459.3" r="2.4" fill="#f7b04a" stroke="#7a4a0a" stroke-width="0.8"/>
<circle cx="2093.9" cy="1465.8" r="2.4" fill="#f7b04a" stroke="#7a4a0a" stroke-width="0.8"/>
<circle cx="2100.3" cy="1497.1" r="2.4" fill="#f7b04a" stroke="#7a4a0a" stroke-width="0.8"/>
<circle cx="2104.8" cy="1505.3" r="2.4" fill="#f7b04a" stroke="#7a4a0a" stroke-width="0.8"/>
<circle cx="2099.2" cy="1511.8" r="2.4" fill="#f7b04a" stroke="#7a4a0a" stroke-width="0.8"/>
<circle cx="2104.6" cy="1515.1" r="2.4" fill="#f7b04a" stroke="#7a4a0a" stroke-width="0.8"/>
<circle cx="2095.1" cy="1516.8" r="2.4" fill="#f7b04a" stroke="#7a4a0a" stroke-width="0.8"/>
<circle cx="2110.1" cy="1518.4" r="2.4" fill="#f7b04a" stroke="#7a4a0a" stroke-width="0.8"/>
<circle cx="2103.4" cy="1520.1" r="2.4" fill="#f7b04a" stroke="#7a4a0a" stroke-width="0.8"/>
<circle cx="2095.6" cy="1521.7" r="2.4" fill="#f7b04a" stroke="#7a4a0a" stroke-width="0.8"/>
<circle cx="2106" cy="1523.3" r="2.4" fill="#f7b04a" stroke="#7a4a0a" stroke-width="0.8"/>
<circle cx="2099.3" cy="1528.3" r="2.4" fill="#f7b04a" stroke="#7a4a0a" stroke-width="0.8"/>
<circle cx="2097.1" cy="1529.9" r="2.4" fill="#f7b04a" stroke="#7a4a0a" stroke-width="0.8"/>
<circle cx="2102.6" cy="1531.6" r="2.4" fill="#f7b04a" stroke="#7a4a0a" stroke-width="0.8"/>
<circle cx="2096" cy="1533.2" r="2.4" fill="#f7b04a" stroke="#7a4a0a" stroke-width="0.8"/>
<circle cx="2097.4" cy="1534.8" r="2.4" fill="#f7b04a" stroke="#7a4a0a" stroke-width="0.8"/>
<circle cx="2109.8" cy="1538.1" r="2.4" fill="#f7b04a" stroke="#7a4a0a" stroke-width="0.8"/>
<circle cx="2106.7" cy="1541.4" r="2.4" fill="#f7b04a" stroke="#7a4a0a" stroke-width="0.8"/>
<circle cx="2093.6" cy="1543.1" r="2.4" fill="#f7b04a" stroke="#7a4a0a" stroke-width="0.8"/>
<circle cx="2108.2" cy="1544.7" r="2.4" fill="#f7b04a" stroke="#7a4a0a" stroke-width="0.8"/>
<circle cx="2093.7" cy="1549.6" r="2.4" fill="#f7b04a" stroke="#7a4a0a" stroke-width="0.8"/>
<circle cx="2099.7" cy="1551.3" r="2.4" fill="#f7b04a" stroke="#7a4a0a" stroke-width="0.8"/>
<circle cx="2110.6" cy="1552.9" r="2.4" fill="#f7b04a" stroke="#7a4a0a" stroke-width="0.8"/>
<circle cx="2105.2" cy="1566" r="2.4" fill="#f7b04a" stroke="#7a4a0a" stroke-width="0.8"/>
<circle cx="2099.2" cy="1574.3" r="2.4" fill="#f7b04a" stroke="#7a4a0a" stroke-width="0.8"/>
<circle cx="2100.6" cy="1577.5" r="2.4" fill="#f7b04a" stroke="#7a4a0a" stroke-width="0.8"/>
<circle cx="2100.8" cy="1579.2" r="2.4" fill="#f7b04a" stroke="#7a4a0a" stroke-width="0.8"/>
<path d="M2024,1307 V1304.1 H2099 V1307" fill="none" stroke="#2b2b2b" stroke-width="1.4"/>
<text transform="translate(2040.5,1304) scale(1.302,1)" font-size="27">***</text>
<text transform="translate(1970.6,1652.7) scale(1.017,1)" font-size="26.5">dPAG</text>
<text transform="translate(2056.7,1652.7) scale(1.000,1)" font-size="26.5">dPAG +</text>
<text transform="translate(2045.9,1683.5) scale(1.050,1)" font-size="26.5">NAc<tspan font-size="18.5" dy="-12">Shelter</tspan></text>
</svg>
</body></html>
